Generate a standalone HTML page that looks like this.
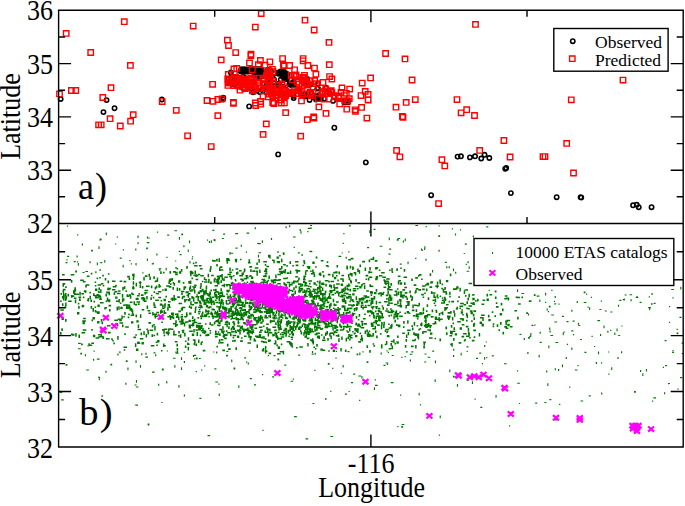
<!DOCTYPE html>
<html><head><meta charset="utf-8"><style>
html,body{margin:0;padding:0;background:#fff;width:685px;height:506px;overflow:hidden}
svg{display:block}
text{font-family:"Liberation Serif",serif;fill:#000}
</style></head><body>
<svg width="685" height="506" viewBox="0 0 685 506">
<path fill="#007800" d="M95.6 337.2h3.6v1.5h-3.6zM291.5 346.1h1.6v1.6h-1.6zM426.5 282.8h2.7v1.6h-2.7zM304 313.1h1.6v2.7h-1.6zM160.6 300h1.6v1.6h-1.6zM150.8 345.1h3.6v1.5h-3.6zM222.2 305.9h1.5v3.6h-1.5zM196.8 274.9h1.6v1.6h-1.6zM277.8 346.3h1.6v1.6h-1.6zM221.1 317.5h1.5v3.6h-1.5zM279.9 326.2h1.5v3.6h-1.5zM390.8 340.7h3.6v1.5h-3.6zM104.7 277.9h1.6v2.7h-1.6zM488.3 318.9h2.4v2.4h-2.4zM342.2 299.8h2.4v2.4h-2.4zM70.8 280.1h1.6v2.7h-1.6zM210.4 289.6h1.6v1.6h-1.6zM62.6 283.1h2.7v1.6h-2.7zM249.2 350.5h1.2v1.2h-1.2zM349 328h1.5v3.6h-1.5zM340.3 291.5h2.7v1.6h-2.7zM240.1 307.1h2.4v2.4h-2.4zM406.7 312h1.6v1.6h-1.6zM116 300.4h2.7v1.6h-2.7zM386.1 308.2h1.6v1.6h-1.6zM194 284.7h2.7v1.6h-2.7zM198.8 357.9h2v1.2h-2zM295.4 307.5h1.6v1.6h-1.6zM215.9 319.9h2.4v2.4h-2.4zM263.7 295.4h1.5v3.6h-1.5zM213.6 238.9h1.2v2h-1.2zM213.6 279h1.5v3.6h-1.5zM195.1 306.4h1.6v1.6h-1.6zM290.5 336.5h2.7v1.6h-2.7zM473 293.9h1.6v1.6h-1.6zM201.1 369.5h1.2v1.2h-1.2zM390.6 314.6h1.6v1.6h-1.6zM547.3 383.3h1.1v2.7h-1.1zM341.4 274.7h2.7v1.6h-2.7zM187.7 249.4h1.1v2.7h-1.1zM452.9 288.3h1.6v1.6h-1.6zM281 313.6h1.5v3.6h-1.5zM276.6 297h1.5v3.6h-1.5zM453.5 327.3h1.6v2.7h-1.6zM230.4 313.2h2.7v1.6h-2.7zM217.5 319.1h1.6v1.6h-1.6zM247.5 331h1.6v2.7h-1.6zM577.4 365.1h1.2v1.2h-1.2zM287.6 329.8h1.5v3.6h-1.5zM257 290.9h1.6v2.7h-1.6zM122.6 264.7h1.1v2.7h-1.1zM220.2 291.6h2.7v1.6h-2.7zM93.5 350.5h1.2v1.2h-1.2zM355.7 316.1h1.6v2.7h-1.6zM191.7 258.2h1.2v1.2h-1.2zM310.3 339.3h1.6v1.6h-1.6zM261.3 281.6h3.6v1.5h-3.6zM148.4 273.7h1.6v2.7h-1.6zM225.5 315.9h2.7v1.6h-2.7zM357 288h1.6v1.6h-1.6zM198.9 265h2.7v1.6h-2.7zM135.5 314.6h1.6v2.7h-1.6zM209.3 298.9h2.4v2.4h-2.4zM312.8 288.5h1.6v1.6h-1.6zM298.2 354.5h2v1.2h-2zM269.5 302.7h1.6v2.7h-1.6zM370.7 323.1h2.7v1.6h-2.7zM417.4 315.8h1.6v1.6h-1.6zM445.9 279.9h2.4v2.4h-2.4zM167.6 304.1h2.4v2.4h-2.4zM278.3 278.9h2.7v1.6h-2.7zM201.1 325h1.6v2.7h-1.6zM141.8 285.9h1.6v2.7h-1.6zM248.3 309h2.7v1.6h-2.7zM450.8 325h1.6v2.7h-1.6zM398.4 279.9h2.7v1.6h-2.7zM239.8 304.5h1.6v1.6h-1.6zM351.5 305.1h1.6v1.6h-1.6zM216.1 279.1h1.6v1.6h-1.6zM367.5 335.4h2.7v1.6h-2.7zM178.4 385h1.1v2.7h-1.1zM321.9 299.7h1.6v2.7h-1.6zM243.7 322.9h2.7v1.6h-2.7zM482.3 323.8h1.6v2.7h-1.6zM421.7 249.7h1.2v1.2h-1.2zM68.1 300.5h3.6v1.5h-3.6zM304.1 330.1h1.5v3.6h-1.5zM106.8 297.6h1.5v3.6h-1.5zM284.4 328.3h2.7v1.6h-2.7zM247.9 262h2.7v1.6h-2.7zM231.4 281.7h1.6v1.6h-1.6zM482.5 299.5h2.7v1.6h-2.7zM169.9 283.3h1.6v1.6h-1.6zM299.6 315.5h2.4v2.4h-2.4zM209.5 268.5h1.5v3.6h-1.5zM384.7 330.3h1.6v1.6h-1.6zM155.3 280.3h2.7v1.6h-2.7zM207.5 306.8h2.7v1.6h-2.7zM230.6 296.4h1.5v3.6h-1.5zM444.4 307h3.6v1.5h-3.6zM279 310h2.4v2.4h-2.4zM133.1 273.5h1.5v3.6h-1.5zM502.5 331.7h1.6v2.7h-1.6zM267.8 339.5h2.4v2.4h-2.4zM230.6 282.7h2.7v1.6h-2.7zM219.7 269.3h3.6v1.5h-3.6zM292.4 327.6h1.6v2.7h-1.6zM411.5 296.3h1.5v3.6h-1.5zM240.6 301.7h3.6v1.5h-3.6zM375.2 306h2.7v1.6h-2.7zM580.5 400.5h2.7v1.1h-2.7zM142.7 299.7h2.7v1.6h-2.7zM145.9 285.6h3.6v1.5h-3.6zM381.1 321.9h1.6v2.7h-1.6zM189.9 280.4h1.5v3.6h-1.5zM549.2 327.4h1.1v2.7h-1.1zM500 322.1h1.6v2.7h-1.6zM240.8 312.6h1.6v2.7h-1.6zM188.5 319.7h2.4v2.4h-2.4zM399.7 302.8h1.6v2.7h-1.6zM246.7 301.9h1.6v1.6h-1.6zM215.1 316.1h2.7v1.6h-2.7zM99.3 239.4h2v1.2h-2zM248.4 315.3h3.6v1.5h-3.6zM216.3 305.8h1.6v1.6h-1.6zM341.7 295.1h1.6v2.7h-1.6zM359.5 264.5h1.6v2.7h-1.6zM313 300.7h1.6v1.6h-1.6zM259 317.2h2.7v1.6h-2.7zM272.4 333.7h2.4v2.4h-2.4zM252.4 294.5h1.6v1.6h-1.6zM300.6 331.8h1.6v2.7h-1.6zM456.2 286.3h2.4v2.4h-2.4zM445.4 291.1h1.5v3.6h-1.5zM324.8 299.5h2.7v1.6h-2.7zM270.6 279.5h3.6v1.5h-3.6zM287.4 307.7h2.7v1.6h-2.7zM192.9 300.1h1.6v1.6h-1.6zM506.5 319.8h3.6v1.5h-3.6zM231.5 317.8h3.6v1.5h-3.6zM218.8 339.2h1.6v2.7h-1.6zM256.2 336.5h3.6v1.5h-3.6zM310.8 303.1h2.7v1.6h-2.7zM598 351.6h1.1v2.7h-1.1zM266.7 310.4h1.5v3.6h-1.5zM221.9 306.7h2.7v1.6h-2.7zM303 280.7h2.4v2.4h-2.4zM256.6 308.1h1.5v3.6h-1.5zM371.1 299.2h2.4v2.4h-2.4zM400.6 294.2h1.6v1.6h-1.6zM187.7 337.2h1.5v3.6h-1.5zM323.4 293h2.4v2.4h-2.4zM326.7 261.3h1.6v1.6h-1.6zM198.3 312.9h1.6v1.6h-1.6zM372.4 332.9h1.6v2.7h-1.6zM147.5 331.9h1.6v2.7h-1.6zM129.8 296h1.6v2.7h-1.6zM668.9 321.7h1.2v1.2h-1.2zM377.7 307.8h2.7v1.6h-2.7zM282.5 292.5h1.5v3.6h-1.5zM97.4 304.6h2.4v2.4h-2.4zM363.3 306.5h3.6v1.5h-3.6zM430.4 281.2h2.7v1.6h-2.7zM448.6 266.3h1.2v2h-1.2zM434.5 337.7h1.6v1.6h-1.6zM253.5 317h1.5v3.6h-1.5zM282.4 299h1.6v2.7h-1.6zM390.9 297.2h1.5v3.6h-1.5zM284.3 313.7h1.6v2.7h-1.6zM125.8 360.3h1.8v1.8h-1.8zM619.3 299.7h2v1.2h-2zM312.5 341h1.5v3.6h-1.5zM291 331h1.6v2.7h-1.6zM111.9 280.6h3.6v1.5h-3.6zM215.5 291.1h2.7v1.6h-2.7zM304 293.9h2.4v2.4h-2.4zM319.2 280.4h1.5v3.6h-1.5zM232.6 334.8h3.6v1.5h-3.6zM226.2 312.2h3.6v1.5h-3.6zM201.8 280.7h1.6v1.6h-1.6zM106.9 325h3.6v1.5h-3.6zM185.7 299h1.6v1.6h-1.6zM424.5 353.4h2v1.2h-2zM99.5 297.7h1.6v1.6h-1.6zM299.4 289.5h1.6v2.7h-1.6zM192.9 296.7h1.5v3.6h-1.5zM293.3 316.6h1.5v3.6h-1.5zM317.2 302.4h1.6v1.6h-1.6zM324.8 280h3.6v1.5h-3.6zM394.4 342.8h1.6v1.6h-1.6zM233.4 323.4h1.6v1.6h-1.6zM121.9 298.7h1.5v3.6h-1.5zM530.3 333.1h1.1v2.7h-1.1zM195.4 329.2h2.7v1.6h-2.7zM265.2 295.8h3.6v1.5h-3.6zM229.2 271.6h2.7v1.6h-2.7zM75.2 333.1h1.5v3.6h-1.5zM61.5 317.5h2.4v2.4h-2.4zM366.6 333.6h3.6v1.5h-3.6zM321.1 283.6h3.6v1.5h-3.6zM322 320.5h2.7v1.6h-2.7zM303.2 319.3h2.4v2.4h-2.4zM305.7 324.2h2.7v1.6h-2.7zM345.6 256.7h1.2v2h-1.2zM457.1 300.6h1.6v1.6h-1.6zM266.5 312.2h2.7v1.6h-2.7zM484.1 345.1h1.2v2h-1.2zM263.1 279.7h2.7v1.6h-2.7zM424.4 319.9h2.4v2.4h-2.4zM528.8 300.3h1.8v1.8h-1.8zM441 302.2h3.6v1.5h-3.6zM616.5 328.5h1.1v2.7h-1.1zM71 295.1h1.6v2.7h-1.6zM132.7 281.2h1.5v3.6h-1.5zM260.1 315h1.6v1.6h-1.6zM405.4 305h1.5v3.6h-1.5zM260 282.5h1.6v1.6h-1.6zM136.5 301.2h3.6v1.5h-3.6zM197.6 273.7h2.7v1.6h-2.7zM218.1 306h2.7v1.6h-2.7zM276.5 256.4h2.4v2.4h-2.4zM439.1 318.5h3.6v1.5h-3.6zM406.4 297.4h1.6v2.7h-1.6zM82.3 320.3h3.6v1.5h-3.6zM200.5 296.6h2.4v2.4h-2.4zM97.1 321h2.4v2.4h-2.4zM224.1 337.6h2.7v1.6h-2.7zM548.8 305.8h1.8v1.8h-1.8zM71.9 334.2h2.7v1.6h-2.7zM297.6 270.1h2.7v1.6h-2.7zM211.4 296.5h2.7v1.6h-2.7zM519.4 333.9h2v1.2h-2zM205.1 309.2h1.5v3.6h-1.5zM413.7 322.1h1.5v3.6h-1.5zM301.5 254.1h1.2v2h-1.2zM153.4 334.7h1.6v1.6h-1.6zM301.6 324.4h1.6v2.7h-1.6zM380.9 344.2h1.6v2.7h-1.6zM409.8 359.6h1.2v2h-1.2zM466 335.6h3.6v1.5h-3.6zM172.7 298.2h3.6v1.5h-3.6zM124.5 304.3h3.6v1.5h-3.6zM386.8 330.7h1.6v1.6h-1.6zM241.1 325.9h1.6v2.7h-1.6zM466 319.8h1.6v1.6h-1.6zM205.3 279.1h1.6v1.6h-1.6zM291.3 338.4h1.6v1.6h-1.6zM204.1 365.2h1.2v1.2h-1.2zM275.7 287.6h2.4v2.4h-2.4zM403.7 269h1.6v2.7h-1.6zM160.9 349.9h1.6v1.6h-1.6zM319.2 287.3h1.5v3.6h-1.5zM165.4 295.8h1.6v1.6h-1.6zM264.4 330.4h1.6v2.7h-1.6zM62.5 283.2h1.5v3.6h-1.5zM209.5 330h1.6v1.6h-1.6zM322.1 294.6h1.5v3.6h-1.5zM306.8 325.7h1.6v2.7h-1.6zM215 336h2.7v1.6h-2.7zM136.2 297.8h1.6v1.6h-1.6zM203.7 330.3h1.5v3.6h-1.5zM381.1 271.9h3.6v1.5h-3.6zM254.9 303.1h2.7v1.6h-2.7zM169 306.5h1.6v1.6h-1.6zM466.5 346.2h2v1.2h-2zM171.5 278.1h1.6v2.7h-1.6zM183.4 286.5h1.5v3.6h-1.5zM268.3 312h2.7v1.6h-2.7zM466.4 301.3h1.6v2.7h-1.6zM481.1 314.4h3.6v1.5h-3.6zM320.1 328.3h1.6v1.6h-1.6zM362.9 318h2.7v1.6h-2.7zM188.3 281h1.6v2.7h-1.6zM331.6 324.7h2.7v1.6h-2.7zM201.3 341.2h1.6v1.6h-1.6zM237.7 311.6h1.6v1.6h-1.6zM425.2 326.4h2.7v1.6h-2.7zM554.6 296h1.2v2h-1.2zM325.9 322.7h1.6v2.7h-1.6zM390.7 310.6h3.6v1.5h-3.6zM478.7 332.9h1.5v3.6h-1.5zM278.4 320.7h1.6v1.6h-1.6zM680.3 286.7h1.1v2.7h-1.1zM285.5 317.7h2.7v1.6h-2.7zM401.3 425.9h1.8v1.8h-1.8zM617.4 356.9h1.2v2h-1.2zM329.4 313.7h2.7v1.6h-2.7zM203.1 291.8h1.5v3.6h-1.5zM153.5 313.5h3.6v1.5h-3.6zM275.7 310.5h1.5v3.6h-1.5zM147.3 329.8h1.6v2.7h-1.6zM379.3 320h1.6v1.6h-1.6zM268.6 306.4h1.5v3.6h-1.5zM290.4 326.2h1.5v3.6h-1.5zM232.7 297.4h1.5v3.6h-1.5zM310.8 317h2.7v1.6h-2.7zM280.7 336.3h3.6v1.5h-3.6zM364.2 323.1h2.7v1.6h-2.7zM349.5 288.8h1.6v2.7h-1.6zM220 303.4h1.5v3.6h-1.5zM330.4 335.6h1.5v3.6h-1.5zM351.3 322.5h1.6v1.6h-1.6zM260 329.6h2.7v1.6h-2.7zM117.8 290.2h2.7v1.6h-2.7zM209.4 322.2h1.6v2.7h-1.6zM375.7 289.1h1.6v2.7h-1.6zM230.1 315.3h2.7v1.6h-2.7zM290.1 344.6h2.7v1.6h-2.7zM438.3 317.1h1.5v3.6h-1.5zM331.7 325.2h1.6v1.6h-1.6zM288.8 283.6h1.5v3.6h-1.5zM322.3 321.5h2.7v1.6h-2.7zM415.1 290.1h1.6v2.7h-1.6zM648.2 307.1h2.7v1.1h-2.7zM414.8 291.5h1.6v1.6h-1.6zM173.5 283h1.6v2.7h-1.6zM289.1 225.2h1.2v2h-1.2zM78 348.2h2.7v1.1h-2.7zM235.3 290.6h2.7v1.6h-2.7zM174.9 271.8h2.7v1.6h-2.7zM404.7 292.1h2.7v1.6h-2.7zM325.1 320.5h3.6v1.5h-3.6zM305.4 331.3h2.4v2.4h-2.4zM390.4 283.1h1.6v2.7h-1.6zM236.4 304.3h1.6v1.6h-1.6zM219 267.5h1.5v3.6h-1.5zM273.7 303.8h2.7v1.6h-2.7zM388.2 301.3h1.6v2.7h-1.6zM298.6 286.3h1.5v3.6h-1.5zM326 312h3.6v1.5h-3.6zM193.3 329h1.5v3.6h-1.5zM345.3 312.9h1.6v1.6h-1.6zM311.5 309.4h1.6v1.6h-1.6zM352.7 289.9h3.6v1.5h-3.6zM348.5 294h2.7v1.6h-2.7zM370.7 322.4h1.6v2.7h-1.6zM539.7 341.8h2v1.2h-2zM207.6 310.2h1.5v3.6h-1.5zM60.1 300.5h1.6v1.6h-1.6zM516.4 296.7h3.6v1.5h-3.6zM454.9 233.4h1.2v2h-1.2zM319.1 308.6h2.7v1.6h-2.7zM473 302h1.6v2.7h-1.6zM96.6 277.6h1.6v1.6h-1.6zM545.1 292.8h1.1v2.7h-1.1zM205.2 334.7h2.7v1.6h-2.7zM303.5 289.4h1.5v3.6h-1.5zM169.3 278.6h2.4v2.4h-2.4zM449.1 291.7h1.5v3.6h-1.5zM135.6 297.7h2.4v2.4h-2.4zM417.7 333.5h1.5v3.6h-1.5zM308.5 323.7h1.6v1.6h-1.6zM205.3 291.9h1.6v2.7h-1.6zM248.1 317.2h3.6v1.5h-3.6zM296.6 324.6h1.6v1.6h-1.6zM250.3 313.8h2.7v1.6h-2.7zM189 298h1.6v2.7h-1.6zM338.4 271.6h1.6v2.7h-1.6zM288.5 289.1h1.6v1.6h-1.6zM61.9 303.3h1.6v2.7h-1.6zM285 316.7h2.4v2.4h-2.4zM298 283.3h2.7v1.6h-2.7zM334.2 315.7h2.7v1.6h-2.7zM390.8 382.1h2.7v1.1h-2.7zM163.6 334.6h1.6v1.6h-1.6zM255.4 270.4h2.7v1.6h-2.7zM256.4 287.4h1.6v1.6h-1.6zM338.4 308.2h2.7v1.6h-2.7zM451.3 330.9h1.5v3.6h-1.5zM357.2 323.6h2.7v1.6h-2.7zM334.2 308.6h1.6v2.7h-1.6zM242 305.5h2.7v1.6h-2.7zM283.9 282.9h1.6v1.6h-1.6zM186.5 294.4h2.7v1.6h-2.7zM295 261.1h3.6v1.5h-3.6zM266.7 328.6h3.6v1.5h-3.6zM402.2 295.9h1.6v2.7h-1.6zM361.7 299h2.7v1.6h-2.7zM370.1 335.3h3.6v1.5h-3.6zM170.9 312.5h1.6v2.7h-1.6zM135.9 380.1h1.1v2.7h-1.1zM488.6 289.7h1.2v1.2h-1.2zM200.8 329.8h2.7v1.6h-2.7zM295.2 285.5h1.6v2.7h-1.6zM241.6 327.6h1.6v2.7h-1.6zM439.3 279.6h1.6v2.7h-1.6zM148.4 237.5h1.2v1.2h-1.2zM146.8 258.4h1.1v2.7h-1.1zM246.7 292.1h2.7v1.6h-2.7zM139.9 314.3h1.5v3.6h-1.5zM473.7 336.3h1.6v1.6h-1.6zM431.6 309.5h1.6v2.7h-1.6zM574.8 369.4h2.7v1.1h-2.7zM442.7 291.2h3.6v1.5h-3.6zM279.6 324.5h1.5v3.6h-1.5zM424.2 361.4h2v1.2h-2zM267.7 294.4h2.7v1.6h-2.7zM466.6 350.8h1.2v1.2h-1.2zM455.1 271.7h1.2v2h-1.2zM327.2 338h1.6v2.7h-1.6zM152.8 296.8h1.6v1.6h-1.6zM388.1 297.3h1.5v3.6h-1.5zM196.1 324.4h1.5v3.6h-1.5zM411.2 278.4h1.6v2.7h-1.6zM416.5 315.8h2.7v1.6h-2.7zM254.6 295.3h2.4v2.4h-2.4zM244.4 314.1h2.7v1.6h-2.7zM246.5 232.6h2.7v1.1h-2.7zM314.1 305.2h3.6v1.5h-3.6zM221.1 330h1.6v2.7h-1.6zM160.8 309.6h1.6v1.6h-1.6zM280.4 299h1.6v1.6h-1.6zM227.8 309.9h1.5v3.6h-1.5zM128.2 313.6h1.6v1.6h-1.6zM554.2 303.2h2v1.2h-2zM315.5 309h1.6v1.6h-1.6zM63.3 294.2h1.5v3.6h-1.5zM236.1 312.3h1.5v3.6h-1.5zM278.6 297.1h1.5v3.6h-1.5zM205.7 301.2h3.6v1.5h-3.6zM235.5 258.8h1.5v3.6h-1.5zM249.2 295.1h1.6v2.7h-1.6zM351.2 304.8h2.7v1.6h-2.7zM262.9 325.4h1.6v1.6h-1.6zM154.2 326h1.5v3.6h-1.5zM319.3 286.4h2.7v1.6h-2.7zM286 321.9h3.6v1.5h-3.6zM119.2 319.6h2.7v1.6h-2.7zM351 382h2v1.2h-2zM391.1 309.5h1.6v2.7h-1.6zM555.2 418.8h1.8v1.8h-1.8zM202.8 299.4h2.7v1.6h-2.7zM199.6 295.9h2.7v1.6h-2.7zM573 334.1h1.2v1.2h-1.2zM170.6 315.9h2.4v2.4h-2.4zM183.7 351.8h1.2v1.2h-1.2zM230.4 307.6h1.6v2.7h-1.6zM175.2 273.7h2.7v1.6h-2.7zM132.7 276.3h1.5v3.6h-1.5zM314.6 317.5h1.5v3.6h-1.5zM423.2 341.6h2.7v1.6h-2.7zM447.6 312.1h2.7v1.6h-2.7zM323.1 301.5h1.5v3.6h-1.5zM317 327h1.6v1.6h-1.6zM252.5 298.3h3.6v1.5h-3.6zM521.4 296.6h1.6v1.6h-1.6zM504 363.2h2.7v1.1h-2.7zM479.9 317.1h3.6v1.5h-3.6zM185.9 312.2h1.5v3.6h-1.5zM298.5 320.7h1.6v2.7h-1.6zM271.5 300.4h1.5v3.6h-1.5zM234.8 293.9h1.6v1.6h-1.6zM266.8 296.9h2.7v1.6h-2.7zM302.5 264.7h1.6v1.6h-1.6zM387.5 311.5h3.6v1.5h-3.6zM270.4 285.6h1.6v2.7h-1.6zM347.9 274h1.5v3.6h-1.5zM191.6 320h3.6v1.5h-3.6zM75.4 293.5h3.6v1.5h-3.6zM126.7 304.5h3.6v1.5h-3.6zM203.7 291.4h1.5v3.6h-1.5zM352.8 300.7h1.6v1.6h-1.6zM166.2 380.9h1.1v2.7h-1.1zM330 290.9h2.4v2.4h-2.4zM125.2 326.2h3.6v1.5h-3.6zM250.4 298.6h2.7v1.6h-2.7zM476 357.7h2v1.2h-2zM237.2 318.1h1.6v1.6h-1.6zM146.2 295.9h1.5v3.6h-1.5zM244.2 357.3h2v1.2h-2zM327.8 363h1.8v1.8h-1.8zM220 341.9h3.6v1.5h-3.6zM280.6 302.5h2.7v1.6h-2.7zM200 315.5h1.6v1.6h-1.6zM64.7 305.9h1.6v2.7h-1.6zM286.2 320.8h2.4v2.4h-2.4zM400 394.6h1.2v1.2h-1.2zM281.7 334h2.7v1.6h-2.7zM550.4 335h2.7v1.1h-2.7zM672.1 351.7h2v1.2h-2zM347.3 331.3h1.6v1.6h-1.6zM350.7 257.8h2.7v1.6h-2.7zM282.5 294.8h1.6v1.6h-1.6zM179.9 334.3h1.5v3.6h-1.5zM404.4 295.8h2.7v1.6h-2.7zM277.8 310.4h1.6v1.6h-1.6zM267.9 307.6h3.6v1.5h-3.6zM377 315.4h1.6v1.6h-1.6zM138.4 293.1h1.6v1.6h-1.6zM345.9 292.8h2.7v1.6h-2.7zM379.7 245.7h2.7v1.1h-2.7zM318.6 281.8h1.6v1.6h-1.6zM277.5 325.5h1.6v2.7h-1.6zM125.5 290.3h1.6v1.6h-1.6zM397.9 325.7h1.6v1.6h-1.6zM115.2 284.8h1.6v1.6h-1.6zM173.1 271.1h2.7v1.6h-2.7zM106.2 291.6h3.6v1.5h-3.6zM280.8 343.6h1.6v1.6h-1.6zM191.1 271.8h2.4v2.4h-2.4zM254.6 294.1h1.6v1.6h-1.6zM238.3 385.3h1.1v2.7h-1.1zM302.1 291.4h1.6v1.6h-1.6zM232.3 303.8h2.7v1.6h-2.7zM350.3 297.3h1.5v3.6h-1.5zM87.5 345.2h1.2v1.2h-1.2zM178.8 288h1.6v2.7h-1.6zM205.7 285.6h1.5v3.6h-1.5zM316 332.7h2.7v1.6h-2.7zM167.2 234.6h2v1.2h-2zM313.4 346.5h1.6v1.6h-1.6zM450.1 311h1.6v2.7h-1.6zM197.7 291.6h2.4v2.4h-2.4zM376.1 335.6h1.6v2.7h-1.6zM228.4 322.3h1.6v2.7h-1.6zM314.2 303.2h1.6v1.6h-1.6zM421 248.6h1.2v2h-1.2zM222.5 335.4h2.7v1.6h-2.7zM314.3 329h1.6v2.7h-1.6zM441.8 299.6h2.7v1.6h-2.7zM304.5 282.1h2.4v2.4h-2.4zM315.4 298.2h1.6v1.6h-1.6zM391.7 354.9h2v1.2h-2zM282.7 301.3h1.6v2.7h-1.6zM287.3 298.5h2.4v2.4h-2.4zM389.3 286.3h1.6v1.6h-1.6zM219.1 314.8h2.4v2.4h-2.4zM186.1 267.2h1.6v1.6h-1.6zM235.4 347.2h1.6v2.7h-1.6zM370.3 292.1h2.7v1.6h-2.7zM248.7 302.6h2.7v1.6h-2.7zM371.3 310.7h1.5v3.6h-1.5zM429.2 325h2.7v1.6h-2.7zM277.4 251h1.2v2h-1.2zM268 254.8h1.6v2.7h-1.6zM304.3 306.2h3.6v1.5h-3.6zM276.9 320.3h2.4v2.4h-2.4zM334.4 292.5h1.6v1.6h-1.6zM228 348.3h2.7v1.6h-2.7zM175 324.3h1.6v2.7h-1.6zM604.8 310.4h2v1.2h-2zM244.4 309.9h1.6v1.6h-1.6zM168.4 281.3h1.6v2.7h-1.6zM366.7 296.3h2.7v1.6h-2.7zM230 333.5h1.6v2.7h-1.6zM285.6 330.7h1.5v3.6h-1.5zM313.1 301.1h1.5v3.6h-1.5zM303.3 260.1h1.6v2.7h-1.6zM239.1 329h1.6v2.7h-1.6zM645.9 368.9h1.1v2.7h-1.1zM383.1 324.3h1.5v3.6h-1.5zM151.7 263.3h2v1.2h-2zM258.6 310.1h2.4v2.4h-2.4zM335.2 271.2h2.4v2.4h-2.4zM270.4 285.5h1.6v1.6h-1.6zM135.6 282.8h1.5v3.6h-1.5zM327.5 297h1.6v1.6h-1.6zM204.7 330.6h1.6v2.7h-1.6zM514.4 309.9h2.7v1.6h-2.7zM405.8 351.2h2v1.2h-2zM243.1 313.3h1.5v3.6h-1.5zM135.5 262.9h1.1v2.7h-1.1zM215 299.4h1.6v1.6h-1.6zM339.8 329.2h2.7v1.6h-2.7zM291.6 331.6h1.6v2.7h-1.6zM294.5 290.6h1.5v3.6h-1.5zM141.5 342.1h2.4v2.4h-2.4zM452.6 330.4h2.7v1.6h-2.7zM358.7 270.1h1.5v3.6h-1.5zM283.1 263.9h2.7v1.6h-2.7zM203.5 301.3h1.5v3.6h-1.5zM263.6 296.5h1.5v3.6h-1.5zM447 315.5h3.6v1.5h-3.6zM187.8 292.9h2.7v1.6h-2.7zM80.2 279.4h3.6v1.5h-3.6zM441.6 283.6h1.6v1.6h-1.6zM144.5 289.7h3.6v1.5h-3.6zM342.2 295.1h3.6v1.5h-3.6zM250.2 306.2h1.5v3.6h-1.5zM256.3 297.3h1.5v3.6h-1.5zM172.4 287.1h1.6v2.7h-1.6zM190.2 301.3h1.5v3.6h-1.5zM348.3 259h2.7v1.6h-2.7zM316.8 318.7h1.6v1.6h-1.6zM434.6 304.7h1.6v1.6h-1.6zM89.5 295.7h1.5v3.6h-1.5zM195.4 274.2h1.6v2.7h-1.6zM92.5 308.1h1.5v3.6h-1.5zM217.8 279.6h1.5v3.6h-1.5zM300.6 333h1.6v1.6h-1.6zM277.4 273.7h3.6v1.5h-3.6zM304.4 336.1h2.7v1.6h-2.7zM309.4 250.8h2.7v1.1h-2.7zM295.3 314.8h2.7v1.6h-2.7zM389.2 248.6h2v1.2h-2zM280.5 319.5h1.5v3.6h-1.5zM412 339.8h3.6v1.5h-3.6zM323.9 316.5h1.5v3.6h-1.5zM349.6 272.7h1.6v2.7h-1.6zM534.3 324.6h1.2v1.2h-1.2zM305.5 333.8h1.5v3.6h-1.5zM221.3 274h1.6v2.7h-1.6zM123.7 349.2h1.6v1.6h-1.6zM320.4 348.4h2.4v2.4h-2.4zM558.4 303.6h1.2v1.2h-1.2zM200.8 315.6h2.7v1.6h-2.7zM309.1 313.9h1.5v3.6h-1.5zM97.6 284.3h3.6v1.5h-3.6zM314.6 352.7h1.2v2h-1.2zM289.1 310.8h1.5v3.6h-1.5zM273.6 302.9h1.6v1.6h-1.6zM298.9 296.3h1.6v2.7h-1.6zM332.9 307.5h1.6v1.6h-1.6zM438.7 318.8h1.6v2.7h-1.6zM228.9 301.6h1.6v2.7h-1.6zM303.5 305.4h1.6v2.7h-1.6zM377.9 292.9h3.6v1.5h-3.6zM509.9 326h2.7v1.6h-2.7zM245.8 251.6h1.2v1.2h-1.2zM324.3 296.2h1.5v3.6h-1.5zM390.8 309.4h1.6v1.6h-1.6zM355 334.9h2.4v2.4h-2.4zM269.1 328.7h1.6v2.7h-1.6zM153.3 323.9h1.6v1.6h-1.6zM389 294.3h1.5v3.6h-1.5zM276.4 286.3h2.7v1.6h-2.7zM212.3 301h1.6v1.6h-1.6zM308.6 328.3h1.5v3.6h-1.5zM366.6 361.3h1.8v1.8h-1.8zM192.9 355.1h1.2v2h-1.2zM265.2 331.5h2.7v1.6h-2.7zM281.9 302.7h1.6v1.6h-1.6zM317.1 303.2h1.6v2.7h-1.6zM681.7 352.9h2v1.2h-2zM117.7 318.4h3.6v1.5h-3.6zM155.2 299.6h3.6v1.5h-3.6zM243.7 282.2h1.6v2.7h-1.6zM60.3 309.3h3.6v1.5h-3.6zM262.4 336.3h2.4v2.4h-2.4zM215.1 330.5h1.5v3.6h-1.5zM295.3 300.1h1.6v2.7h-1.6zM332.3 324.7h2.7v1.6h-2.7zM642.3 373.2h1.1v2.7h-1.1zM243.9 268.7h1.6v2.7h-1.6zM254.7 302.8h1.5v3.6h-1.5zM199.7 334.6h1.6v1.6h-1.6zM342.9 312.1h1.5v3.6h-1.5zM376.9 315.3h3.6v1.5h-3.6zM210.1 281.4h1.6v2.7h-1.6zM325.2 317.3h1.5v3.6h-1.5zM397.8 291.5h1.5v3.6h-1.5zM225.5 308.9h1.5v3.6h-1.5zM292.8 293.4h1.6v1.6h-1.6zM313.6 274.2h1.6v2.7h-1.6zM93 293.3h1.6v2.7h-1.6zM219.3 294.4h1.5v3.6h-1.5zM461.7 324h2.7v1.6h-2.7zM146.9 236.6h1.2v2h-1.2zM233.6 322.7h1.6v2.7h-1.6zM282.1 271h2.7v1.6h-2.7zM348.9 225.2h2v1.2h-2zM292.5 316.4h3.6v1.5h-3.6zM216.4 345.8h1.6v1.6h-1.6zM344.6 300.9h1.6v2.7h-1.6zM256.8 290.6h1.6v1.6h-1.6zM480.3 406.8h2v1.2h-2zM226.4 323.7h1.5v3.6h-1.5zM332.7 349.6h2.4v2.4h-2.4zM278.1 286.2h3.6v1.5h-3.6zM259.1 269.4h1.5v3.6h-1.5zM217.8 291.4h1.5v3.6h-1.5zM356.1 307h1.6v2.7h-1.6zM261.8 349.2h2.4v2.4h-2.4zM411.8 309.6h2.7v1.6h-2.7zM214.8 333.7h3.6v1.5h-3.6zM295 326.5h1.5v3.6h-1.5zM346.7 323.7h1.6v2.7h-1.6zM294.3 314.3h1.5v3.6h-1.5zM281.1 314.4h2.7v1.6h-2.7zM341.9 314h2.7v1.6h-2.7zM276.1 295.2h3.6v1.5h-3.6zM276.6 288.3h1.5v3.6h-1.5zM187.7 298.9h2.4v2.4h-2.4zM323.8 316h1.6v2.7h-1.6zM264.9 349.8h1.5v3.6h-1.5zM99.6 336.1h3.6v1.5h-3.6zM433.6 302.5h1.6v1.6h-1.6zM230.2 306h3.6v1.5h-3.6zM218.3 321.7h2.4v2.4h-2.4zM327.7 316h3.6v1.5h-3.6zM274.8 340.2h1.6v2.7h-1.6zM260 300.4h1.6v2.7h-1.6zM289.3 328.8h1.6v1.6h-1.6zM155.8 285.5h1.6v2.7h-1.6zM332.7 310.2h3.6v1.5h-3.6zM346.1 297.3h3.6v1.5h-3.6zM65 293.1h1.5v3.6h-1.5zM318.9 312.4h1.5v3.6h-1.5zM424.8 324h2.7v1.6h-2.7zM424 315.7h1.6v2.7h-1.6zM321.8 307.6h2.7v1.6h-2.7zM306.2 310.1h1.5v3.6h-1.5zM183.3 245.3h1.2v2h-1.2zM505.6 327.5h2.7v1.6h-2.7zM324.8 322.6h1.6v1.6h-1.6zM378.2 316.1h1.5v3.6h-1.5zM263.6 294h2.7v1.6h-2.7zM398.8 324.6h1.6v2.7h-1.6zM317.9 305.1h3.6v1.5h-3.6zM268.9 308.4h2.7v1.6h-2.7zM502 308.6h1.6v2.7h-1.6zM280.4 303.2h1.6v1.6h-1.6zM144.3 291.9h1.6v2.7h-1.6zM179.6 254h2v1.2h-2zM261.3 317.1h1.6v2.7h-1.6zM391.3 268h1.5v3.6h-1.5zM399.5 299.5h1.6v2.7h-1.6zM262.8 282.2h1.5v3.6h-1.5zM391.5 345.6h1.5v3.6h-1.5zM270.4 303.8h2.7v1.6h-2.7zM415.8 314.8h2.4v2.4h-2.4zM414.8 333.2h1.6v1.6h-1.6zM425.1 320h1.5v3.6h-1.5zM308 285.6h1.6v1.6h-1.6zM388.4 315.1h1.6v1.6h-1.6zM333.4 330.7h2.4v2.4h-2.4zM118.2 306.2h1.5v3.6h-1.5zM590.8 296.8h1.2v1.2h-1.2zM360.6 305.3h1.6v2.7h-1.6zM94.6 281.4h1.6v1.6h-1.6zM263.9 270.4h2.7v1.6h-2.7zM316.3 332.4h3.6v1.5h-3.6zM240.2 278.5h2.7v1.6h-2.7zM159.8 303.4h2.4v2.4h-2.4zM315.7 295.4h3.6v1.5h-3.6zM379.9 333.1h1.6v1.6h-1.6zM350.5 320.5h2.7v1.6h-2.7zM315.9 292.2h2.4v2.4h-2.4zM306.4 329.1h1.5v3.6h-1.5zM427.7 297.3h1.6v2.7h-1.6zM153.5 352.2h2v1.2h-2zM347.2 312.1h1.6v1.6h-1.6zM323.3 336.3h1.6v2.7h-1.6zM341.3 288.7h1.6v2.7h-1.6zM169.5 271h1.6v2.7h-1.6zM335.8 317.4h2.7v1.6h-2.7zM338 310.3h1.5v3.6h-1.5zM286.1 305.3h1.5v3.6h-1.5zM451.9 317h1.5v3.6h-1.5zM304.2 285h3.6v1.5h-3.6zM339.2 323.5h1.6v2.7h-1.6zM283.2 277.8h3.6v1.5h-3.6zM494.4 315.3h1.6v1.6h-1.6zM303 278.7h2.7v1.6h-2.7zM270.7 310.6h2.4v2.4h-2.4zM341.6 305.3h2.4v2.4h-2.4zM111.2 338.3h1.6v1.6h-1.6zM256.1 286.1h2.7v1.6h-2.7zM491.8 355.2h2v1.2h-2zM326.5 330.9h1.5v3.6h-1.5zM304.8 299.8h3.6v1.5h-3.6zM418.4 302.7h1.6v2.7h-1.6zM169.1 315.1h1.6v1.6h-1.6zM338.2 338.3h1.5v3.6h-1.5zM253.2 311.3h2.7v1.6h-2.7zM161.3 401.9h1.2v1.2h-1.2zM256.5 320.1h3.6v1.5h-3.6zM351.8 312.6h1.6v2.7h-1.6zM339.5 325.6h1.6v1.6h-1.6zM287.3 303.4h1.6v2.7h-1.6zM267.1 329.8h1.6v2.7h-1.6zM265.7 270.9h1.6v1.6h-1.6zM418.3 328.8h1.6v1.6h-1.6zM260.8 340.7h2.7v1.6h-2.7zM372.7 256.8h1.6v2.7h-1.6zM381 344.8h1.5v3.6h-1.5zM90.8 272.8h1.6v1.6h-1.6zM384 279.7h1.6v2.7h-1.6zM465.8 325.8h2.7v1.6h-2.7zM126.4 307.5h2.7v1.6h-2.7zM346.8 307.8h2.7v1.6h-2.7zM237.5 320.6h1.5v3.6h-1.5zM277.3 323.4h2.4v2.4h-2.4zM648.7 296.3h1.2v1.2h-1.2zM342.5 329h1.6v1.6h-1.6zM181.3 313.9h1.6v1.6h-1.6zM321.9 303.8h2.7v1.6h-2.7zM238.7 307.2h1.6v1.6h-1.6zM255.5 292h2.7v1.6h-2.7zM209.2 291.6h1.6v2.7h-1.6zM250.4 336.2h1.6v1.6h-1.6zM144.8 275.3h2.7v1.6h-2.7zM249.7 324.3h2.7v1.6h-2.7zM152 371.6h2.7v1.1h-2.7zM190.1 270.7h2.4v2.4h-2.4zM281.9 290.2h1.6v2.7h-1.6zM286.6 291.7h2.7v1.6h-2.7zM559.1 403.8h1.2v1.2h-1.2zM495.5 395h1.1v2.7h-1.1zM378.8 275h3.6v1.5h-3.6zM429.6 273.3h1.6v2.7h-1.6zM102.4 336.3h1.6v2.7h-1.6zM95.3 271.2h1.2v2h-1.2zM78.5 334.4h1.5v3.6h-1.5zM218.4 302.2h2.7v1.6h-2.7zM287.8 311.5h3.6v1.5h-3.6zM237.1 304.3h1.6v1.6h-1.6zM535.2 402.6h2v1.2h-2zM369.2 350.1h1.6v2.7h-1.6zM265 297.4h3.6v1.5h-3.6zM202.3 327.9h1.5v3.6h-1.5zM130.8 308.1h1.5v3.6h-1.5zM459.8 317.9h2.7v1.6h-2.7zM225.6 300.5h1.5v3.6h-1.5zM361.4 375.9h1.1v2.7h-1.1zM449.5 334.9h2.7v1.6h-2.7zM254.6 299h2.7v1.6h-2.7zM117.2 336.1h1.5v3.6h-1.5zM179.1 320.8h1.6v1.6h-1.6zM234.4 299.7h1.5v3.6h-1.5zM107.9 273.2h1.6v1.6h-1.6zM245 301.4h1.6v2.7h-1.6zM199.4 301.4h1.6v1.6h-1.6zM441.3 287.8h1.6v1.6h-1.6zM95 288.6h2.4v2.4h-2.4zM156.3 311.7h2.7v1.6h-2.7zM348.3 251.2h1.2v1.2h-1.2zM225.4 311.1h1.6v1.6h-1.6zM562.7 332.6h1.1v2.7h-1.1zM258.3 305.3h1.6v1.6h-1.6zM296.9 319h2.7v1.6h-2.7zM131 321.2h2.4v2.4h-2.4zM251.1 306.4h1.6v1.6h-1.6zM247.9 315.3h3.6v1.5h-3.6zM270.8 291.5h1.6v2.7h-1.6zM121.3 315.6h1.5v3.6h-1.5zM231.9 331h2.7v1.6h-2.7zM427.9 323h1.6v2.7h-1.6zM235.7 316.6h1.5v3.6h-1.5zM236.9 271.6h1.6v2.7h-1.6zM622.7 299h1.2v1.2h-1.2zM87.1 299.5h1.6v1.6h-1.6zM239.5 299.1h1.5v3.6h-1.5zM458.3 296.3h1.6v1.6h-1.6zM284 332.5h1.6v1.6h-1.6zM441.9 311.4h1.5v3.6h-1.5zM416.7 305h2.7v1.6h-2.7zM85.8 284.3h3.6v1.5h-3.6zM607.3 330.8h1.2v2h-1.2zM396.4 341.3h2.4v2.4h-2.4zM189.2 330.5h3.6v1.5h-3.6zM387 304.3h2.7v1.6h-2.7zM463.7 290.4h1.5v3.6h-1.5zM504.2 298h2.7v1.6h-2.7zM219.9 320.2h2.7v1.6h-2.7zM116.7 236.5h1.2v1.2h-1.2zM153.6 291.3h1.6v1.6h-1.6zM304.3 312.3h3.6v1.5h-3.6zM262.7 348.1h1.6v1.6h-1.6zM411.4 325.3h1.6v1.6h-1.6zM394.6 311.4h1.5v3.6h-1.5zM269.5 283.1h1.6v2.7h-1.6zM243.7 268.5h1.6v1.6h-1.6zM243 329h1.5v3.6h-1.5zM313.9 325.2h1.5v3.6h-1.5zM344.6 286.6h1.6v2.7h-1.6zM167.5 331.7h1.6v2.7h-1.6zM218.5 313.8h2.7v1.6h-2.7zM81 343.5h1.8v1.8h-1.8zM81.8 243.6h1.2v2h-1.2zM181.2 292.4h1.6v2.7h-1.6zM138 303.3h1.6v1.6h-1.6zM333.3 284.3h1.5v3.6h-1.5zM259.3 283.3h1.5v3.6h-1.5zM669 306.1h1.2v1.2h-1.2zM192.4 319.8h1.6v1.6h-1.6zM298.1 277.6h1.6v2.7h-1.6zM73.9 292.2h1.6v2.7h-1.6zM197.6 322.8h3.6v1.5h-3.6zM273.8 343h2.7v1.6h-2.7zM415.2 333.6h2.7v1.6h-2.7zM473.6 322.8h1.6v2.7h-1.6zM246.3 319.4h1.6v2.7h-1.6zM551.2 314.5h2.7v1.1h-2.7zM381.8 316.9h1.6v1.6h-1.6zM82.7 329.2h3.6v1.5h-3.6zM228.2 284h1.6v1.6h-1.6zM388.7 237.5h1.1v2.7h-1.1zM257.9 254.7h1.1v2.7h-1.1zM62.9 297.8h1.6v2.7h-1.6zM175.9 352.7h2.7v1.1h-2.7zM294.5 326.1h2.7v1.6h-2.7zM459.9 229.3h1.2v1.2h-1.2zM352.6 304h1.6v1.6h-1.6zM288.3 335.5h1.6v1.6h-1.6zM166.1 285.2h3.6v1.5h-3.6zM232.9 274.9h1.6v1.6h-1.6zM375.7 300.8h1.5v3.6h-1.5zM159.3 268.2h1.1v2.7h-1.1zM287.9 291.1h1.6v2.7h-1.6zM70.7 274.1h3.6v1.5h-3.6zM220.4 288.3h1.6v2.7h-1.6zM105.7 232.6h1.1v2.7h-1.1zM312.1 269.6h1.6v2.7h-1.6zM235.8 289.7h1.6v2.7h-1.6zM298.8 326.3h1.5v3.6h-1.5zM264.3 274.9h2.4v2.4h-2.4zM330.4 435.9h2.7v1.1h-2.7zM76.5 255.6h1.2v2h-1.2zM389 289h3.6v1.5h-3.6zM467.4 297.8h1.6v2.7h-1.6zM278.2 312.3h1.5v3.6h-1.5zM416.6 325h1.6v1.6h-1.6zM139.8 338h3.6v1.5h-3.6zM399.3 311.4h1.6v1.6h-1.6zM623.7 298.4h1.2v2h-1.2zM352.1 266.3h1.5v3.6h-1.5zM630.5 299.2h1.2v2h-1.2zM265.7 316.9h2.7v1.6h-2.7zM459.6 327.3h2.4v2.4h-2.4zM278.2 326.9h1.5v3.6h-1.5zM378.1 319.3h1.6v1.6h-1.6zM364.9 304.7h1.6v1.6h-1.6zM119.7 257.6h2v1.2h-2zM239.4 298.6h1.6v1.6h-1.6zM453 268.6h1.1v2.7h-1.1zM249.1 329.8h1.5v3.6h-1.5zM245 312h2.4v2.4h-2.4zM354.8 272h1.5v3.6h-1.5zM277.2 282.9h3.6v1.5h-3.6zM202.1 288.8h1.6v2.7h-1.6zM281.2 300.8h1.6v1.6h-1.6zM618.2 334.9h2v1.2h-2zM102.7 284.9h1.6v1.6h-1.6zM337.3 279.6h1.6v1.6h-1.6zM262.7 307.3h3.6v1.5h-3.6zM353.2 373.6h2v1.2h-2zM218.3 306.9h1.6v1.6h-1.6zM215.1 288.7h1.6v2.7h-1.6zM241.1 317.3h2.4v2.4h-2.4zM406.3 300.9h3.6v1.5h-3.6zM236.1 291.5h1.6v2.7h-1.6zM239.2 331.9h1.6v2.7h-1.6zM341.2 336.5h1.5v3.6h-1.5zM553.9 300.8h1.2v1.2h-1.2zM466.6 270.7h2.7v1.1h-2.7zM104.2 308h1.6v1.6h-1.6zM192.8 339.2h2.7v1.6h-2.7zM283.3 291.7h2.4v2.4h-2.4zM296.6 305.3h2.7v1.6h-2.7zM137.6 342.5h2.7v1.6h-2.7zM214.2 277.7h1.6v2.7h-1.6zM278.6 296.2h1.6v1.6h-1.6zM208.1 278.8h1.6v2.7h-1.6zM229.3 308.6h1.5v3.6h-1.5zM481.5 303.4h2.7v1.6h-2.7zM335.7 329.3h2.7v1.6h-2.7zM363.9 285.3h1.5v3.6h-1.5zM147.5 310h2.7v1.6h-2.7zM317.4 320.3h2.7v1.6h-2.7zM295.3 269.6h2.7v1.6h-2.7zM306 289.8h1.6v1.6h-1.6zM194.8 307.6h1.5v3.6h-1.5zM228.3 314.6h1.5v3.6h-1.5zM312.1 290.5h2.7v1.6h-2.7zM105.4 370.7h1.2v2h-1.2zM165.6 331.6h2.7v1.6h-2.7zM327.2 265.7h1.6v1.6h-1.6zM97.8 291h1.6v1.6h-1.6zM361.5 337.8h1.5v3.6h-1.5zM545 301.8h1.2v1.2h-1.2zM267 297.2h1.6v2.7h-1.6zM314.1 326.2h2.7v1.6h-2.7zM370.6 294.3h1.6v1.6h-1.6zM224.3 276.6h3.6v1.5h-3.6zM415.2 277.1h2.7v1.6h-2.7zM209.1 298.1h2.7v1.6h-2.7zM315.7 311.3h2.7v1.6h-2.7zM287.8 290.6h1.6v1.6h-1.6zM316.1 311.3h2.7v1.6h-2.7zM238.5 282.7h2.4v2.4h-2.4zM191.8 333.6h2.4v2.4h-2.4zM143.9 300.4h2.7v1.6h-2.7zM225.9 307.6h1.6v2.7h-1.6zM292 299.2h1.6v2.7h-1.6zM199.3 301.1h1.6v2.7h-1.6zM259 331.4h2.7v1.6h-2.7zM276.4 344.6h1.6v1.6h-1.6zM258.2 293.8h1.6v2.7h-1.6zM277.3 261.7h2.7v1.6h-2.7zM330.2 313.2h1.6v1.6h-1.6zM181 357.2h1.1v2.7h-1.1zM315.6 256.6h1.8v1.8h-1.8zM214.1 312.9h3.6v1.5h-3.6zM328.5 322.7h2.7v1.6h-2.7zM317.1 322.6h1.5v3.6h-1.5zM336 301.2h2.7v1.6h-2.7zM226.2 284.8h1.6v1.6h-1.6zM223 335h1.6v2.7h-1.6zM181.3 233.5h1.8v1.8h-1.8zM318.6 285.7h1.6v2.7h-1.6zM352.8 288h3.6v1.5h-3.6zM341.1 294.4h3.6v1.5h-3.6zM258.7 298.7h1.6v2.7h-1.6zM212.3 308.9h2.7v1.6h-2.7zM309.9 292.6h1.6v2.7h-1.6zM386.5 350.3h1.2v1.2h-1.2zM208 327.7h1.6v1.6h-1.6zM444.3 308.1h2.7v1.6h-2.7zM347.9 296.1h3.6v1.5h-3.6zM418.4 289.1h2.7v1.6h-2.7zM318.5 335.4h1.6v2.7h-1.6zM458.6 342.1h2.7v1.6h-2.7zM372.9 313.8h1.5v3.6h-1.5zM424.2 292.4h1.6v1.6h-1.6zM569.1 386.6h1.2v1.2h-1.2zM440.5 312.2h2.7v1.6h-2.7zM571.3 309.7h1.2v2h-1.2zM347.5 351h2v1.2h-2zM434.8 318.4h3.6v1.5h-3.6zM198 310.9h2.7v1.6h-2.7zM202.7 349.8h2.7v1.6h-2.7zM307.9 312.6h2.4v2.4h-2.4zM374.1 291.9h2.4v2.4h-2.4zM180.4 316.1h2.7v1.6h-2.7zM209.5 291.5h1.5v3.6h-1.5zM539.6 331.8h1.2v2h-1.2zM336.1 283.3h3.6v1.5h-3.6zM292.4 310.1h2.7v1.6h-2.7zM297.8 318.5h1.6v1.6h-1.6zM227.2 295.4h1.5v3.6h-1.5zM370.8 306.3h3.6v1.5h-3.6zM380.4 294.8h1.6v1.6h-1.6zM186.9 343.5h2.7v1.6h-2.7zM444.8 261.7h2v1.2h-2zM261.8 291.3h1.5v3.6h-1.5zM246.7 302.3h1.6v1.6h-1.6zM267.1 309.3h2.7v1.6h-2.7zM316.3 295h3.6v1.5h-3.6zM295.2 275.9h2.7v1.6h-2.7zM407.4 301.1h1.6v2.7h-1.6zM348 283.5h1.6v2.7h-1.6zM420.1 323.4h2.4v2.4h-2.4zM328.8 292.7h1.5v3.6h-1.5zM192 256.3h1.2v1.2h-1.2zM310.1 303.7h3.6v1.5h-3.6zM186.3 266.1h1.6v1.6h-1.6zM255.6 319.4h2.4v2.4h-2.4zM404.6 356h1.2v1.2h-1.2zM297.1 279.9h1.6v2.7h-1.6zM471.8 339.8h2.7v1.6h-2.7zM84.8 354.2h1.2v2h-1.2zM344.9 315.4h1.6v1.6h-1.6zM60 332.1h1.6v2.7h-1.6zM438.8 434.5h1.2v1.2h-1.2zM319 284.3h1.6v2.7h-1.6zM196.3 294.2h1.6v1.6h-1.6zM195.2 261.8h1.6v1.6h-1.6zM469.8 310.2h2.7v1.6h-2.7zM294.1 416.1h2.7v1.1h-2.7zM276.5 291.5h2.7v1.6h-2.7zM331.5 293.9h2.7v1.6h-2.7zM278.5 328.6h1.6v1.6h-1.6zM224.6 308.3h1.6v1.6h-1.6zM188.8 305.4h1.6v2.7h-1.6zM455.8 288.1h1.6v1.6h-1.6zM303.9 303.9h1.5v3.6h-1.5zM343.9 299.9h1.6v1.6h-1.6zM347.6 318.1h1.6v1.6h-1.6zM381.5 313h1.5v3.6h-1.5zM305.5 438.3h2.7v1.1h-2.7zM234.8 330h1.6v2.7h-1.6zM349.9 336.9h2.7v1.6h-2.7zM230.6 276.8h1.6v2.7h-1.6zM362.3 306.7h1.6v2.7h-1.6zM325.5 306h2.7v1.6h-2.7zM359.3 352.6h1.1v2.7h-1.1zM249.3 266.1h2.7v1.6h-2.7zM248.5 304.7h1.6v1.6h-1.6zM297.5 320.6h2.7v1.6h-2.7zM188.7 326.1h2.4v2.4h-2.4zM267.5 310.2h2.4v2.4h-2.4zM301.1 287.7h1.5v3.6h-1.5zM231.7 302.5h2.4v2.4h-2.4zM160.5 310.7h2.4v2.4h-2.4zM130.7 263.2h1.2v1.2h-1.2zM218.6 333.4h1.6v1.6h-1.6zM281.5 309.1h1.6v1.6h-1.6zM194.5 270.5h1.5v3.6h-1.5zM326.7 301.6h2.7v1.6h-2.7zM319 312.9h2.7v1.6h-2.7zM464.9 295.1h1.6v1.6h-1.6zM264.8 350.5h2.7v1.6h-2.7zM332.7 298.7h1.5v3.6h-1.5zM289.5 261.2h1.6v2.7h-1.6zM333.5 303.4h1.6v2.7h-1.6zM249 331.9h2.7v1.6h-2.7zM81.9 304.7h1.6v2.7h-1.6zM351.9 313.9h1.6v1.6h-1.6zM298.2 295.3h1.5v3.6h-1.5zM311.1 294.4h1.6v2.7h-1.6zM427.3 329.2h3.6v1.5h-3.6zM390 308.2h1.6v1.6h-1.6zM438.5 249.7h1.2v2h-1.2zM330.1 310.2h2.7v1.6h-2.7zM102.3 274.8h1.6v1.6h-1.6zM287.7 299.8h1.6v1.6h-1.6zM577.8 322.7h1.2v2h-1.2zM249.6 286.4h1.6v1.6h-1.6zM293.2 287.3h1.6v2.7h-1.6zM299.9 330.3h1.6v1.6h-1.6zM259.9 310.9h2.7v1.6h-2.7zM335.7 335h2.7v1.6h-2.7zM474.5 398.5h1.2v1.2h-1.2zM246 361.6h1.2v1.2h-1.2zM228 309.7h1.5v3.6h-1.5zM200.3 283.1h1.5v3.6h-1.5zM271.9 305.5h1.5v3.6h-1.5zM59.6 391.8h2.7v1.1h-2.7zM274 315h2.7v1.6h-2.7zM307.7 328.3h3.6v1.5h-3.6zM243.4 328.4h1.5v3.6h-1.5zM320 293.7h3.6v1.5h-3.6zM206.3 297.7h2.7v1.6h-2.7zM232.7 327.7h2.4v2.4h-2.4zM279.9 320.7h1.5v3.6h-1.5zM157.3 293h1.6v1.6h-1.6zM96.1 311.2h3.6v1.5h-3.6zM267.2 291.1h2.7v1.6h-2.7zM164.1 304.3h1.5v3.6h-1.5zM349.9 279.7h1.6v2.7h-1.6zM346.1 326.3h1.6v1.6h-1.6zM305.3 301.6h1.6v1.6h-1.6zM421.2 293.8h2.7v1.6h-2.7zM390.4 343h1.6v2.7h-1.6zM82.8 280.9h2.7v1.6h-2.7zM163.5 310.3h1.5v3.6h-1.5zM327.9 296h2.7v1.6h-2.7zM357.8 318.9h1.6v1.6h-1.6zM131.4 293.5h2.7v1.6h-2.7zM145.4 352.8h1.2v2h-1.2zM269.5 314.4h1.5v3.6h-1.5zM338.4 292h2.7v1.6h-2.7zM283.3 282.2h1.6v1.6h-1.6zM268.9 294.9h2.4v2.4h-2.4zM87.6 298h1.5v3.6h-1.5zM247.7 362.5h1.2v2h-1.2zM406.7 311h2.4v2.4h-2.4zM318.1 327.1h2.7v1.6h-2.7zM439.7 415.6h1.1v2.7h-1.1zM122.8 249.2h1.2v1.2h-1.2zM259.7 296.8h2.4v2.4h-2.4zM181 367.2h1.1v2.7h-1.1zM324.8 290.6h1.6v2.7h-1.6zM323.9 302.6h1.6v1.6h-1.6zM74.6 289.4h1.6v1.6h-1.6zM114.5 291h2.7v1.6h-2.7zM434.6 321h1.6v2.7h-1.6zM230.7 327.7h1.6v2.7h-1.6zM311.5 300.1h1.6v2.7h-1.6zM459.4 307.5h1.6v1.6h-1.6zM272.7 288.1h2.7v1.6h-2.7zM112.7 286.1h3.6v1.5h-3.6zM415.8 313.4h3.6v1.5h-3.6zM451.3 300.8h2.7v1.6h-2.7zM409.9 294.8h1.6v2.7h-1.6zM183.8 323h1.5v3.6h-1.5zM306.5 287.9h3.6v1.5h-3.6zM588.7 395.2h2v1.2h-2zM373.4 315.2h1.5v3.6h-1.5zM214.4 294.9h1.6v2.7h-1.6zM194.4 284.4h1.5v3.6h-1.5zM254.7 286.6h2.4v2.4h-2.4zM272.2 333.8h1.6v2.7h-1.6zM153.9 304.6h1.6v1.6h-1.6zM399.8 282.3h2.4v2.4h-2.4zM439.6 295.4h1.6v1.6h-1.6zM194.2 358.2h1.2v1.2h-1.2zM151.5 334.3h1.6v2.7h-1.6zM135.2 248.6h1.2v2h-1.2zM237.3 304.6h1.6v1.6h-1.6zM282.2 299.3h2.4v2.4h-2.4zM282.3 299.9h2.4v2.4h-2.4zM400.2 267.5h1.6v1.6h-1.6zM299.3 346.3h3.6v1.5h-3.6zM374.7 379.3h1.2v1.2h-1.2zM240.7 316.5h1.6v1.6h-1.6zM314.9 348h1.6v1.6h-1.6zM191.9 316.3h1.6v2.7h-1.6zM258.4 309.4h2.7v1.6h-2.7zM119.4 322.2h3.6v1.5h-3.6zM527.3 352.1h1.2v2h-1.2zM242 283.3h1.6v1.6h-1.6zM214.3 239.3h1.2v2h-1.2zM198.2 306.6h3.6v1.5h-3.6zM291.1 326.3h2.7v1.6h-2.7zM387.8 351.7h1.2v1.2h-1.2zM172.4 312.5h1.5v3.6h-1.5zM291.7 318h1.6v1.6h-1.6zM359.1 298.4h1.5v3.6h-1.5zM128.6 294.2h2.4v2.4h-2.4zM170.5 298.3h3.6v1.5h-3.6zM117 292.7h3.6v1.5h-3.6zM300.2 307.5h1.6v2.7h-1.6zM172.7 316.4h1.6v2.7h-1.6zM517.1 316.7h1.6v2.7h-1.6zM100 302h3.6v1.5h-3.6zM242.4 319h1.6v1.6h-1.6zM456.9 384h1.1v2.7h-1.1zM327.9 325.6h2.7v1.6h-2.7zM460.2 302.8h3.6v1.5h-3.6zM243.2 312h3.6v1.5h-3.6zM178.2 335h1.6v1.6h-1.6zM332.8 324.7h2.7v1.6h-2.7zM292.1 333h1.6v2.7h-1.6zM243.6 278.1h3.6v1.5h-3.6zM472.7 235.6h1.2v2h-1.2zM475.1 300.1h1.6v1.6h-1.6zM318.7 272.7h1.6v2.7h-1.6zM256.4 272.1h1.5v3.6h-1.5zM372.7 312.1h1.6v1.6h-1.6zM186.2 291.2h2.7v1.6h-2.7zM282.8 270.4h1.6v2.7h-1.6zM124.2 312h1.6v2.7h-1.6zM241.9 294.3h3.6v1.5h-3.6zM297.7 322.9h1.6v1.6h-1.6zM434.7 298.6h1.5v3.6h-1.5zM278.3 298.3h1.6v2.7h-1.6zM181.8 306.7h3.6v1.5h-3.6zM241.4 279.9h1.6v1.6h-1.6zM264.7 292h1.6v1.6h-1.6zM182.8 282.1h1.6v1.6h-1.6zM157.8 290.9h3.6v1.5h-3.6zM591.5 335.7h1.2v1.2h-1.2zM403.5 276.4h3.6v1.5h-3.6zM225.9 330.3h1.6v1.6h-1.6zM136.9 294.9h2.7v1.6h-2.7zM168.4 328.2h2.7v1.6h-2.7zM325 332.5h1.5v3.6h-1.5zM448 316.3h1.5v3.6h-1.5zM212.3 315.3h1.5v3.6h-1.5zM184.1 299h1.5v3.6h-1.5zM444.7 298.3h1.6v2.7h-1.6zM330.8 318.1h1.6v2.7h-1.6zM123.6 280.8h2.7v1.6h-2.7zM128.6 277.4h1.6v2.7h-1.6zM282.5 298.9h2.7v1.6h-2.7zM624.6 294.4h2v1.2h-2zM479.2 352.5h2v1.2h-2zM66.9 225.6h1.2v1.2h-1.2zM182.5 295.8h2.7v1.6h-2.7zM180.8 290.7h3.6v1.5h-3.6zM255.7 286.6h3.6v1.5h-3.6zM305.8 304.4h1.6v2.7h-1.6zM255.2 306.6h3.6v1.5h-3.6zM305.4 269.9h2.7v1.6h-2.7zM315.9 326.6h1.6v2.7h-1.6zM289.1 333.5h1.6v1.6h-1.6zM317.7 291h3.6v1.5h-3.6zM417.1 334.5h1.5v3.6h-1.5zM310.8 295.1h1.6v1.6h-1.6zM520.2 333.7h1.2v1.2h-1.2zM336.2 308.8h3.6v1.5h-3.6zM123.1 304.4h1.6v1.6h-1.6zM226.3 293.5h1.6v1.6h-1.6zM393.3 315.7h1.5v3.6h-1.5zM309.4 295h1.6v2.7h-1.6zM526.2 312.3h1.8v1.8h-1.8zM241.4 309.5h3.6v1.5h-3.6zM390.1 302.4h2.7v1.6h-2.7zM388.1 323.4h1.6v1.6h-1.6zM199.4 397.8h2v1.2h-2zM318.4 336.4h1.6v2.7h-1.6zM349.8 336.6h1.6v1.6h-1.6zM91.1 249.8h1.8v1.8h-1.8zM96.9 358.6h2.7v1.1h-2.7zM156.3 253.4h1.2v2h-1.2zM367.1 247h2v1.2h-2zM451.3 343.1h1.5v3.6h-1.5zM319.5 311.8h1.6v1.6h-1.6zM281.9 317.2h1.6v1.6h-1.6zM248.8 275.4h1.6v1.6h-1.6zM357.1 325.3h3.6v1.5h-3.6zM181.7 329.7h2.7v1.6h-2.7zM300.3 326.6h1.6v1.6h-1.6zM468.6 266.2h1.1v2.7h-1.1zM425.4 258.7h1.2v2h-1.2zM311.9 351.1h1.2v2h-1.2zM230.4 318.2h1.6v1.6h-1.6zM294.9 311.6h1.6v1.6h-1.6zM422.1 285.3h3.6v1.5h-3.6zM168 301h2.7v1.6h-2.7zM315.6 319.4h3.6v1.5h-3.6zM291.7 333.3h2.4v2.4h-2.4zM122.2 286.9h1.5v3.6h-1.5zM320.2 304.2h1.5v3.6h-1.5zM190.1 272.6h1.5v3.6h-1.5zM319.9 272.4h1.5v3.6h-1.5zM425.2 316h2.7v1.6h-2.7zM344.4 287.2h1.6v1.6h-1.6zM357.2 268.5h1.5v3.6h-1.5zM241.5 325.6h1.6v1.6h-1.6zM65.6 295.8h1.5v3.6h-1.5zM321.9 287.4h1.5v3.6h-1.5zM373.5 345.1h1.6v1.6h-1.6zM383.4 321.7h1.5v3.6h-1.5zM232 340.3h3.6v1.5h-3.6zM239.3 275.1h3.6v1.5h-3.6zM264.8 338.1h1.6v1.6h-1.6zM312.4 296.1h3.6v1.5h-3.6zM207.5 435.1h2.7v1.1h-2.7zM302.4 307.8h1.6v1.6h-1.6zM65 319h1.6v2.7h-1.6zM358.6 314.1h1.6v2.7h-1.6zM336.5 319.6h1.5v3.6h-1.5zM218.4 325h1.6v1.6h-1.6zM343.5 292.5h3.6v1.5h-3.6zM267.7 296.1h2.7v1.6h-2.7zM332.3 326.9h1.5v3.6h-1.5zM62 273.9h2.7v1.6h-2.7zM344.8 300.2h1.6v2.7h-1.6zM192.8 322.3h1.5v3.6h-1.5zM505.7 297.6h3.6v1.5h-3.6zM258.5 252.2h2.7v1.1h-2.7zM448.6 300.8h1.6v1.6h-1.6zM299.8 298h2.7v1.6h-2.7zM306.9 330.8h2.7v1.6h-2.7zM98.9 294.7h1.6v2.7h-1.6zM185.9 321.2h2.7v1.6h-2.7zM349.7 307.7h2.7v1.6h-2.7zM269 311.8h1.6v1.6h-1.6zM226.1 354.7h1.8v1.8h-1.8zM201.5 295h2.4v2.4h-2.4zM194.3 302.2h2.7v1.6h-2.7zM415.7 288.1h2.7v1.6h-2.7zM265.5 287.4h2.7v1.6h-2.7zM239 270h2.7v1.6h-2.7zM253.5 339.8h2.7v1.6h-2.7zM209.6 332.2h1.6v1.6h-1.6zM229 275.7h3.6v1.5h-3.6zM199.2 325.2h1.5v3.6h-1.5zM310.1 270.5h1.6v1.6h-1.6zM430.1 282h2.7v1.6h-2.7zM359.5 326h1.6v1.6h-1.6zM322.8 297.4h2.7v1.6h-2.7zM312.3 271.9h2.4v2.4h-2.4zM308.4 280.2h3.6v1.5h-3.6zM271.1 310.5h1.6v1.6h-1.6zM164.5 288.5h2.4v2.4h-2.4zM368.7 276.5h3.6v1.5h-3.6zM259.4 318.2h1.6v2.7h-1.6zM444.2 307.3h1.5v3.6h-1.5zM126.5 294.3h1.6v2.7h-1.6zM388 335.6h1.6v1.6h-1.6zM346.4 284.7h2.4v2.4h-2.4zM252.3 270.3h2.7v1.6h-2.7zM163 343.5h1.5v3.6h-1.5zM239.9 330h1.6v1.6h-1.6zM335 304.3h1.6v1.6h-1.6zM85.2 284.9h1.6v2.7h-1.6zM477 298.7h1.6v2.7h-1.6zM255.4 309.7h1.6v2.7h-1.6zM212.4 229.7h2v1.2h-2zM220.8 299.8h2.7v1.6h-2.7zM239.7 326.4h1.6v2.7h-1.6zM218.9 310.5h3.6v1.5h-3.6zM373.9 387.3h1.1v2.7h-1.1zM237.4 303.6h2.4v2.4h-2.4zM411 299.3h1.6v1.6h-1.6zM177.9 280.3h2.4v2.4h-2.4zM235.4 309h2.7v1.6h-2.7zM286.4 324.1h1.6v2.7h-1.6zM309.2 318.2h1.6v2.7h-1.6zM331.4 346.9h1.6v1.6h-1.6zM533.8 294.3h1.8v1.8h-1.8zM246.7 329.5h2.7v1.6h-2.7zM264.9 346h1.5v3.6h-1.5zM296.5 308.3h1.6v2.7h-1.6zM364.2 301.2h3.6v1.5h-3.6zM204.7 299.5h2.7v1.6h-2.7zM156.7 277.4h1.5v3.6h-1.5zM81.5 332h3.6v1.5h-3.6zM302.5 323.2h2.7v1.6h-2.7zM344.2 308h1.6v1.6h-1.6zM160.1 271.3h1.6v2.7h-1.6zM492.7 323.3h1.6v1.6h-1.6zM195.5 343.4h1.6v2.7h-1.6zM327.9 311.2h1.5v3.6h-1.5zM177.1 313.2h1.5v3.6h-1.5zM250.1 299.7h2.7v1.6h-2.7zM107.5 280.6h1.6v2.7h-1.6zM375.7 276.1h2.4v2.4h-2.4zM106 338.1h3.6v1.5h-3.6zM408.7 312.5h1.6v1.6h-1.6zM326.6 308.7h1.5v3.6h-1.5zM256.9 320.8h2.4v2.4h-2.4zM127.7 316.6h1.6v1.6h-1.6zM238.1 282.8h1.5v3.6h-1.5zM137.5 242.2h1.2v2h-1.2zM453.9 313.1h1.5v3.6h-1.5zM364.6 267.5h1.5v3.6h-1.5zM279.1 255h1.6v1.6h-1.6zM296.6 321.9h1.5v3.6h-1.5zM237.4 283.6h1.6v2.7h-1.6zM67.1 255.7h2v1.2h-2zM463.5 303.9h2.7v1.6h-2.7zM137.5 328.7h3.6v1.5h-3.6zM195.7 371.1h1.2v1.2h-1.2zM250.6 330.5h1.6v1.6h-1.6zM416.9 317.9h1.6v1.6h-1.6zM279 270.8h3.6v1.5h-3.6zM346.5 266.7h1.6v2.7h-1.6zM196 325.3h1.6v1.6h-1.6zM250.4 292.7h2.7v1.6h-2.7zM289.1 284h3.6v1.5h-3.6zM334.9 318.6h3.6v1.5h-3.6zM229 284.5h3.6v1.5h-3.6zM175.3 324.1h2.7v1.6h-2.7zM262.8 340.9h1.6v1.6h-1.6zM98.4 335.9h3.6v1.5h-3.6zM468.6 282.7h3.6v1.5h-3.6zM282.9 252.3h1.6v2.7h-1.6zM88.6 344.4h3.6v1.5h-3.6zM222.4 302h1.5v3.6h-1.5zM471.1 320.3h1.6v1.6h-1.6zM74.8 299.6h1.5v3.6h-1.5zM266.3 265.7h2.7v1.6h-2.7zM108 331.8h2.7v1.6h-2.7zM155.6 341.5h1.6v1.6h-1.6zM303.7 261.6h1.6v2.7h-1.6zM178.8 250.7h1.2v1.2h-1.2zM202.2 295.8h1.6v2.7h-1.6zM297.7 314.4h1.6v1.6h-1.6zM402.8 240.6h1.2v2h-1.2zM278.2 320.6h3.6v1.5h-3.6zM232.3 313.7h2.4v2.4h-2.4zM79.2 299.3h1.6v1.6h-1.6zM419 313.2h3.6v1.5h-3.6zM310 285.9h1.6v1.6h-1.6zM158.6 268.2h2.7v1.1h-2.7zM317.7 324.8h2.7v1.6h-2.7zM216.2 263.9h1.6v2.7h-1.6zM389.7 311.8h3.6v1.5h-3.6zM164.3 345h1.6v1.6h-1.6zM312.5 331h1.6v1.6h-1.6zM269.2 254.8h1.5v3.6h-1.5zM304.8 327.5h1.6v2.7h-1.6zM257.3 242.7h1.2v1.2h-1.2zM163 271.8h1.6v1.6h-1.6zM438.5 225.2h1.2v1.2h-1.2zM368.6 259.5h1.6v2.7h-1.6zM333.9 331.4h3.6v1.5h-3.6zM206.1 310.4h3.6v1.5h-3.6zM316.8 280.7h1.6v1.6h-1.6zM285.5 226.2h1.2v2h-1.2zM189 240.5h1.1v2.7h-1.1zM251 282.1h3.6v1.5h-3.6zM226.6 283.9h2.7v1.6h-2.7zM219.1 333.3h1.6v2.7h-1.6zM134.5 384.4h2v1.2h-2zM346.9 325.9h3.6v1.5h-3.6zM291.2 282.2h3.6v1.5h-3.6zM146.7 242.1h2.7v1.1h-2.7zM275.1 322.2h1.6v2.7h-1.6zM269.8 319.7h1.5v3.6h-1.5zM261.3 295.2h1.6v1.6h-1.6zM314.6 333.6h2.7v1.6h-2.7zM289.8 270.5h1.5v3.6h-1.5zM369.8 310h1.6v2.7h-1.6zM198.8 308.8h1.6v1.6h-1.6zM415.4 224.9h2.7v1.1h-2.7zM178 316.6h1.5v3.6h-1.5zM229.4 252h1.1v2.7h-1.1zM276.4 336.2h1.6v1.6h-1.6zM551.3 289.8h1.2v1.2h-1.2zM287.9 319.9h1.5v3.6h-1.5zM89.5 261.2h1.2v2h-1.2zM204 281.2h3.6v1.5h-3.6zM419.9 404.3h1.2v1.2h-1.2zM267 311.2h1.6v1.6h-1.6zM92.9 334.8h2.4v2.4h-2.4zM446 332.2h1.6v2.7h-1.6zM289.8 300.5h1.6v2.7h-1.6zM378.5 301.7h2.7v1.6h-2.7zM277.8 337.7h2.7v1.6h-2.7zM381.5 292.7h2.4v2.4h-2.4zM172.9 323h3.6v1.5h-3.6zM340.1 278.3h3.6v1.5h-3.6zM268.1 311.5h2.4v2.4h-2.4zM449.8 273.6h1.6v2.7h-1.6zM288.1 304.2h1.6v1.6h-1.6zM291.1 293.8h1.6v1.6h-1.6zM201.6 296.7h1.6v1.6h-1.6zM353.7 308h1.5v3.6h-1.5zM249.7 337.8h1.6v2.7h-1.6zM308.9 291.5h1.6v2.7h-1.6zM368.5 334.3h2.7v1.6h-2.7zM277.8 331.5h1.6v1.6h-1.6zM407.1 329.6h3.6v1.5h-3.6zM528.1 337h1.8v1.8h-1.8zM263.3 261h3.6v1.5h-3.6zM649.1 307.6h1.1v2.7h-1.1zM223.2 306.6h1.6v2.7h-1.6zM271.2 308.6h1.6v1.6h-1.6zM249.2 308.8h1.6v1.6h-1.6zM82.5 321.8h2.4v2.4h-2.4zM419.6 328h1.6v1.6h-1.6zM280.7 300.7h1.6v2.7h-1.6zM215.5 301.7h2.7v1.6h-2.7zM290.9 327.3h1.6v2.7h-1.6zM201.8 297.4h1.6v1.6h-1.6zM340.7 372.7h1.2v1.2h-1.2zM415.2 257.8h1.2v1.2h-1.2zM163.7 328.6h3.6v1.5h-3.6zM386.2 331.7h1.6v1.6h-1.6zM264.4 305.9h3.6v1.5h-3.6zM278.2 302.2h2.7v1.6h-2.7zM366.8 334h1.6v2.7h-1.6zM355.3 279h1.6v2.7h-1.6zM362.4 351.3h1.2v1.2h-1.2zM284.3 364.6h2v1.2h-2zM394.4 319.7h1.6v2.7h-1.6zM301 304.1h1.6v2.7h-1.6zM446.2 266.2h1.2v2h-1.2zM305.1 290.3h1.5v3.6h-1.5zM338.5 255.8h2.7v1.1h-2.7zM444.3 287h1.6v2.7h-1.6zM231.9 310.6h1.6v1.6h-1.6zM617.9 304.7h1.2v2h-1.2zM294 302.2h1.6v1.6h-1.6zM449.2 295.9h1.6v1.6h-1.6zM202.1 331.8h3.6v1.5h-3.6zM434.8 296.4h1.6v1.6h-1.6zM307.8 309.7h1.6v2.7h-1.6zM240.1 340.3h2.7v1.6h-2.7zM286.4 277.2h1.6v1.6h-1.6zM270.6 300.5h1.6v1.6h-1.6zM254 384.2h2v1.2h-2zM320.8 260h2.7v1.6h-2.7zM357.4 282h2.7v1.6h-2.7zM83.8 290.3h2.7v1.6h-2.7zM282.7 252.5h1.6v1.6h-1.6zM100.8 283h2.7v1.6h-2.7zM277 336.5h1.5v3.6h-1.5zM224.9 321.4h1.6v1.6h-1.6zM273.9 297.5h1.6v1.6h-1.6zM289.1 303.4h2.7v1.6h-2.7zM310 224.9h2v1.2h-2zM121.8 294.1h1.5v3.6h-1.5zM167.9 328.7h1.6v2.7h-1.6zM236.9 329.6h1.6v1.6h-1.6zM352.5 267.4h1.6v1.6h-1.6zM284.5 268.9h1.6v2.7h-1.6zM236.6 285.1h3.6v1.5h-3.6zM273.2 317.2h2.4v2.4h-2.4zM399.7 291.2h2.7v1.6h-2.7zM123.5 346.6h3.6v1.5h-3.6zM131.8 310.3h1.5v3.6h-1.5zM242.4 279.6h1.6v1.6h-1.6zM353.6 332.9h1.6v1.6h-1.6zM259.7 334.4h1.5v3.6h-1.5zM368.6 271.6h3.6v1.5h-3.6zM260.5 336.8h2.7v1.6h-2.7zM433.9 322.7h2.7v1.6h-2.7zM311.9 341.4h1.6v1.6h-1.6zM208.9 306.2h2.7v1.6h-2.7zM304.2 323.5h1.6v1.6h-1.6zM561.9 315.8h2v1.2h-2zM248.3 309.7h1.5v3.6h-1.5zM206.4 298.3h1.6v2.7h-1.6zM299.8 300.1h1.6v2.7h-1.6zM254.4 305h2.7v1.6h-2.7zM182.2 321.7h1.6v1.6h-1.6zM330.7 320h3.6v1.5h-3.6zM302.4 319.3h2.7v1.6h-2.7zM464.4 339h1.6v1.6h-1.6zM423.3 345.7h1.6v2.7h-1.6zM89.4 291.8h1.6v1.6h-1.6zM214.5 284.9h3.6v1.5h-3.6zM371 312.9h1.6v1.6h-1.6zM267.6 332.9h1.5v3.6h-1.5zM176.6 267.9h1.6v1.6h-1.6zM563.5 331.5h1.2v1.2h-1.2zM235.5 290.2h2.7v1.6h-2.7zM460.7 311.3h2.4v2.4h-2.4zM267.8 355.1h1.2v1.2h-1.2zM267.5 304.2h1.6v1.6h-1.6zM343 327.8h1.6v1.6h-1.6zM215.9 333.3h2.7v1.6h-2.7zM104.4 307h2.7v1.6h-2.7zM325.2 322.9h1.5v3.6h-1.5zM256.2 321.2h1.5v3.6h-1.5zM307.4 290.8h2.7v1.6h-2.7zM611.2 367.2h1.1v2.7h-1.1zM382.4 307.1h1.6v2.7h-1.6zM303.4 275.6h2.7v1.6h-2.7zM317.1 287.5h3.6v1.5h-3.6zM199.5 290h2.4v2.4h-2.4zM257.2 307.9h1.5v3.6h-1.5zM344.9 393.5h2v1.2h-2zM139.5 281.2h1.6v2.7h-1.6zM268.5 352.6h2.7v1.6h-2.7zM500.7 302.8h1.6v2.7h-1.6zM355.3 323.8h1.6v1.6h-1.6zM304.6 283.9h1.6v1.6h-1.6zM264.2 287h1.5v3.6h-1.5zM218.5 276.7h1.6v2.7h-1.6zM307.2 342.9h1.5v3.6h-1.5zM266.6 303.1h1.6v2.7h-1.6zM312.4 402.9h2v1.2h-2zM310.7 292.8h1.6v1.6h-1.6zM286.7 281.7h3.6v1.5h-3.6zM355.6 296.3h1.5v3.6h-1.5zM336.4 292h1.6v1.6h-1.6zM295.9 311.7h2.4v2.4h-2.4zM211.4 308.6h2.7v1.6h-2.7zM589.1 307.2h1.1v2.7h-1.1zM401.3 356.7h1.2v1.2h-1.2zM229.7 308.4h1.6v2.7h-1.6zM81.6 305.3h2.7v1.6h-2.7zM294.1 326h3.6v1.5h-3.6zM219.1 294.7h2.7v1.6h-2.7zM210.9 301.6h1.5v3.6h-1.5zM322.5 349.4h2.7v1.6h-2.7zM375 384.8h2.7v1.1h-2.7zM277.6 287.1h1.6v2.7h-1.6zM293.9 310.1h2.4v2.4h-2.4zM228.4 308h1.6v2.7h-1.6zM263.2 303.8h2.7v1.6h-2.7zM583.7 291.5h1.8v1.8h-1.8zM334.5 324.8h2.4v2.4h-2.4zM272 259.5h1.6v1.6h-1.6zM571.3 330.3h2v1.2h-2zM375.5 267.1h2.7v1.6h-2.7zM238.8 296.6h1.6v1.6h-1.6zM402.4 289.1h2.7v1.6h-2.7zM372.3 328h2.7v1.6h-2.7zM468.3 333h1.6v2.7h-1.6zM250.5 306h1.5v3.6h-1.5zM279.8 333.6h1.6v1.6h-1.6zM422.1 288.6h2.7v1.6h-2.7zM221.3 299.5h1.6v2.7h-1.6zM256.2 297h1.5v3.6h-1.5zM193.5 354.8h2.7v1.1h-2.7zM388.5 253.5h2v1.2h-2zM285.6 323.7h3.6v1.5h-3.6zM287.5 329.9h3.6v1.5h-3.6zM240.3 313.6h2.7v1.6h-2.7zM325.7 264.9h2.7v1.6h-2.7zM98.8 378.2h1.2v2h-1.2zM235.6 268.2h2.7v1.6h-2.7zM197.5 317.1h1.6v1.6h-1.6zM191.4 277.6h1.6v1.6h-1.6zM305.6 316.9h2.7v1.6h-2.7zM364.2 313.4h1.6v1.6h-1.6zM273.8 279.1h2.7v1.6h-2.7zM397.5 238h2.7v1.1h-2.7zM232 310.8h1.6v1.6h-1.6zM214.4 311.9h2.7v1.6h-2.7zM207.9 293.8h1.6v2.7h-1.6zM151.8 324.7h1.6v2.7h-1.6zM521.4 293h2.7v1.1h-2.7zM457.2 321h3.6v1.5h-3.6zM230.3 310.6h2.7v1.6h-2.7zM296 310.4h1.5v3.6h-1.5zM368.6 330.5h1.6v1.6h-1.6zM492.6 325.6h1.6v1.6h-1.6zM292.9 323.9h1.6v2.7h-1.6zM315.8 295.2h1.6v2.7h-1.6zM430.9 316h2.7v1.6h-2.7zM209.4 295.5h1.5v3.6h-1.5zM653.4 397.3h2.7v1.1h-2.7zM614.3 332.4h1.1v2.7h-1.1zM137.5 235.4h1.1v2.7h-1.1zM127.1 275.8h2.7v1.6h-2.7zM251.6 331.6h1.6v2.7h-1.6zM348.8 307.6h3.6v1.5h-3.6zM354.2 332.5h1.6v1.6h-1.6zM365.1 295.6h1.6v2.7h-1.6zM294.5 315h1.5v3.6h-1.5zM289.4 324.8h1.5v3.6h-1.5zM405.9 334.5h1.5v3.6h-1.5zM162.1 304.6h1.6v2.7h-1.6zM348.1 304.3h3.6v1.5h-3.6zM129.8 301.5h2.7v1.6h-2.7zM464.5 289.3h3.6v1.5h-3.6zM254.5 327.5h2.7v1.6h-2.7zM315.2 288.8h1.6v1.6h-1.6zM383.5 364.8h2v1.2h-2zM305.9 302.6h1.5v3.6h-1.5zM272.3 316.8h1.6v1.6h-1.6zM415.3 334.4h1.6v1.6h-1.6zM373.6 295.9h1.6v1.6h-1.6zM167.3 315.9h2.7v1.6h-2.7zM160 310.2h1.5v3.6h-1.5zM371.8 307.8h1.6v1.6h-1.6zM237.6 314.2h1.6v1.6h-1.6zM436.6 294.2h1.6v2.7h-1.6zM305.1 328.6h2.7v1.6h-2.7zM187.6 346.8h1.5v3.6h-1.5zM527.9 313.4h1.2v2h-1.2zM504.3 326.1h2.7v1.6h-2.7zM192.8 262.6h1.6v1.6h-1.6zM407.1 320.2h1.5v3.6h-1.5zM115.3 323h2.7v1.6h-2.7zM368.7 310.5h2.7v1.6h-2.7zM259.4 303.8h1.6v1.6h-1.6zM250 274.9h1.6v1.6h-1.6zM220.7 338.9h2.7v1.6h-2.7zM337.2 312.1h2.7v1.6h-2.7zM395 316h2.7v1.6h-2.7zM188.5 324.4h3.6v1.5h-3.6zM213.3 302.2h1.6v2.7h-1.6zM279.6 315.9h1.6v1.6h-1.6zM479.6 321.5h2.4v2.4h-2.4zM425.9 310.3h1.6v1.6h-1.6zM236.9 335.6h2.4v2.4h-2.4zM132.4 313.4h1.6v1.6h-1.6zM239.9 295.4h2.4v2.4h-2.4zM277.5 318.2h2.7v1.6h-2.7zM517.2 382.7h2.7v1.1h-2.7zM265.9 311.2h1.6v2.7h-1.6zM210.8 240.2h1.1v2.7h-1.1zM244.8 299.6h1.6v1.6h-1.6zM128.7 305h1.6v2.7h-1.6zM259 334.1h1.6v2.7h-1.6zM383.4 279.3h1.6v1.6h-1.6zM173.4 294.9h1.5v3.6h-1.5zM216.8 275.5h2.7v1.6h-2.7zM274.4 300.6h2.7v1.6h-2.7zM566.5 321.1h2v1.2h-2zM258.4 259.1h1.5v3.6h-1.5zM396.3 324.4h2.7v1.6h-2.7zM210.7 311.4h1.5v3.6h-1.5zM470.4 302.5h2.7v1.6h-2.7zM224.5 323.5h2.7v1.6h-2.7zM388.6 327.2h3.6v1.5h-3.6zM255.6 299.4h1.6v2.7h-1.6zM141.5 297h2.4v2.4h-2.4zM664.6 340.1h2v1.2h-2zM193.5 342.8h1.6v1.6h-1.6zM320.9 310.2h1.6v1.6h-1.6zM414.5 338.7h1.6v1.6h-1.6zM93.5 300.8h1.6v1.6h-1.6zM83.1 317.7h2.7v1.6h-2.7zM600.8 300.5h1.2v1.2h-1.2zM425.9 288.6h1.6v2.7h-1.6zM241.6 303.5h1.6v1.6h-1.6zM223.7 312.1h3.6v1.5h-3.6zM206.1 313.2h2.7v1.6h-2.7zM261.2 311.6h1.6v1.6h-1.6zM378 316.2h1.6v2.7h-1.6zM287.1 298.8h2.7v1.6h-2.7zM271.9 296.3h1.5v3.6h-1.5zM268.3 339.7h2.7v1.6h-2.7zM207.4 310.9h1.6v2.7h-1.6zM264.9 268.3h2.4v2.4h-2.4zM104.2 260.1h1.1v2.7h-1.1zM258.8 326.4h3.6v1.5h-3.6zM123.3 315.9h1.6v1.6h-1.6zM349.2 319h1.5v3.6h-1.5zM161.9 307.5h2.7v1.6h-2.7zM309 330.9h2.4v2.4h-2.4zM438.3 235.2h1.8v1.8h-1.8zM422.7 307.5h1.5v3.6h-1.5zM555.4 341.9h2.7v1.1h-2.7zM546.6 308.6h1.2v2h-1.2zM297.7 315.6h1.5v3.6h-1.5zM223.1 233.6h2v1.2h-2zM318.4 296.5h1.6v1.6h-1.6zM234.4 307.4h1.6v1.6h-1.6zM386.3 261.5h2.7v1.6h-2.7zM234.9 279.9h1.6v1.6h-1.6zM254.8 267.2h3.6v1.5h-3.6zM208.3 315.9h1.6v1.6h-1.6zM312.6 297.4h2.4v2.4h-2.4zM286.7 272.3h2.7v1.6h-2.7zM169.5 316h1.6v1.6h-1.6zM96.4 294h2.7v1.6h-2.7zM388.6 347.9h2.7v1.6h-2.7zM277.5 303.4h1.6v1.6h-1.6zM389.9 295.3h1.5v3.6h-1.5zM344.9 349.4h1.6v2.7h-1.6zM635.7 296.9h2.7v1.1h-2.7zM78.1 342.8h2.7v1.1h-2.7zM213.2 351.4h1.2v1.2h-1.2zM237.6 329.4h1.6v2.7h-1.6zM352.5 267.5h1.6v1.6h-1.6zM335.5 312.6h3.6v1.5h-3.6zM215.8 295.3h1.5v3.6h-1.5zM301.3 306.5h2.7v1.6h-2.7zM218 296.1h3.6v1.5h-3.6zM107.1 288.6h2.7v1.6h-2.7zM98.1 376.7h2v1.2h-2zM474 376.2h1.2v1.2h-1.2zM218.4 307.8h1.6v2.7h-1.6zM280 305.8h1.5v3.6h-1.5zM266.9 290.6h3.6v1.5h-3.6zM249 301.8h2.7v1.6h-2.7zM271.1 279.7h1.6v2.7h-1.6zM241.8 289.4h1.6v1.6h-1.6zM594 345.9h1.2v1.2h-1.2zM347.5 336.5h1.6v2.7h-1.6zM198.2 328.8h2.7v1.6h-2.7zM211.1 274.7h2.7v1.6h-2.7zM235.3 233.1h2.7v1.1h-2.7zM300.1 283.3h1.5v3.6h-1.5zM254.3 284.1h1.5v3.6h-1.5zM181.7 296.6h1.6v2.7h-1.6zM472.8 313.7h1.6v2.7h-1.6zM385.2 310.3h3.6v1.5h-3.6zM231.7 303.1h1.6v1.6h-1.6zM197.4 297.6h1.5v3.6h-1.5zM346.3 265.4h1.5v3.6h-1.5zM486.5 298.6h2.4v2.4h-2.4zM310.3 251.1h2v1.2h-2zM140.5 332.6h1.6v2.7h-1.6zM169.7 317.3h1.6v2.7h-1.6zM142.3 272.2h1.2v1.2h-1.2zM599.4 308.9h2v1.2h-2zM328.2 280.8h1.6v1.6h-1.6zM621.3 325.4h1.2v1.2h-1.2zM258.5 291.7h1.6v2.7h-1.6zM334.3 310.4h1.5v3.6h-1.5zM200.6 325.5h1.5v3.6h-1.5zM508.9 425.3h1.2v1.2h-1.2zM228.1 326.3h1.6v2.7h-1.6zM356.1 300.8h2.7v1.6h-2.7zM338 293h1.5v3.6h-1.5zM150.3 297.3h1.6v2.7h-1.6zM310.1 305.3h1.6v2.7h-1.6zM200 302.3h1.6v1.6h-1.6zM207.3 294.4h2.7v1.6h-2.7zM561.9 364.5h1.1v2.7h-1.1zM260.5 288.2h1.6v1.6h-1.6zM397.1 335.4h1.6v2.7h-1.6zM233.5 367.6h1.8v1.8h-1.8zM283.5 300.1h3.6v1.5h-3.6zM193.3 287.1h1.5v3.6h-1.5zM400.2 292.7h1.6v2.7h-1.6zM257.9 316.3h1.5v3.6h-1.5zM245.8 276.1h1.6v2.7h-1.6zM255.6 289.3h1.6v2.7h-1.6zM366.2 290.2h2.7v1.6h-2.7zM125.3 382.7h1.2v2h-1.2zM79.3 291.8h1.5v3.6h-1.5zM261.6 303.4h1.5v3.6h-1.5zM544.4 401.9h2v1.2h-2zM295.3 300.8h2.4v2.4h-2.4zM411.3 351.3h2v1.2h-2zM208.1 279.6h1.5v3.6h-1.5zM360.9 304.4h2.7v1.6h-2.7zM381.3 314.7h1.6v1.6h-1.6zM184.1 332.8h1.5v3.6h-1.5zM385.6 362.5h2.7v1.1h-2.7zM363.5 295.2h3.6v1.5h-3.6zM296 324.9h1.6v1.6h-1.6zM289.1 321.2h3.6v1.5h-3.6zM362.8 298h1.6v1.6h-1.6zM175.2 320.2h1.6v2.7h-1.6zM251.7 331.4h1.6v1.6h-1.6zM347.6 288.9h1.6v1.6h-1.6zM201.2 296.4h1.5v3.6h-1.5zM189.1 312.4h2.4v2.4h-2.4zM115.5 323.4h1.6v1.6h-1.6zM393.9 303.8h3.6v1.5h-3.6zM283.2 300h1.5v3.6h-1.5zM253.6 338.3h1.6v1.6h-1.6zM273.5 279.4h2.7v1.6h-2.7zM396.8 239h1.8v1.8h-1.8zM219.3 292.5h3.6v1.5h-3.6zM451.8 228.2h1.2v1.2h-1.2zM517 289.3h1.1v2.7h-1.1zM202.5 295.6h1.6v2.7h-1.6zM237.8 298.2h2.4v2.4h-2.4zM235.4 306h1.5v3.6h-1.5zM579.9 338.9h2v1.2h-2zM370.6 297.8h3.6v1.5h-3.6zM434.7 316.4h2.4v2.4h-2.4zM301.5 307.8h1.6v2.7h-1.6zM248.2 334.1h1.5v3.6h-1.5zM380.7 316.8h1.6v1.6h-1.6zM549.4 399.1h2v1.2h-2zM315.3 308.2h1.5v3.6h-1.5zM203.1 290.7h1.5v3.6h-1.5zM215.4 281.2h2.7v1.6h-2.7zM342.7 321.7h1.6v2.7h-1.6zM347.7 284.8h2.7v1.6h-2.7zM146.1 247.5h1.8v1.8h-1.8zM275.3 334.9h2.4v2.4h-2.4zM396.9 288.2h1.6v1.6h-1.6zM99.5 268.9h1.2v2h-1.2zM373.5 228.8h2v1.2h-2zM220.7 300.3h1.5v3.6h-1.5zM368.3 270.9h1.6v2.7h-1.6zM349 334.6h3.6v1.5h-3.6zM461.5 335.8h2.7v1.6h-2.7zM434.6 379.2h1.1v2.7h-1.1zM389.8 298.5h1.6v2.7h-1.6zM113.3 342.6h1.6v1.6h-1.6zM175.1 260.4h1.2v1.2h-1.2zM397.5 305.1h3.6v1.5h-3.6zM272.4 326.6h3.6v1.5h-3.6zM200.5 342.2h1.6v2.7h-1.6zM276.6 261h3.6v1.5h-3.6zM254.7 227.2h1.2v2h-1.2zM94.3 294.9h3.6v1.5h-3.6zM201.5 298.3h2.4v2.4h-2.4zM73.8 297.4h2.7v1.6h-2.7zM230.6 252.7h2.7v1.1h-2.7zM247.2 316.6h2.7v1.6h-2.7zM402.9 326.3h1.6v1.6h-1.6zM250.1 280.8h3.6v1.5h-3.6zM412.8 314.9h2.7v1.6h-2.7zM270.9 320.6h1.6v1.6h-1.6zM422.1 331.3h1.6v2.7h-1.6zM262.2 300.1h1.5v3.6h-1.5zM65.2 286.3h1.6v1.6h-1.6zM122.1 298.3h2.4v2.4h-2.4zM141.2 353.3h1.2v2h-1.2zM200.3 295.2h1.6v2.7h-1.6zM167.2 306.7h1.6v1.6h-1.6zM253.1 295.4h1.6v2.7h-1.6zM164.3 303.3h1.6v2.7h-1.6zM414 334h3.6v1.5h-3.6zM176.9 350.9h1.2v2h-1.2zM273.6 279.4h3.6v1.5h-3.6zM386.1 298.1h1.6v1.6h-1.6zM322.2 271.1h1.6v1.6h-1.6zM248.4 283.2h1.6v2.7h-1.6zM302.1 306.8h1.6v2.7h-1.6zM221.9 237.9h2v1.2h-2zM450 330.5h1.5v3.6h-1.5zM246.3 293.7h1.6v1.6h-1.6zM94.8 285h1.6v1.6h-1.6zM262 374h1.2v1.2h-1.2zM67.5 293.7h1.6v2.7h-1.6zM191.3 296h1.6v2.7h-1.6zM226.4 350.8h2v1.2h-2zM299.5 317.2h1.5v3.6h-1.5zM329.8 308.9h2.4v2.4h-2.4zM382.3 276.4h3.6v1.5h-3.6zM387.8 281.8h1.5v3.6h-1.5zM566.8 343.8h1.2v1.2h-1.2zM473.4 310.3h2.7v1.6h-2.7zM65.5 262.1h2v1.2h-2zM60.5 293.1h1.6v1.6h-1.6zM217 324.5h3.6v1.5h-3.6zM394.6 290.6h2.7v1.6h-2.7zM406.6 311.7h1.6v1.6h-1.6zM289.7 306.1h1.6v1.6h-1.6zM304.2 295.8h3.6v1.5h-3.6zM665.1 365h2v1.2h-2zM238.4 299.3h2.4v2.4h-2.4zM225.8 300.1h1.6v1.6h-1.6zM357.2 302.1h2.4v2.4h-2.4zM302.2 301.2h3.6v1.5h-3.6zM584.4 351.8h2v1.2h-2zM226.2 257.9h1.5v3.6h-1.5zM189.7 285.4h1.5v3.6h-1.5zM141.1 297.7h1.6v1.6h-1.6zM108.2 287.8h2.7v1.6h-2.7zM246.6 281.5h1.6v1.6h-1.6zM323.7 321.9h1.6v2.7h-1.6zM249.6 282.7h1.6v1.6h-1.6zM358.9 298h2.7v1.6h-2.7zM680.1 377h2v1.2h-2zM305.2 305.5h2.7v1.6h-2.7zM461.3 309.2h1.6v1.6h-1.6zM314.5 325.9h2.7v1.6h-2.7zM422.5 311.6h1.6v2.7h-1.6zM505.4 321.6h1.5v3.6h-1.5zM237.4 295.1h1.6v2.7h-1.6zM356.6 353.4h1.8v1.8h-1.8zM131.1 292.5h1.6v1.6h-1.6zM252.9 293.9h2.7v1.6h-2.7zM189.8 271h1.6v2.7h-1.6zM342.6 242.7h1.2v1.2h-1.2zM299.3 320.6h1.6v2.7h-1.6zM214.6 320.7h1.6v1.6h-1.6zM346.9 308.3h1.6v2.7h-1.6zM113.6 292.3h1.6v2.7h-1.6zM423.5 342h1.5v3.6h-1.5zM215.3 381.5h2.7v1.1h-2.7zM273.2 292h3.6v1.5h-3.6zM234 301.9h2.7v1.6h-2.7zM409.3 290.6h1.6v2.7h-1.6zM180.2 323.2h2.7v1.6h-2.7zM245.4 274.9h2.7v1.6h-2.7zM322 339.6h3.6v1.5h-3.6zM248 319.6h1.5v3.6h-1.5zM375 267.2h2.4v2.4h-2.4zM386.9 363.8h1.2v1.2h-1.2zM147.6 423.6h1.8v1.8h-1.8zM163.3 330.1h1.5v3.6h-1.5zM178.5 302.7h3.6v1.5h-3.6zM236.7 300.6h1.6v2.7h-1.6zM254.2 317.2h1.5v3.6h-1.5zM154.6 280.7h1.6v1.6h-1.6zM363.3 323.2h1.6v1.6h-1.6zM258.9 304.5h1.6v2.7h-1.6zM249.7 326.3h2.4v2.4h-2.4zM218.5 258.3h1.5v3.6h-1.5zM133.4 336.6h2.7v1.6h-2.7zM377.6 310.1h2.7v1.6h-2.7zM276.2 279.5h3.6v1.5h-3.6zM253.1 309h3.6v1.5h-3.6zM161.9 316.6h1.6v2.7h-1.6zM298 301h3.6v1.5h-3.6zM108.5 304.8h2.7v1.6h-2.7zM148.4 322.1h2.7v1.6h-2.7zM653.6 302.8h2v1.2h-2zM287.9 299.5h1.6v2.7h-1.6zM264.7 272.8h2.7v1.6h-2.7zM246.7 301.9h1.6v1.6h-1.6zM401.6 423.9h2.7v1.1h-2.7zM189.4 260.9h1.1v2.7h-1.1zM171.6 297.4h1.5v3.6h-1.5zM238 321.9h1.6v1.6h-1.6zM344.2 309.7h3.6v1.5h-3.6zM115.1 243.4h1.2v1.2h-1.2zM120.3 306.7h2.4v2.4h-2.4zM100.6 334.5h1.6v2.7h-1.6zM282 305.7h3.6v1.5h-3.6zM264.3 317.1h3.6v1.5h-3.6zM264.5 283.9h1.6v2.7h-1.6zM266.2 327h1.6v2.7h-1.6zM156.3 344.4h1.6v1.6h-1.6zM329.4 290h3.6v1.5h-3.6zM468.4 293.8h1.5v3.6h-1.5zM651.5 293h1.2v2h-1.2zM77 312h2.4v2.4h-2.4zM201.1 289.4h2.4v2.4h-2.4zM84.7 290.2h1.6v2.7h-1.6zM235.4 331.7h1.6v1.6h-1.6zM336.6 326.3h1.6v1.6h-1.6zM355.3 328.2h3.6v1.5h-3.6zM454.7 333.2h2.4v2.4h-2.4zM360.9 301.6h2.4v2.4h-2.4zM256 298.4h2.7v1.6h-2.7zM239.7 310h1.6v2.7h-1.6zM340.5 325.6h1.6v2.7h-1.6zM197.5 325h2.4v2.4h-2.4zM404 282.2h1.6v2.7h-1.6zM316.9 335.5h1.6v2.7h-1.6zM498.4 329.3h1.6v1.6h-1.6zM173 334.1h3.6v1.5h-3.6zM270.9 238.1h1.2v2h-1.2zM336.5 264.9h1.6v2.7h-1.6zM374.9 310.6h1.6v1.6h-1.6zM420.9 322.6h1.5v3.6h-1.5zM316.1 328.4h1.6v2.7h-1.6zM586 293.5h1.2v1.2h-1.2zM134.9 343.3h1.5v3.6h-1.5zM342.6 364.9h1.1v2.7h-1.1zM167.5 331.9h1.5v3.6h-1.5zM321.3 328.2h1.6v1.6h-1.6zM205.9 292.9h2.7v1.6h-2.7zM494.9 296.4h1.6v2.7h-1.6zM548.3 345.6h1.1v2.7h-1.1zM280.4 314.5h1.5v3.6h-1.5zM213.1 260.1h2.7v1.6h-2.7zM600 334h1.2v2h-1.2zM135.3 334.2h1.6v1.6h-1.6zM361.2 284.1h1.6v1.6h-1.6zM499.7 313h2.4v2.4h-2.4zM459.5 305.5h3.6v1.5h-3.6zM237.7 294.2h2.4v2.4h-2.4zM110.4 363.7h1.8v1.8h-1.8zM235.5 247.5h2v1.2h-2zM184.8 345.4h1.6v2.7h-1.6zM183.8 286.2h2.4v2.4h-2.4zM390.2 325h1.5v3.6h-1.5zM302.1 319h1.6v1.6h-1.6zM460.6 352.7h1.1v2.7h-1.1zM156.6 332.7h1.6v2.7h-1.6zM203.7 315.6h3.6v1.5h-3.6zM182.6 331.7h1.6v1.6h-1.6zM330.4 280.7h3.6v1.5h-3.6zM410.9 345.6h2.7v1.6h-2.7zM273.1 316.5h1.6v1.6h-1.6zM81.3 292.9h2.7v1.6h-2.7zM319.6 292.9h3.6v1.5h-3.6zM295.4 316.4h1.6v2.7h-1.6zM274.6 314.1h1.6v2.7h-1.6zM64.9 297.3h1.5v3.6h-1.5zM108.5 291.6h1.5v3.6h-1.5zM282.8 303.4h1.5v3.6h-1.5zM96.8 262.6h1.1v2.7h-1.1zM243.3 308.9h2.7v1.6h-2.7zM320.1 290.3h1.6v2.7h-1.6zM273 286.4h1.6v1.6h-1.6zM124.2 333.3h1.6v1.6h-1.6zM296.3 270.8h1.6v2.7h-1.6zM345.6 312h3.6v1.5h-3.6zM269.2 293.1h1.5v3.6h-1.5zM98.3 291.5h1.6v1.6h-1.6zM466.2 307.5h1.6v1.6h-1.6zM486.3 226.3h2v1.2h-2zM101.5 395h1.2v2h-1.2zM163.7 312.1h2.7v1.6h-2.7zM266.4 280.8h1.5v3.6h-1.5zM184.2 315.9h2.7v1.6h-2.7zM234.8 259.1h2.4v2.4h-2.4zM310.6 319.8h1.5v3.6h-1.5zM216.2 313.6h2.4v2.4h-2.4zM194.1 339.7h1.5v3.6h-1.5zM268.1 315.2h1.6v1.6h-1.6zM482.1 374.5h1.2v2h-1.2zM254.1 305.8h1.5v3.6h-1.5zM200.3 275.1h3.6v1.5h-3.6zM484.1 357.1h1.1v2.7h-1.1zM284.2 270.7h1.6v2.7h-1.6zM123.8 286.2h1.6v2.7h-1.6zM94.5 306.4h1.6v1.6h-1.6zM150.8 285.5h1.6v2.7h-1.6zM175.1 267.3h2v1.2h-2zM137.1 341.6h2.4v2.4h-2.4zM314.9 321.8h1.5v3.6h-1.5zM412.3 304.6h1.5v3.6h-1.5zM639.6 301.7h2v1.2h-2zM251.6 282.3h1.6v1.6h-1.6zM357.1 329.3h1.5v3.6h-1.5zM181.3 319h2.4v2.4h-2.4zM290 302.5h3.6v1.5h-3.6zM423.9 248.8h1.2v1.2h-1.2zM99.2 276.9h1.6v1.6h-1.6zM268.6 302.9h2.7v1.6h-2.7zM361 284.9h1.6v1.6h-1.6zM402.3 294.4h2.7v1.6h-2.7zM285.3 334.1h1.6v2.7h-1.6zM429.4 329.9h1.6v1.6h-1.6zM158.3 296.7h2.7v1.6h-2.7zM176.6 287.5h1.5v3.6h-1.5zM242.1 302h1.6v2.7h-1.6zM399.2 315.5h3.6v1.5h-3.6zM282.8 308.2h1.6v2.7h-1.6zM397.8 275.4h2.7v1.6h-2.7zM383.5 286.4h2.7v1.6h-2.7zM218.7 393.4h1.1v2.7h-1.1zM251.5 331.4h2.7v1.6h-2.7zM445.7 293.1h1.6v1.6h-1.6zM332.9 310.6h1.5v3.6h-1.5zM252.4 314.6h1.6v2.7h-1.6zM262.6 286.6h3.6v1.5h-3.6zM205.8 305h2.4v2.4h-2.4zM216.3 295.6h1.5v3.6h-1.5zM578.3 324.9h2v1.2h-2zM135.3 404.6h2.7v1.1h-2.7zM274.5 331.9h1.6v2.7h-1.6zM90.6 306.1h1.6v2.7h-1.6zM467.2 307.9h2.7v1.6h-2.7zM166.1 332.6h3.6v1.5h-3.6zM225.9 320.8h2.4v2.4h-2.4zM676.6 328.8h1.2v1.2h-1.2zM415.6 309.2h1.6v2.7h-1.6zM349 310.7h1.6v2.7h-1.6zM247.1 327.6h1.6v2.7h-1.6zM369.3 267h1.5v3.6h-1.5zM290.4 326.1h1.5v3.6h-1.5zM270.5 297h2.7v1.6h-2.7zM316.9 321.8h3.6v1.5h-3.6zM126.9 306.3h2.4v2.4h-2.4zM554.7 368.3h1.2v2h-1.2zM107.9 299.3h2.4v2.4h-2.4zM399.7 263.6h2v1.2h-2zM237 309.9h1.6v2.7h-1.6zM427.6 356.7h2.7v1.1h-2.7zM436.5 318.4h2.7v1.6h-2.7zM226.3 289.7h3.6v1.5h-3.6zM294.7 309.9h2.7v1.6h-2.7zM135.5 360.3h1.1v2.7h-1.1zM310.1 290.8h1.6v2.7h-1.6zM340.7 283.5h2.4v2.4h-2.4zM432.2 350.5h2v1.2h-2zM306.7 266h3.6v1.5h-3.6zM238.4 300.1h1.6v2.7h-1.6zM361.4 297.3h2.4v2.4h-2.4zM303.3 306.1h1.6v2.7h-1.6zM187.6 296.1h1.6v1.6h-1.6zM237.5 318.7h3.6v1.5h-3.6zM507.3 323.8h2.4v2.4h-2.4zM190.5 306.4h1.6v2.7h-1.6zM437.2 297h1.6v1.6h-1.6zM434.9 360.6h1.1v2.7h-1.1zM182.2 330.3h1.6v2.7h-1.6zM369.3 230.3h1.1v2.7h-1.1zM364.6 330.4h1.5v3.6h-1.5zM348.5 335.6h2.7v1.6h-2.7zM355.4 322.4h1.6v2.7h-1.6zM565.7 357h1.2v2h-1.2zM137.7 324.5h1.5v3.6h-1.5zM360.9 335.1h1.5v3.6h-1.5zM207.6 273.7h1.5v3.6h-1.5zM361.5 322.6h1.5v3.6h-1.5zM196.5 331.7h1.6v2.7h-1.6zM208.9 240.9h1.2v2h-1.2zM587.5 306.5h1.2v1.2h-1.2zM281.3 308.3h1.5v3.6h-1.5zM150.9 294.7h1.6v1.6h-1.6zM677.4 388.5h1.2v1.2h-1.2zM270.9 309.7h1.6v1.6h-1.6zM381.4 316.5h2.7v1.6h-2.7zM213 289.3h3.6v1.5h-3.6zM246.7 332h2.4v2.4h-2.4zM231.2 300.8h1.6v1.6h-1.6zM181.4 322.3h2.7v1.6h-2.7zM154.6 286.7h1.6v2.7h-1.6zM161.3 321.4h1.6v1.6h-1.6zM304.9 271.4h1.5v3.6h-1.5zM154.2 315.6h3.6v1.5h-3.6zM335.5 287.1h2.7v1.6h-2.7zM266 309.6h1.6v1.6h-1.6zM422.6 296.5h1.6v1.6h-1.6zM330.2 332.3h2.7v1.6h-2.7zM351.2 273h1.5v3.6h-1.5zM139.9 365h1.1v2.7h-1.1zM539.3 299.4h1.1v2.7h-1.1zM281.6 294.1h2.7v1.6h-2.7zM414 304.4h2.7v1.6h-2.7zM247.3 298.3h1.6v1.6h-1.6zM176.4 343.7h1.6v2.7h-1.6zM494.7 290.6h1.8v1.8h-1.8zM278.4 316.5h1.6v1.6h-1.6zM222.2 326.3h1.5v3.6h-1.5zM255 335.6h3.6v1.5h-3.6zM572.6 320.5h2v1.2h-2zM346.6 285.3h1.6v1.6h-1.6zM235.2 289.2h1.5v3.6h-1.5zM217.2 277.3h2.4v2.4h-2.4zM436.8 281.5h1.6v2.7h-1.6zM529.3 335.7h2v1.2h-2zM331 320.6h1.6v1.6h-1.6zM330.9 323.4h1.5v3.6h-1.5zM119.3 351.2h1.2v2h-1.2zM194.1 265.1h3.6v1.5h-3.6zM314 295h1.6v2.7h-1.6zM243.4 271h1.6v1.6h-1.6zM292.9 280.6h2.7v1.6h-2.7zM277.1 353.1h3.6v1.5h-3.6zM326.3 297.4h2.7v1.6h-2.7zM621 351.3h1.2v2h-1.2zM396 292.6h1.5v3.6h-1.5zM335.9 290.8h2.7v1.6h-2.7zM265.5 341.7h1.6v1.6h-1.6zM640 370h1.2v2h-1.2zM372.6 343.2h1.6v1.6h-1.6zM194.6 321.7h2.7v1.6h-2.7zM413.2 332.3h1.6v2.7h-1.6zM246.6 321.6h3.6v1.5h-3.6zM304.8 319.1h1.6v2.7h-1.6zM270.8 308.3h2.4v2.4h-2.4zM152.1 312h1.5v3.6h-1.5zM219.7 274.9h2.4v2.4h-2.4zM375.6 307.3h1.6v1.6h-1.6zM531.5 324.8h2v1.2h-2zM319.6 299.3h1.6v1.6h-1.6zM438.7 313.1h1.6v2.7h-1.6zM149.6 329.6h3.6v1.5h-3.6zM323.3 305.5h1.6v1.6h-1.6zM221.6 276.9h1.5v3.6h-1.5zM99.8 238.4h1.8v1.8h-1.8zM231.2 359.5h1.1v2.7h-1.1zM218.8 306.1h1.5v3.6h-1.5zM352.4 314.5h1.6v1.6h-1.6zM349.7 265.7h1.6v2.7h-1.6zM662.8 366.7h1.2v1.2h-1.2zM469.1 336.9h1.6v1.6h-1.6zM109 308.9h1.6v2.7h-1.6zM463.7 252.9h1.2v1.2h-1.2zM297.8 252.2h2v1.2h-2zM217.7 331.2h1.6v1.6h-1.6zM125.9 305.4h1.5v3.6h-1.5zM304.1 324.7h1.6v2.7h-1.6zM221.5 284.7h3.6v1.5h-3.6zM366.5 345.3h1.6v2.7h-1.6zM576.7 301h1.2v2h-1.2zM413.7 284.3h2.7v1.6h-2.7zM333.9 276.8h2.4v2.4h-2.4zM189.5 290.1h1.6v1.6h-1.6zM387.1 288.2h2.4v2.4h-2.4zM436.6 284.6h1.5v3.6h-1.5zM216.1 351.5h1.2v2h-1.2zM275.8 334.7h1.5v3.6h-1.5zM223.6 283.7h1.5v3.6h-1.5zM271.4 320.3h2.7v1.6h-2.7zM100.1 289.3h1.5v3.6h-1.5zM258.3 295.4h1.6v2.7h-1.6zM418.8 274.1h2.7v1.6h-2.7zM280.7 319.1h1.6v1.6h-1.6zM328 321.9h1.6v2.7h-1.6zM240.4 316.7h2.4v2.4h-2.4zM536.7 295.6h2.7v1.1h-2.7zM248.6 312.4h1.6v1.6h-1.6zM186.1 313.8h1.6v2.7h-1.6zM233.4 292.7h2.4v2.4h-2.4zM245.3 287.1h1.6v2.7h-1.6zM202.3 300.2h2.7v1.6h-2.7zM251.7 294.8h2.7v1.6h-2.7zM339.7 295.7h2.7v1.6h-2.7zM238.9 289h2.4v2.4h-2.4zM262.1 295.3h3.6v1.5h-3.6zM98.4 246.2h1.1v2.7h-1.1zM146.6 305.5h1.5v3.6h-1.5zM312.3 261.6h2.4v2.4h-2.4zM181.6 307.1h1.5v3.6h-1.5zM198.1 326.8h1.5v3.6h-1.5zM281 266.1h1.6v2.7h-1.6zM221.6 295.6h3.6v1.5h-3.6zM379.1 316.1h1.5v3.6h-1.5zM241 337.2h1.6v1.6h-1.6zM330.8 318.1h1.6v1.6h-1.6zM374.7 260.1h2.7v1.6h-2.7zM267.3 300h2.7v1.6h-2.7zM207.5 302h3.6v1.5h-3.6zM400 299h1.5v3.6h-1.5zM222.5 331.5h1.6v2.7h-1.6zM495.8 302.3h1.6v1.6h-1.6zM277.6 322.3h1.6v2.7h-1.6zM468.5 305.2h3.6v1.5h-3.6zM414.5 291.8h1.6v1.6h-1.6zM332.7 289.4h2.7v1.6h-2.7zM198.9 300.3h1.6v2.7h-1.6zM313.3 311.1h2.7v1.6h-2.7zM350.6 346.8h1.6v1.6h-1.6zM372.9 306h1.6v1.6h-1.6zM277.6 322.3h1.6v1.6h-1.6zM98.4 287.5h1.6v2.7h-1.6zM299.5 287.7h3.6v1.5h-3.6zM345.9 296.4h2.7v1.6h-2.7zM274.1 329.6h2.7v1.6h-2.7zM246.1 328.4h1.6v2.7h-1.6zM223.9 310.6h1.6v2.7h-1.6zM303.8 314.1h1.6v2.7h-1.6zM453 338.1h1.6v2.7h-1.6zM248.5 259.2h1.6v2.7h-1.6zM223.7 308.6h3.6v1.5h-3.6zM216.4 280.4h1.6v1.6h-1.6zM211.6 314.3h1.6v2.7h-1.6zM495.9 306.1h2.7v1.6h-2.7zM247.5 342.2h3.6v1.5h-3.6zM203.8 314.3h3.6v1.5h-3.6zM345.6 337.8h1.5v3.6h-1.5zM237.4 286.7h2.4v2.4h-2.4zM61.1 399.3h2.7v1.1h-2.7zM400 295.2h2.4v2.4h-2.4zM108.6 299.5h1.6v2.7h-1.6zM289.5 315.6h1.6v2.7h-1.6zM215 330.6h1.6v2.7h-1.6zM465.7 263.7h1.2v1.2h-1.2zM453.2 310.2h1.6v2.7h-1.6zM256 305.1h1.6v2.7h-1.6zM304.5 308.1h2.4v2.4h-2.4zM328.9 305.1h1.5v3.6h-1.5zM283.9 288.6h1.6v2.7h-1.6zM136 348.5h2.4v2.4h-2.4zM287.7 304.5h2.4v2.4h-2.4zM250.8 324.1h2.7v1.6h-2.7zM341.6 252.4h1.2v1.2h-1.2zM193.9 318.8h1.6v1.6h-1.6zM307.5 313.6h1.6v2.7h-1.6zM95.2 295.7h1.6v2.7h-1.6zM260.2 321.4h2.4v2.4h-2.4zM227.4 296.6h1.6v1.6h-1.6zM210.1 266h1.5v3.6h-1.5zM369.9 290.9h2.7v1.6h-2.7zM472.3 303.4h2.7v1.6h-2.7zM274.2 285.7h2.7v1.6h-2.7zM153.3 302.2h1.5v3.6h-1.5zM481.5 323.6h1.6v2.7h-1.6zM343.9 306.9h1.5v3.6h-1.5zM214.6 310.7h1.6v1.6h-1.6zM243.9 335.5h2.7v1.6h-2.7zM242.9 321.9h2.7v1.6h-2.7zM338.4 313.6h1.6v2.7h-1.6zM241.5 272.6h2.4v2.4h-2.4zM456.4 306.8h1.6v2.7h-1.6zM378.2 310.9h3.6v1.5h-3.6zM115.1 296.4h2.4v2.4h-2.4zM257.5 304.4h2.7v1.6h-2.7zM226.1 303.2h2.7v1.6h-2.7zM288.9 341.8h2.7v1.6h-2.7zM335.8 350.7h1.2v1.2h-1.2zM315.2 306.6h1.5v3.6h-1.5zM608.1 351.4h1.2v1.2h-1.2zM385.9 341.1h1.5v3.6h-1.5zM231.8 269.2h1.6v1.6h-1.6zM258 243.1h2.7v1.1h-2.7zM334.2 326.2h1.6v2.7h-1.6zM672.4 297.3h1.2v1.2h-1.2zM210.8 324.2h2.7v1.6h-2.7zM158.4 284.1h1.5v3.6h-1.5zM127.4 367.6h1.1v2.7h-1.1zM466 312.7h1.5v3.6h-1.5zM406.8 304.4h2.7v1.6h-2.7zM256 290.8h1.5v3.6h-1.5zM217.3 281h1.6v2.7h-1.6zM238.1 297.1h1.6v2.7h-1.6zM372.8 321.7h2.7v1.6h-2.7zM258.3 307.5h3.6v1.5h-3.6zM240.7 244.8h1.2v2h-1.2zM121.9 324.5h1.6v2.7h-1.6zM216.1 258.7h1.6v2.7h-1.6zM462.2 313.9h1.6v1.6h-1.6zM314.3 369.7h1.2v1.2h-1.2zM65.1 302.5h1.5v3.6h-1.5zM326.2 298.5h1.6v2.7h-1.6zM352.2 293.2h2.4v2.4h-2.4zM77 261.3h1.2v1.2h-1.2zM187.1 342.5h1.6v1.6h-1.6zM269.5 292.2h1.6v1.6h-1.6zM181 318h1.6v2.7h-1.6zM281.4 332h3.6v1.5h-3.6zM471.9 381.3h1.1v2.7h-1.1zM376.3 313.1h2.7v1.6h-2.7zM162 329.1h2.7v1.6h-2.7zM453.7 288.3h2.7v1.6h-2.7zM283.5 312.1h3.6v1.5h-3.6zM201.9 311.6h1.6v2.7h-1.6zM268.7 332h3.6v1.5h-3.6zM214.4 368.2h2v1.2h-2zM244.1 304h1.5v3.6h-1.5zM225.6 284.1h3.6v1.5h-3.6zM309 282.8h1.6v1.6h-1.6zM226.5 259.6h3.6v1.5h-3.6zM373.8 296h1.5v3.6h-1.5zM379.2 315.8h1.6v2.7h-1.6zM342.9 288.3h1.5v3.6h-1.5zM88.3 343.3h1.6v1.6h-1.6zM73 290.2h1.5v3.6h-1.5zM429.6 324.7h1.5v3.6h-1.5zM307.8 227.8h2.7v1.1h-2.7zM333.7 271.8h3.6v1.5h-3.6zM287.6 300.8h1.5v3.6h-1.5zM246.7 310.9h2.7v1.6h-2.7zM200.8 315.7h1.6v1.6h-1.6zM496.7 324.3h1.6v2.7h-1.6zM424.7 315h3.6v1.5h-3.6zM347.6 325.7h3.6v1.5h-3.6zM233.9 293.4h1.5v3.6h-1.5zM395.9 324.2h1.6v1.6h-1.6zM219.7 307h1.6v1.6h-1.6zM431.9 292.3h3.6v1.5h-3.6zM284.2 290h2.7v1.6h-2.7zM299.6 229.1h1.2v2h-1.2zM343.3 233.1h1.2v1.2h-1.2zM193.5 274.6h2.7v1.6h-2.7zM256.3 262.4h1.6v2.7h-1.6zM314.4 312.1h1.6v2.7h-1.6zM267.5 279.8h1.6v1.6h-1.6zM359.2 286.1h2.4v2.4h-2.4zM309.3 327.7h1.6v2.7h-1.6zM358.3 375.4h2.7v1.1h-2.7zM518.9 402.9h1.2v1.2h-1.2zM405.5 339.1h1.6v2.7h-1.6zM322.9 274.8h1.6v2.7h-1.6zM317.1 315.5h2.4v2.4h-2.4zM375.5 315.4h1.5v3.6h-1.5zM313 322.4h2.4v2.4h-2.4zM335.4 357.6h1.2v1.2h-1.2zM384.7 343.7h1.6v1.6h-1.6zM200.4 317.6h1.6v1.6h-1.6zM285.3 327.8h1.6v2.7h-1.6zM423.2 331h3.6v1.5h-3.6zM404.4 312.4h1.6v1.6h-1.6zM417.7 335.8h1.5v3.6h-1.5zM173.2 330.6h1.5v3.6h-1.5zM450.2 343.6h1.6v1.6h-1.6zM350.4 280.8h1.6v2.7h-1.6zM430 332.4h2.4v2.4h-2.4zM310.1 339.5h2.7v1.6h-2.7zM327.8 273.8h2.7v1.6h-2.7zM251 326.5h1.5v3.6h-1.5zM370.4 258.5h3.6v1.5h-3.6zM280.3 308.2h1.6v2.7h-1.6zM324.7 325.8h3.6v1.5h-3.6zM148.4 312.4h2.7v1.6h-2.7zM374.7 319.8h2.7v1.6h-2.7zM374.9 330.4h1.6v2.7h-1.6zM245.4 291.9h1.6v2.7h-1.6zM329 284.6h2.4v2.4h-2.4zM291.8 326.5h1.6v2.7h-1.6zM194.4 301.9h3.6v1.5h-3.6zM311.6 353.5h2v1.2h-2zM353.5 304.4h1.6v1.6h-1.6zM296 347h1.6v1.6h-1.6zM458.9 374.1h2v1.2h-2zM249.8 378.1h2v1.2h-2zM439.5 282.3h1.6v1.6h-1.6zM449.3 369.6h1.1v2.7h-1.1zM236.5 300.2h2.7v1.6h-2.7zM158.1 383.8h1.2v2h-1.2zM75.2 270.6h1.8v1.8h-1.8zM180.8 307.9h1.6v2.7h-1.6zM294.6 312.3h3.6v1.5h-3.6zM79 298.3h1.6v2.7h-1.6zM342.3 279.4h1.6v2.7h-1.6zM362.6 283h2.7v1.6h-2.7zM250.1 269.3h1.6v2.7h-1.6zM417.9 275.1h1.6v1.6h-1.6zM321.8 293.4h2.7v1.6h-2.7zM445.9 304h2.7v1.6h-2.7zM382.9 291.7h1.6v1.6h-1.6zM332.9 332.9h1.6v2.7h-1.6zM251.8 303.1h1.6v2.7h-1.6zM504.8 295.2h2.7v1.6h-2.7zM316.2 344.1h1.6v2.7h-1.6zM209.5 312.7h3.6v1.5h-3.6zM183.8 394.6h1.2v2h-1.2zM262.2 319.3h1.6v2.7h-1.6zM336.6 309.7h2.7v1.6h-2.7zM97.9 295h1.6v2.7h-1.6zM240.8 304.3h2.7v1.6h-2.7zM395.7 310.3h1.5v3.6h-1.5zM289.4 326.1h2.4v2.4h-2.4zM407.5 261.6h1.1v2.7h-1.1zM463.8 339.8h1.6v1.6h-1.6zM419.4 311.9h2.4v2.4h-2.4zM407.7 331.7h1.5v3.6h-1.5zM194.3 311.3h1.6v1.6h-1.6zM453 355.1h1.2v2h-1.2zM218.8 314.4h1.5v3.6h-1.5zM283.6 283.9h2.7v1.6h-2.7zM360.3 297.9h1.6v2.7h-1.6zM404.3 286.7h2.7v1.6h-2.7zM107.6 287.6h1.6v1.6h-1.6zM205.3 289.6h1.6v2.7h-1.6zM240.5 314.3h1.6v2.7h-1.6zM466.5 379.6h2.7v1.1h-2.7zM216 295.9h1.6v2.7h-1.6zM98.1 333.9h3.6v1.5h-3.6zM681.6 342.5h2v1.2h-2zM94.7 309.9h1.6v2.7h-1.6zM264.5 315.3h1.6v1.6h-1.6zM163.5 298.8h2.4v2.4h-2.4zM311.9 338.3h1.6v1.6h-1.6zM280 300.5h1.6v2.7h-1.6zM237.4 290.1h1.6v1.6h-1.6zM429 337.2h3.6v1.5h-3.6zM127.4 295.5h1.6v1.6h-1.6zM86.2 369.4h2.7v1.1h-2.7zM218.5 317.6h2.7v1.6h-2.7zM129.4 306.8h1.5v3.6h-1.5zM310.3 322.3h2.7v1.6h-2.7zM261.6 304.6h1.5v3.6h-1.5zM165.6 267.7h1.1v2.7h-1.1zM229.3 267.5h1.5v3.6h-1.5zM668.7 382.9h1.2v1.2h-1.2zM218 281.7h1.6v2.7h-1.6zM222.3 349.6h2.7v1.6h-2.7zM93 358.8h1.2v2h-1.2zM97 312.3h2.7v1.6h-2.7zM226.6 290.5h2.7v1.6h-2.7zM397.8 280.9h1.5v3.6h-1.5zM204.3 301.7h1.6v1.6h-1.6zM85.3 271h2.7v1.1h-2.7zM389.1 269.4h1.6v1.6h-1.6zM252.8 304h1.6v1.6h-1.6zM395.5 314.6h2.7v1.6h-2.7zM266.4 304.7h2.7v1.6h-2.7zM258.6 289.7h2.7v1.6h-2.7zM448.9 316.2h1.6v1.6h-1.6zM132.5 285.8h1.5v3.6h-1.5zM233.2 311.2h1.5v3.6h-1.5zM309.9 227.6h2v1.2h-2zM367.6 332h1.6v1.6h-1.6zM66.4 259.3h1.2v1.2h-1.2zM324.3 299.4h1.6v2.7h-1.6zM289 306.9h2.7v1.6h-2.7zM184.9 340.5h1.6v1.6h-1.6zM523.7 338h1.2v2h-1.2zM309.4 289.4h1.5v3.6h-1.5zM90.4 299.4h1.6v2.7h-1.6zM348.6 277.6h1.6v2.7h-1.6zM314.7 304.6h1.6v1.6h-1.6zM427 314.1h3.6v1.5h-3.6zM360 338.8h2.7v1.6h-2.7zM393.1 339.2h1.5v3.6h-1.5zM348.1 333.9h1.6v1.6h-1.6zM554.4 321.4h2.7v1.1h-2.7zM251.1 326h2.4v2.4h-2.4zM293 301.9h1.6v2.7h-1.6zM232.4 285.7h1.5v3.6h-1.5zM149.4 276.5h1.5v3.6h-1.5zM135.8 386.5h2.7v1.1h-2.7zM318.8 315.6h1.6v2.7h-1.6zM302.8 311.6h1.5v3.6h-1.5zM342.7 325.8h2.7v1.6h-2.7zM300.4 231h1.1v2.7h-1.1zM233.6 299.6h1.6v1.6h-1.6zM232.6 336.8h1.6v1.6h-1.6zM223.5 333.9h1.6v2.7h-1.6zM282.8 303.6h1.6v2.7h-1.6zM132 287.2h2.7v1.6h-2.7zM193.6 343.6h1.6v1.6h-1.6zM558 369.1h1.2v2h-1.2zM303.4 276.7h1.6v1.6h-1.6zM176 315.5h2.4v2.4h-2.4zM143.3 331.3h1.5v3.6h-1.5zM322.7 313.6h1.6v2.7h-1.6zM396.9 317.8h1.6v1.6h-1.6zM385.3 328.7h3.6v1.5h-3.6zM547.8 311h1.2v1.2h-1.2zM291 300.7h3.6v1.5h-3.6zM219.7 266.3h2.7v1.6h-2.7zM374.6 320.6h3.6v1.5h-3.6zM243.2 284.4h1.5v3.6h-1.5zM234.2 339.7h1.6v1.6h-1.6zM278.8 268.3h2.7v1.6h-2.7zM180.5 320.4h2.4v2.4h-2.4zM313.4 282.3h2.4v2.4h-2.4zM172.6 282.1h1.6v1.6h-1.6zM129.3 260.1h1.2v1.2h-1.2zM86.8 275.5h2.7v1.6h-2.7zM482.3 317.3h1.5v3.6h-1.5zM309.6 330.1h1.6v2.7h-1.6zM320.2 321.1h1.6v1.6h-1.6zM273.5 320.3h1.6v1.6h-1.6zM445.4 326.5h1.6v2.7h-1.6zM73.7 261.1h2v1.2h-2zM236.3 318.6h2.7v1.6h-2.7zM232.8 325.7h1.6v2.7h-1.6zM294.5 305.5h3.6v1.5h-3.6zM333.9 287h1.5v3.6h-1.5zM325.3 283.8h1.6v2.7h-1.6zM264.4 290.9h2.7v1.6h-2.7zM651.2 302.9h1.2v2h-1.2zM235 309.3h1.5v3.6h-1.5zM111.9 288.9h3.6v1.5h-3.6zM486.5 293.8h1.6v2.7h-1.6zM231.6 312.6h1.6v1.6h-1.6zM236 272h1.6v2.7h-1.6zM155.7 292.7h1.6v1.6h-1.6zM144.8 291.9h2.7v1.6h-2.7zM515.6 296.4h2.7v1.6h-2.7zM263 275.5h1.6v1.6h-1.6zM369.4 284.3h1.6v2.7h-1.6zM366.9 310.3h2.4v2.4h-2.4zM78.1 306.1h1.6v2.7h-1.6zM311 299.7h2.7v1.6h-2.7zM270 283.8h2.4v2.4h-2.4zM273.4 316.7h1.6v1.6h-1.6zM117.4 353.6h1.2v2h-1.2zM251.3 302.2h2.7v1.6h-2.7zM315.7 284.2h1.6v1.6h-1.6zM667.9 383h1.2v1.2h-1.2zM311.3 293.9h1.6v1.6h-1.6zM367.5 304.7h2.7v1.6h-2.7zM305.3 291h1.6v1.6h-1.6zM452.5 322.6h1.6v1.6h-1.6zM78.5 296.4h2.7v1.6h-2.7zM232.9 321h1.6v2.7h-1.6zM380.4 312.4h1.6v1.6h-1.6zM62.9 292.4h1.5v3.6h-1.5zM286.3 322.3h2.7v1.6h-2.7zM203.8 277.2h1.6v2.7h-1.6zM385.2 282.2h1.6v2.7h-1.6zM404.7 238.5h1.1v2.7h-1.1zM244.6 328.7h2.4v2.4h-2.4zM138.8 281.7h2.7v1.6h-2.7zM292.7 378.6h1.2v1.2h-1.2zM300.8 313.7h1.5v3.6h-1.5zM226.7 289.8h1.6v2.7h-1.6zM671.2 288.9h2.7v1.1h-2.7zM220.4 280.2h1.6v2.7h-1.6zM166.8 350.4h1.2v1.2h-1.2zM248.7 305h1.6v2.7h-1.6zM234.3 297.7h2.7v1.6h-2.7zM306.7 337.6h2.7v1.6h-2.7zM231.9 283.3h1.6v1.6h-1.6zM249.5 307.1h1.6v1.6h-1.6zM329.3 290.4h2.7v1.6h-2.7zM305.6 313.2h2.7v1.6h-2.7zM239 313.4h1.6v2.7h-1.6zM216.9 310.6h1.5v3.6h-1.5zM250.5 306.1h1.6v1.6h-1.6zM356 303.5h2.4v2.4h-2.4zM119.8 302.4h1.6v1.6h-1.6zM145.3 356.6h2.7v1.1h-2.7zM442.7 288.8h1.6v2.7h-1.6zM264.7 308.7h3.6v1.5h-3.6zM375.6 321.7h1.6v2.7h-1.6zM395.7 310.5h1.5v3.6h-1.5zM359.6 332.6h1.6v1.6h-1.6zM100.3 262h2v1.2h-2zM91.5 319.6h1.6v1.6h-1.6zM270.7 302.8h1.5v3.6h-1.5zM316.1 312.5h1.6v2.7h-1.6zM366 299.8h2.4v2.4h-2.4zM397.2 300.5h1.5v3.6h-1.5zM327.7 323.7h1.6v2.7h-1.6zM353.6 272.1h1.6v1.6h-1.6zM188.9 287.2h1.6v2.7h-1.6zM529 300.6h2.7v1.1h-2.7zM116.5 306.8h1.5v3.6h-1.5zM295.7 264.6h2.7v1.6h-2.7zM467.9 331.7h1.6v2.7h-1.6zM238.9 300.2h2.7v1.6h-2.7zM271.4 297.3h1.6v2.7h-1.6zM311.7 301.3h1.6v1.6h-1.6zM237.7 294.8h2.4v2.4h-2.4zM423.9 325.1h2.7v1.6h-2.7zM505.2 320.6h2.7v1.6h-2.7zM307.3 231.1h1.2v1.2h-1.2zM269.2 305.2h1.6v2.7h-1.6zM282.9 289.1h1.5v3.6h-1.5zM610.2 329.8h1.2v1.2h-1.2zM243.9 283.7h1.5v3.6h-1.5zM178.9 271.3h2.4v2.4h-2.4zM362.6 297.5h2.7v1.6h-2.7zM360.7 320.7h2.7v1.6h-2.7zM425.3 284h3.6v1.5h-3.6zM313.6 288.9h1.6v1.6h-1.6zM369 314.9h1.6v1.6h-1.6zM180.8 269.1h1.6v2.7h-1.6zM227.4 273.7h3.6v1.5h-3.6zM279 270.8h2.7v1.6h-2.7zM105.7 300.4h1.6v1.6h-1.6zM305 305.9h2.7v1.6h-2.7zM467.7 328h1.5v3.6h-1.5zM294.4 312.7h1.5v3.6h-1.5zM268.3 284.3h1.6v1.6h-1.6zM223.2 278.2h1.6v2.7h-1.6zM491.7 311.3h1.6v1.6h-1.6zM155.1 354.2h1.2v2h-1.2zM393.6 313.8h2.7v1.6h-2.7zM330.2 302.7h1.5v3.6h-1.5zM379.2 292.2h2.7v1.6h-2.7zM250.9 324.8h2.7v1.6h-2.7zM415.1 345h1.5v3.6h-1.5zM320.9 299h2.4v2.4h-2.4zM227.7 258h1.6v1.6h-1.6zM425.8 323.7h3.6v1.5h-3.6zM291.9 290.3h1.6v1.6h-1.6zM610.4 311.4h2v1.2h-2zM74.1 289.2h1.6v2.7h-1.6zM199.8 286.2h1.6v2.7h-1.6zM306.5 325.9h2.7v1.6h-2.7zM317.1 290.8h1.6v2.7h-1.6zM226.6 260.2h1.5v3.6h-1.5zM664 392.3h1.2v2h-1.2zM324.5 326.8h3.6v1.5h-3.6zM227.3 290.8h1.6v1.6h-1.6zM232.3 321.4h1.6v1.6h-1.6zM380.6 352.5h1.2v2h-1.2zM354.6 307.7h2.7v1.6h-2.7zM280.3 272.3h2.7v1.6h-2.7zM243.8 295.1h2.7v1.6h-2.7zM273.3 259.7h1.5v3.6h-1.5zM249.7 335.7h1.5v3.6h-1.5zM200.1 305.9h1.6v2.7h-1.6zM384.3 282.4h3.6v1.5h-3.6zM99.2 298.5h2.7v1.6h-2.7zM91.3 342.4h2.7v1.6h-2.7zM280.2 289.9h1.6v2.7h-1.6zM371 301.5h2.4v2.4h-2.4zM470.5 311.8h2.4v2.4h-2.4zM367.5 332.3h1.6v1.6h-1.6zM310.8 307.1h3.6v1.5h-3.6zM290.2 310.5h2.7v1.6h-2.7zM310.5 295.8h2.7v1.6h-2.7zM269.9 293.4h2.7v1.6h-2.7zM213.8 321.9h1.6v2.7h-1.6zM362.3 261h2.7v1.6h-2.7zM352 299h1.6v2.7h-1.6zM145.6 333.9h1.5v3.6h-1.5zM166.4 256.8h1.2v1.2h-1.2zM292.2 329.7h2.7v1.6h-2.7zM250.8 290.3h3.6v1.5h-3.6zM308.2 303.2h2.7v1.6h-2.7zM430.8 291.2h1.6v2.7h-1.6zM65.6 364h1.8v1.8h-1.8zM396.7 312.9h2.7v1.6h-2.7zM272.9 293.4h2.7v1.6h-2.7zM212 259.8h1.6v1.6h-1.6zM168.7 286.1h2.7v1.6h-2.7zM82.5 271.9h2v1.2h-2zM387.8 284.7h1.5v3.6h-1.5zM301.7 301.8h3.6v1.5h-3.6zM399.7 305h2.4v2.4h-2.4zM325.2 310h2.7v1.6h-2.7zM489.5 294h2.7v1.6h-2.7zM370.3 301.8h1.5v3.6h-1.5zM173.4 299.1h1.6v1.6h-1.6zM293.3 321.7h1.5v3.6h-1.5zM256.5 344.4h1.5v3.6h-1.5zM272.7 281h1.6v2.7h-1.6zM218.5 312.9h3.6v1.5h-3.6zM380.9 324.5h1.6v1.6h-1.6zM154.6 314.9h1.5v3.6h-1.5zM391.1 323.7h1.5v3.6h-1.5zM116.8 323.7h1.6v2.7h-1.6zM426.7 325.6h2.7v1.6h-2.7zM583.7 302h2.7v1.1h-2.7zM264.7 264.1h1.6v1.6h-1.6zM204.9 323.2h1.6v1.6h-1.6zM275.6 333.3h1.6v1.6h-1.6zM184.7 321.6h1.6v1.6h-1.6zM224.6 306.7h1.5v3.6h-1.5zM310.8 273h3.6v1.5h-3.6zM354.9 285.4h3.6v1.5h-3.6zM425.6 226.1h1.2v1.2h-1.2zM249.4 325.2h1.5v3.6h-1.5zM359.1 399.7h1.2v1.2h-1.2zM207 239.5h1.2v1.2h-1.2zM385.2 280.6h3.6v1.5h-3.6zM118.4 298.9h1.5v3.6h-1.5zM287.4 322.5h3.6v1.5h-3.6zM352.1 330.9h1.6v1.6h-1.6zM305.6 311.8h1.6v1.6h-1.6zM371.1 323.3h1.5v3.6h-1.5zM203.6 302.1h1.6v1.6h-1.6zM676.6 332.5h1.8v1.8h-1.8zM174.3 365.1h1.1v2.7h-1.1zM221.7 293.8h1.6v1.6h-1.6zM473.3 329.6h2.7v1.6h-2.7zM461.6 318.3h2.4v2.4h-2.4zM463.1 333.1h3.6v1.5h-3.6zM369.7 285.5h3.6v1.5h-3.6zM280 308h1.6v1.6h-1.6zM288.5 298.9h1.6v1.6h-1.6zM239.9 258.7h1.6v1.6h-1.6zM158.6 317.9h2.7v1.6h-2.7zM162.1 289.2h1.6v1.6h-1.6zM203.9 290.6h1.6v1.6h-1.6zM305.9 306h1.5v3.6h-1.5zM100.7 318.9h1.6v2.7h-1.6zM253 305.4h1.6v1.6h-1.6zM137.3 298.2h1.6v1.6h-1.6zM571.3 347.4h1.1v2.7h-1.1zM236.2 313.2h1.6v1.6h-1.6zM216.9 320h2.4v2.4h-2.4zM178.2 330.9h1.6v2.7h-1.6zM209.7 300.6h3.6v1.5h-3.6zM282.7 350.8h1.5v3.6h-1.5zM237.8 312.7h2.4v2.4h-2.4zM194 290h1.5v3.6h-1.5zM198 339.4h1.5v3.6h-1.5zM146.4 328.5h1.6v1.6h-1.6zM330.2 390.7h1.2v1.2h-1.2zM317.7 317.4h1.6v1.6h-1.6zM232.3 295.5h1.6v1.6h-1.6zM349.1 338.8h1.6v1.6h-1.6zM546.1 370.4h1.2v2h-1.2zM321.7 327.7h1.6v1.6h-1.6zM485.7 341.4h1.2v1.2h-1.2zM304.7 304.9h1.6v2.7h-1.6zM166.6 332h2.7v1.6h-2.7zM195.6 278.7h2.7v1.6h-2.7zM201.3 313.2h1.5v3.6h-1.5zM636.4 296h1.2v2h-1.2zM398.9 298.9h2.7v1.6h-2.7zM303.2 332.2h1.5v3.6h-1.5zM106.4 292h3.6v1.5h-3.6zM384.1 300.9h3.6v1.5h-3.6zM212.1 300.4h2.4v2.4h-2.4zM439.4 338.6h1.6v2.7h-1.6zM374.5 325.8h1.5v3.6h-1.5zM352.1 313.6h1.6v2.7h-1.6zM378.8 269.4h1.6v1.6h-1.6zM220.7 298.7h1.6v2.7h-1.6zM425.1 317.8h1.5v3.6h-1.5zM307.6 267.3h2.7v1.6h-2.7zM386.2 278.2h3.6v1.5h-3.6zM91.2 329.1h1.6v1.6h-1.6zM308.3 294.2h3.6v1.5h-3.6zM316.8 314.1h2.4v2.4h-2.4zM330.6 284.9h1.5v3.6h-1.5zM298.2 290.2h2.4v2.4h-2.4zM265.3 314.7h1.6v2.7h-1.6zM176.6 348h1.6v2.7h-1.6zM161.9 368.6h1.8v1.8h-1.8zM538.6 354.7h1.1v2.7h-1.1zM61.9 296.1h2.4v2.4h-2.4zM344.6 326h1.6v1.6h-1.6zM286.3 265.1h1.6v1.6h-1.6zM367.8 277.9h1.6v2.7h-1.6zM344.7 287.4h1.6v2.7h-1.6zM355.6 309.2h1.6v1.6h-1.6zM154.1 328.9h1.6v1.6h-1.6zM62.5 289.9h1.6v2.7h-1.6zM375.2 277.9h2.4v2.4h-2.4zM317 287h1.5v3.6h-1.5zM231.8 325.9h2.4v2.4h-2.4zM349.3 300.7h1.6v1.6h-1.6zM253.3 317.9h2.7v1.6h-2.7zM101.5 321.6h1.6v2.7h-1.6zM466.6 314.5h1.5v3.6h-1.5zM459.4 287.8h1.5v3.6h-1.5zM256.8 291.7h1.6v2.7h-1.6zM328.2 350.2h1.6v1.6h-1.6zM407.3 302.1h2.4v2.4h-2.4zM325.2 398h1.2v2h-1.2zM269.2 309.1h1.5v3.6h-1.5zM247 277h1.6v1.6h-1.6zM306.1 304.4h1.6v2.7h-1.6zM273.8 308.4h1.6v1.6h-1.6zM262.9 341.6h3.6v1.5h-3.6zM275.7 317.2h1.6v1.6h-1.6zM516.9 370.3h1.2v1.2h-1.2zM629.5 294.2h2.7v1.1h-2.7zM227.8 299.5h2.7v1.6h-2.7zM153.6 306.4h2.7v1.6h-2.7zM601.1 392.5h1.2v2h-1.2zM300.8 295.7h1.6v2.7h-1.6zM132.1 273.7h2.4v2.4h-2.4zM272.2 311.7h2.4v2.4h-2.4zM201.2 306.3h1.6v1.6h-1.6zM167.1 308.1h1.6v2.7h-1.6zM259.6 316.6h3.6v1.5h-3.6zM341.9 305.6h3.6v1.5h-3.6zM252.6 295.6h1.6v2.7h-1.6zM334.9 326.4h1.6v2.7h-1.6zM471.9 294.2h1.6v1.6h-1.6zM330.2 321.2h1.6v1.6h-1.6zM99.8 295.8h1.5v3.6h-1.5zM217 281.8h1.6v2.7h-1.6zM232.5 302.8h1.5v3.6h-1.5zM152.7 262.7h1.2v1.2h-1.2zM313.1 310.4h3.6v1.5h-3.6zM344.9 302.3h1.6v1.6h-1.6zM299.1 319.5h1.6v1.6h-1.6zM365.5 274.8h2.7v1.6h-2.7zM652 400.5h1.2v1.2h-1.2zM409.7 353.7h2.7v1.1h-2.7zM61.3 328.2h1.6v2.7h-1.6zM404.8 345h1.6v2.7h-1.6zM191.2 289h1.6v2.7h-1.6zM369 299.7h1.6v1.6h-1.6zM195.5 295.9h3.6v1.5h-3.6zM354.3 328h1.6v2.7h-1.6zM452.9 375.7h1.8v1.8h-1.8zM205.4 334.2h2.7v1.6h-2.7zM429.5 286.3h2.7v1.6h-2.7zM595.8 361.9h1.2v2h-1.2zM278.5 328.4h3.6v1.5h-3.6zM92.5 317.1h2.4v2.4h-2.4zM175.4 351.4h1.2v2h-1.2zM601 362.2h1.2v1.2h-1.2zM247.5 297.9h1.6v1.6h-1.6zM140.9 294.3h2.7v1.6h-2.7zM289.1 343h3.6v1.5h-3.6zM311.2 340.1h2.7v1.6h-2.7zM337.3 307h1.6v1.6h-1.6zM418.6 392.8h1.1v2.7h-1.1zM301.7 283.7h1.6v2.7h-1.6zM411.9 327.6h1.6v2.7h-1.6zM597.4 320.1h2.7v1.1h-2.7zM396.3 268.3h1.6v2.7h-1.6zM603.5 325.5h1.1v2.7h-1.1zM435.7 310.2h1.6v2.7h-1.6zM80.3 352.8h1.8v1.8h-1.8zM319.4 306.7h1.5v3.6h-1.5zM259.5 311.6h1.6v1.6h-1.6zM315.1 266.2h1.6v1.6h-1.6zM397.3 426.1h1.2v1.2h-1.2zM141.6 309h2.7v1.6h-2.7zM295.4 280.8h1.6v1.6h-1.6zM172.9 357.7h2.7v1.1h-2.7zM370 291.1h1.6v2.7h-1.6zM315.9 316.1h3.6v1.5h-3.6zM289.9 305.1h1.5v3.6h-1.5zM365.5 278.5h1.6v1.6h-1.6zM77.8 263h1.1v2.7h-1.1zM214 291.7h1.6v2.7h-1.6zM385.7 294.6h2.7v1.6h-2.7zM218.6 301.4h2.4v2.4h-2.4zM134.6 303.8h2.7v1.6h-2.7zM263.6 281.4h2.7v1.6h-2.7zM366.3 329.6h1.6v2.7h-1.6zM291.7 294.6h1.5v3.6h-1.5zM158.3 285.6h2.7v1.6h-2.7zM455.8 308.2h1.6v1.6h-1.6zM634 390.9h1.8v1.8h-1.8zM62.9 288.8h2.7v1.6h-2.7zM321.1 304.8h1.5v3.6h-1.5zM377.1 324.3h2.7v1.6h-2.7zM262.4 429.7h1.2v1.2h-1.2zM136.3 320.2h2.4v2.4h-2.4zM432.5 299.4h2.7v1.6h-2.7zM133.5 301.2h1.5v3.6h-1.5zM249 323.8h1.6v1.6h-1.6zM250.9 276.6h2.4v2.4h-2.4zM327.9 297.4h3.6v1.5h-3.6zM219.3 328.7h2.7v1.6h-2.7zM231.8 303.8h2.7v1.6h-2.7zM293.1 321.3h2.4v2.4h-2.4zM351.8 312.9h3.6v1.5h-3.6zM227.2 296.3h3.6v1.5h-3.6zM444 296.7h1.6v2.7h-1.6zM343.5 297.6h1.6v2.7h-1.6zM308.8 303.3h1.6v1.6h-1.6zM174.8 341h2.7v1.6h-2.7zM192.3 285.9h1.6v1.6h-1.6zM112.2 339.9h1.6v1.6h-1.6zM318.3 297.6h2.7v1.6h-2.7zM608.3 373.5h1.2v1.2h-1.2zM298 327.2h2.4v2.4h-2.4zM216.3 314.8h2.4v2.4h-2.4zM266.1 323.5h2.7v1.6h-2.7zM218.5 297.5h1.5v3.6h-1.5zM170.7 328.5h2.7v1.6h-2.7zM185.4 291.6h2.7v1.6h-2.7zM473 323.5h1.5v3.6h-1.5zM196.4 357.4h1.2v2h-1.2zM252.3 329.3h1.6v2.7h-1.6zM303.4 277.4h1.6v2.7h-1.6zM74.4 287.3h1.6v2.7h-1.6zM481.9 363.1h1.2v1.2h-1.2zM95 297.1h3.6v1.5h-3.6zM329.2 332.9h1.5v3.6h-1.5zM174.9 298.4h1.6v1.6h-1.6zM236.9 325.3h3.6v1.5h-3.6zM346.2 330.2h1.6v1.6h-1.6zM235.6 297.7h1.5v3.6h-1.5zM299.4 315.3h1.6v1.6h-1.6zM238 290.8h1.6v1.6h-1.6zM252.6 294.3h3.6v1.5h-3.6zM298.6 306.6h3.6v1.5h-3.6zM269.2 305.8h2.4v2.4h-2.4zM129.4 307.1h1.5v3.6h-1.5zM344.4 320.7h1.6v2.7h-1.6zM245.5 311h3.6v1.5h-3.6zM253.5 324h2.7v1.6h-2.7zM326.9 315.3h2.7v1.6h-2.7zM464.8 243.5h2v1.2h-2zM231.5 315.1h1.5v3.6h-1.5zM348.1 325.9h3.6v1.5h-3.6zM308.5 319.8h2.7v1.6h-2.7zM307.3 301.6h1.6v2.7h-1.6zM275.2 274.6h1.5v3.6h-1.5zM261.8 240.2h1.1v2.7h-1.1zM281 258.7h1.5v3.6h-1.5zM77.8 302.8h1.6v1.6h-1.6zM348.6 390.9h1.2v1.2h-1.2zM298.5 290.1h1.6v2.7h-1.6zM229.6 294.3h1.6v2.7h-1.6zM130.6 314.5h3.6v1.5h-3.6zM443.5 300.9h1.6v2.7h-1.6zM234.6 278.9h1.6v1.6h-1.6zM199.9 268h2.7v1.6h-2.7zM321.3 282.6h2.7v1.6h-2.7zM207.5 300.5h1.6v2.7h-1.6zM157 231.6h1.2v1.2h-1.2zM114.3 319.5h3.6v1.5h-3.6zM549.5 330.4h1.2v2h-1.2zM310.9 317.6h1.5v3.6h-1.5zM218.2 342.2h1.6v1.6h-1.6zM249.5 326.2h3.6v1.5h-3.6zM393.7 294.3h3.6v1.5h-3.6zM341.8 298.7h1.6v2.7h-1.6zM71.6 295.3h2.7v1.6h-2.7zM244.5 293.8h1.5v3.6h-1.5zM518 303.2h2.7v1.6h-2.7zM310.4 311.9h3.6v1.5h-3.6zM191.3 303.9h2.7v1.6h-2.7zM142.9 297.5h2.4v2.4h-2.4zM473.5 317.2h1.6v2.7h-1.6zM202.3 331.7h1.6v1.6h-1.6zM386.8 334.9h2.4v2.4h-2.4zM360.7 327.1h3.6v1.5h-3.6zM196.5 334.5h1.6v1.6h-1.6zM119.6 280.5h2.7v1.6h-2.7zM426.6 304.2h1.6v2.7h-1.6zM157.1 340h2.4v2.4h-2.4zM261.4 278.7h3.6v1.5h-3.6zM139.6 284.3h1.5v3.6h-1.5zM283.1 329.8h2.7v1.6h-2.7zM192 322.8h1.5v3.6h-1.5zM344.1 289.9h1.6v1.6h-1.6zM285.5 283.9h1.5v3.6h-1.5zM273.5 355h2v1.2h-2zM334.7 308.6h1.6v2.7h-1.6zM396.9 315.5h1.6v1.6h-1.6zM333.2 272h1.6v1.6h-1.6zM195.9 357.4h1.8v1.8h-1.8zM82.8 296.6h1.6v1.6h-1.6zM336 274.9h1.6v1.6h-1.6zM289.8 289.7h2.7v1.6h-2.7zM227.2 331.9h3.6v1.5h-3.6zM467.5 261.2h1.2v2h-1.2zM421.1 278.5h1.6v1.6h-1.6zM263.7 311.1h2.7v1.6h-2.7zM672.4 350h1.2v1.2h-1.2zM292.5 294.2h1.5v3.6h-1.5zM358.6 297.9h2.4v2.4h-2.4zM486.1 357h1.2v1.2h-1.2zM340.5 315.2h1.6v1.6h-1.6zM70.8 333.6h2.7v1.6h-2.7zM279.4 338h2.7v1.6h-2.7zM178.3 310.6h2.7v1.6h-2.7zM293.6 246.7h1.2v1.2h-1.2zM207 333.7h2.4v2.4h-2.4zM177.2 296.3h2.7v1.6h-2.7zM205 302.3h1.6v2.7h-1.6zM231 331.2h1.6v1.6h-1.6zM222.1 330.6h2.7v1.6h-2.7zM193.8 321.6h1.6v1.6h-1.6zM199.2 304.5h2.7v1.6h-2.7zM441.8 297.2h1.6v1.6h-1.6zM77.1 234.3h1.2v1.2h-1.2zM507.6 298.9h1.6v1.6h-1.6zM153.3 276.3h1.6v2.7h-1.6zM320.3 298.2h3.6v1.5h-3.6zM277.4 358.6h1.8v1.8h-1.8zM280.2 305.8h1.5v3.6h-1.5zM435.2 285.6h3.6v1.5h-3.6zM210.6 297.9h1.6v2.7h-1.6zM307.7 325h1.6v2.7h-1.6zM424.3 246.2h1.1v2.7h-1.1zM276.6 308.3h2.4v2.4h-2.4zM212.9 315.8h2.7v1.6h-2.7zM105.4 293.7h1.6v2.7h-1.6zM272.1 376.2h2v1.2h-2zM391.6 271.5h1.6v1.6h-1.6zM226.9 343.7h1.6v2.7h-1.6zM168.7 279.6h2.4v2.4h-2.4zM269 286.3h2.7v1.6h-2.7zM432 269.9h1.1v2.7h-1.1zM279.6 351h3.6v1.5h-3.6zM234 301.5h1.6v2.7h-1.6zM346.7 287.5h1.6v2.7h-1.6zM332.2 367.8h1.2v1.2h-1.2zM178.9 237h1.1v2.7h-1.1zM402.2 332.5h2.7v1.6h-2.7zM339.5 314.2h2.7v1.6h-2.7zM281.7 310.2h1.6v1.6h-1.6zM218.3 383.6h1.2v1.2h-1.2zM174.4 230.2h2.7v1.1h-2.7zM225.2 333.7h2.4v2.4h-2.4zM277.7 346.6h2.4v2.4h-2.4zM433.3 294.3h1.5v3.6h-1.5zM254 317h3.6v1.5h-3.6zM294 304.4h1.6v2.7h-1.6zM432.5 323h2.7v1.6h-2.7zM337.8 334.3h1.6v2.7h-1.6zM290.6 380.7h2.7v1.1h-2.7zM214.3 293.7h2.7v1.6h-2.7zM307.4 332.5h2.4v2.4h-2.4zM329.3 303.9h1.5v3.6h-1.5zM447.3 317.1h2.7v1.6h-2.7zM297.9 307.4h1.5v3.6h-1.5zM430.7 316.1h1.6v1.6h-1.6zM487.9 314.7h1.6v2.7h-1.6zM355.6 329.2h1.6v2.7h-1.6zM340.3 348h1.5v3.6h-1.5zM310.6 323.2h3.6v1.5h-3.6zM184.6 300h1.6v1.6h-1.6zM299.6 306.2h1.5v3.6h-1.5zM362.1 260.7h2.7v1.6h-2.7zM311.4 328.6h1.5v3.6h-1.5zM320.9 334.2h1.6v1.6h-1.6zM234.6 312.7h2.4v2.4h-2.4zM297.9 328.3h2.7v1.6h-2.7zM143.3 277h1.5v3.6h-1.5zM288.6 313.6h1.5v3.6h-1.5zM304.3 326.4h2.7v1.6h-2.7zM292.3 264.9h1.6v1.6h-1.6zM294.9 300.6h1.6v1.6h-1.6zM472.3 297.8h2.4v2.4h-2.4zM358.3 341.1h2.7v1.6h-2.7zM299.5 312.6h1.5v3.6h-1.5zM280.4 290.8h2.7v1.6h-2.7zM314.2 291.2h1.6v2.7h-1.6zM403.1 321h1.6v2.7h-1.6zM381.6 305.2h1.6v1.6h-1.6zM241.3 315h1.6v1.6h-1.6zM234.4 297.4h1.6v1.6h-1.6zM272.4 314.1h1.6v1.6h-1.6zM131.5 309.4h1.6v1.6h-1.6zM254 285.5h1.6v2.7h-1.6zM380.8 325.6h1.5v3.6h-1.5zM301.3 288.3h1.6v1.6h-1.6zM235.3 316.9h1.6v2.7h-1.6zM325.4 308.9h3.6v1.5h-3.6zM387.4 291h1.5v3.6h-1.5zM263.9 299.3h1.6v1.6h-1.6zM258.8 334.2h2.4v2.4h-2.4zM308.1 322.7h3.6v1.5h-3.6zM337.6 316h1.6v2.7h-1.6zM311.4 315h2.7v1.6h-2.7zM274.4 281.6h1.6v1.6h-1.6zM453.1 348.8h1.2v2h-1.2zM274.9 332.4h2.7v1.6h-2.7zM327.5 301.7h1.6v1.6h-1.6zM297.8 316.1h1.6v1.6h-1.6zM679.5 316.8h2v1.2h-2zM229.4 285.6h1.5v3.6h-1.5zM286.6 341.1h3.6v1.5h-3.6zM372.1 324.3h1.6v2.7h-1.6zM268.4 275.5h1.5v3.6h-1.5zM257.2 321.6h1.6v1.6h-1.6zM332.1 273.7h1.5v3.6h-1.5zM435.4 309.7h1.6v1.6h-1.6zM174.8 313.4h2.7v1.6h-2.7zM183.8 360.9h1.2v2h-1.2zM247.7 286.7h2.7v1.6h-2.7zM293 236.5h2.7v1.1h-2.7zM311.6 319.3h1.5v3.6h-1.5z"/>
<path fill="#ff00ff" d="M235.6 286.1L256.6 285.5L269.7 286.7L279.6 288.5L284.8 289.2L284.8 299L301.3 299L301.3 304.4L307.6 305.9L311.7 307L315.2 310.6L315.2 313.8L312.3 314.6L303.6 316.7L295.8 313.9L287.7 310.7L278.5 307.9L266.9 303.5L257.4 298.9L249.5 297.4L243.7 295.5L239.1 292.1L235.6 290.7ZM323.2 313.2L333.8 313.2L333.8 317.8L323.2 317.8ZM344.4 318L348.8 318L348.8 320L344.4 320Z"/>M221.2 311.6L225.6 311.6L225.6 318.4L221.2 318.4Z
<path fill="none" stroke="#ff00ff" stroke-width="2.2" d="M220.4 311L226.4 316.2M226.4 311L220.4 316.2M220.4 313.8L226.4 319M226.4 313.8L220.4 319M57.4 313.1L63.4 318.3M63.4 313.1L57.4 318.3M102.9 315.2L108.9 320.4M108.9 315.2L102.9 320.4M100 326.9L106 332.1M106 326.9L100 332.1M100.5 327.9L106.5 333.1M106.5 327.9L100.5 333.1M111.3 323.4L117.3 328.6M117.3 323.4L111.3 328.6M157.8 314.3L163.8 319.5M163.8 314.3L157.8 319.5M229.7 297.7L235.7 302.9M235.7 297.7L229.7 302.9M253.9 301.6L259.9 306.8M259.9 301.6L253.9 306.8M246.2 320.4L252.2 325.6M252.2 320.4L246.2 325.6M274.4 370.4L280.4 375.6M280.4 370.4L274.4 375.6M330.9 343.6L336.9 348.8M336.9 343.6L330.9 348.8M362.5 379.1L368.5 384.3M368.5 379.1L362.5 384.3M343.3 315.8L349.3 321M349.3 315.8L343.3 321M341 315.4L347 320.6M347 315.4L341 320.6M426.4 413.3L432.4 418.5M432.4 413.3L426.4 418.5M455.7 373.2L461.7 378.4M461.7 373.2L455.7 378.4M455 372.7L461 377.9M461 372.7L455 377.9M466.9 374.6L472.9 379.8M472.9 374.6L466.9 379.8M471.3 373.5L477.3 378.7M477.3 373.5L471.3 378.7M475.7 374.6L481.7 379.8M481.7 374.6L475.7 379.8M480.5 372L486.5 377.2M486.5 372L480.5 377.2M485.9 375.6L491.9 380.8M491.9 375.6L485.9 380.8M502 385.9L508 391.1M508 385.9L502 391.1M501.5 385.2L507.5 390.4M507.5 385.2L501.5 390.4M507.8 411.4L513.8 416.6M513.8 411.4L507.8 416.6M553 415.1L559 420.3M559 415.1L553 420.3M576.8 415.4L582.8 420.6M582.8 415.4L576.8 420.6M576.8 417.3L582.8 422.5M582.8 417.3L576.8 422.5M629.5 423.2L635.5 428.4M635.5 423.2L629.5 428.4M632.5 423.2L638.5 428.4M638.5 423.2L632.5 428.4M635.5 423.2L641.5 428.4M641.5 423.2L635.5 428.4M630 425.9L636 431.1M636 425.9L630 431.1M633.5 425.9L639.5 431.1M639.5 425.9L633.5 431.1M634 428.4L640 433.6M640 428.4L634 433.6M648.1 426.5L654.1 431.7M654.1 426.5L648.1 431.7M231.9 284L237.9 289.2M237.9 284L231.9 289.2M235.3 284L241.3 289.2M241.3 284L235.3 289.2M238.9 283.3L244.9 288.5M244.9 283.3L238.9 288.5M241.6 284L247.6 289.2M247.6 284L241.6 289.2M245.2 283.3L251.2 288.5M251.2 283.3L245.2 288.5M249.3 283.4L255.3 288.6M255.3 283.4L249.3 288.6M252.5 283.3L258.5 288.5M258.5 283.3L252.5 288.5M255.3 283.1L261.3 288.3M261.3 283.1L255.3 288.3M258.6 284.1L264.6 289.3M264.6 284.1L258.6 289.3M261.8 284.3L267.8 289.5M267.8 284.3L261.8 289.5M265.3 283.9L271.3 289.1M271.3 283.9L265.3 289.1M268.5 284.8L274.5 290M274.5 284.8L268.5 290M271.3 284.9L277.3 290.1M277.3 284.9L271.3 290.1M275.2 285.9L281.2 291.1M281.2 285.9L275.2 291.1M278.6 286.9L284.6 292.1M284.6 286.9L278.6 292.1M282.1 287.4L288.1 292.6M288.1 287.4L282.1 292.6M281.3 286.6L287.3 291.8M287.3 286.6L281.3 291.8M281.3 289.9L287.3 295.1M287.3 289.9L281.3 295.1M281.8 292.2L287.8 297.4M287.8 292.2L281.8 297.4M285.3 296.5L291.3 301.7M291.3 296.5L285.3 301.7M289.4 296.7L295.4 301.9M295.4 296.7L289.4 301.9M292.4 296.6L298.4 301.8M298.4 296.6L292.4 301.8M295.6 296.7L301.6 301.9M301.6 296.7L295.6 301.9M298.7 296.9L304.7 302.1M304.7 296.9L298.7 302.1M298 296.1L304 301.3M304 296.1L298 301.3M298.1 299.1L304.1 304.3M304.1 299.1L298.1 304.3M302.6 303.7L308.6 308.9M308.6 303.7L302.6 308.9M307 304L313 309.2M313 304L307 309.2M309.5 305.9L315.5 311.1M315.5 305.9L309.5 311.1M311.8 307.8L317.8 313M317.8 307.8L311.8 313M312 308.3L318 313.5M318 308.3L312 313.5M312.1 311.5L318.1 316.7M318.1 311.5L312.1 316.7M311.2 310.5L317.2 315.7M317.2 310.5L311.2 315.7M308 312.4L314 317.6M314 312.4L308 317.6M304.1 313L310.1 318.2M310.1 313L304.1 318.2M301.3 313.1L307.3 318.3M307.3 313.1L301.3 318.3M299.7 313.7L305.7 318.9M305.7 313.7L299.7 318.9M297.5 312L303.5 317.2M303.5 312L297.5 317.2M294.4 311L300.4 316.2M300.4 311L294.4 316.2M291.2 310L297.2 315.2M297.2 310L291.2 315.2M287.3 309.1L293.3 314.3M293.3 309.1L287.3 314.3M283.2 307.7L289.2 312.9M289.2 307.7L283.2 312.9M280 305.9L286 311.1M286 305.9L280 311.1M277.2 304.9L283.2 310.1M283.2 304.9L277.2 310.1M273.9 304.3L279.9 309.5M279.9 304.3L273.9 309.5M271.4 302.9L277.4 308.1M277.4 302.9L271.4 308.1M267.9 302.5L273.9 307.7M273.9 302.5L267.9 307.7M265.2 301.5L271.2 306.7M271.2 301.5L265.2 306.7M263 299.7L269 304.9M269 299.7L263 304.9M259.4 298.3L265.4 303.5M265.4 298.3L259.4 303.5M256.5 296.9L262.5 302.1M262.5 296.9L256.5 302.1M252.3 295.6L258.3 300.8M258.3 295.6L252.3 300.8M248.9 294.7L254.9 299.9M254.9 294.7L248.9 299.9M245.1 294.1L251.1 299.3M251.1 294.1L245.1 299.3M241.8 292.7L247.8 297.9M247.8 292.7L241.8 297.9M240.6 292L246.6 297.2M246.6 292L240.6 297.2M237.8 289.7L243.8 294.9M243.8 289.7L237.8 294.9M233.6 288.2L239.6 293.4M239.6 288.2L233.6 293.4M232.5 287.7L238.5 292.9M238.5 287.7L232.5 292.9M233.1 283L239.1 288.2M239.1 283L233.1 288.2M320 311L326 316.2M326 311L320 316.2M323.8 310.9L329.8 316.1M329.8 310.9L323.8 316.1M327.6 311.2L333.6 316.4M333.6 311.2L327.6 316.4M330.6 310.6L336.6 315.8M336.6 310.6L330.6 315.8M330.6 310.4L336.6 315.6M336.6 310.4L330.6 315.6M330.2 312.9L336.2 318.1M336.2 312.9L330.2 318.1M330.5 315.7L336.5 320.9M336.5 315.7L330.5 320.9M331 314.6L337 319.8M337 314.6L331 319.8M327.2 314.9L333.2 320.1M333.2 314.9L327.2 320.1M323.4 314.7L329.4 319.9M329.4 314.7L323.4 319.9M320.1 314.3L326.1 319.5M326.1 314.3L320.1 319.5M320.7 316.1L326.7 321.3M326.7 316.1L320.7 321.3M320.4 312.6L326.4 317.8M326.4 312.6L320.4 317.8M320.9 309.6L326.9 314.8M326.9 309.6L320.9 314.8M340.4 315.7L346.4 320.9M346.4 315.7L340.4 320.9M343.8 315.4L349.8 320.6M349.8 315.4L343.8 320.6M346.4 315.6L352.4 320.8M352.4 315.6L346.4 320.8M345.7 314.7L351.7 319.9M351.7 314.7L345.7 319.9M345.8 317.7L351.8 322.9M351.8 317.7L345.8 322.9M346.4 317.2L352.4 322.4M352.4 317.2L346.4 322.4M344 317L350 322.2M350 317L344 322.2M340.4 316.6L346.4 321.8M346.4 316.6L340.4 321.8M341.8 317.7L347.8 322.9M347.8 317.7L341.8 322.9M342.1 315.1L348.1 320.3M348.1 315.1L342.1 320.3"/>
<path fill="#000" d="M238 68.5L250 66.8L262.5 66.8L263 77.5L257 77.5L252 73.5L242 75L237.5 73ZM283 70L287.5 70.5L288.5 80L295 82L295.5 87L290 87.5L287 82L283.5 79ZM278 70.5L281.5 70.5L281.5 74.5L278 74.5ZM287.5 93L292 92.5L292 97L287.5 97ZM311 94.5L323 94L323.5 99.5L311 100ZM342.5 100L350.5 100L350.5 103.5L342.5 103.5ZM265 71L269 71L269 79L265 79Z"/>
<path fill="none" stroke="#000" stroke-width="1.6" d="M58.5 99a2.1 2.1 0 1 0 4.3 0a2.1 2.1 0 1 0 -4.3 0M104.4 100.1a2.1 2.1 0 1 0 4.3 0a2.1 2.1 0 1 0 -4.3 0M112.4 108.2a2.1 2.1 0 1 0 4.3 0a2.1 2.1 0 1 0 -4.3 0M101.3 112.1a2.1 2.1 0 1 0 4.3 0a2.1 2.1 0 1 0 -4.3 0M159.7 99.5a2.1 2.1 0 1 0 4.3 0a2.1 2.1 0 1 0 -4.3 0M221.2 97.7a2.1 2.1 0 1 0 4.3 0a2.1 2.1 0 1 0 -4.3 0M220.9 99.5a2.1 2.1 0 1 0 4.3 0a2.1 2.1 0 1 0 -4.3 0M247 106.4a2.1 2.1 0 1 0 4.3 0a2.1 2.1 0 1 0 -4.3 0M276 154.4a2.1 2.1 0 1 0 4.3 0a2.1 2.1 0 1 0 -4.3 0M332.2 127.7a2.1 2.1 0 1 0 4.3 0a2.1 2.1 0 1 0 -4.3 0M363.7 162.4a2.1 2.1 0 1 0 4.3 0a2.1 2.1 0 1 0 -4.3 0M429 195.2a2.1 2.1 0 1 0 4.3 0a2.1 2.1 0 1 0 -4.3 0M455.4 156.6a2.1 2.1 0 1 0 4.3 0a2.1 2.1 0 1 0 -4.3 0M458.8 156.3a2.1 2.1 0 1 0 4.3 0a2.1 2.1 0 1 0 -4.3 0M467.8 157.4a2.1 2.1 0 1 0 4.3 0a2.1 2.1 0 1 0 -4.3 0M472.9 156.3a2.1 2.1 0 1 0 4.3 0a2.1 2.1 0 1 0 -4.3 0M479.1 158.5a2.1 2.1 0 1 0 4.3 0a2.1 2.1 0 1 0 -4.3 0M482.4 154.8a2.1 2.1 0 1 0 4.3 0a2.1 2.1 0 1 0 -4.3 0M487.2 158a2.1 2.1 0 1 0 4.3 0a2.1 2.1 0 1 0 -4.3 0M503.6 168.4a2.1 2.1 0 1 0 4.3 0a2.1 2.1 0 1 0 -4.3 0M503.1 168.8a2.1 2.1 0 1 0 4.3 0a2.1 2.1 0 1 0 -4.3 0M504.1 168a2.1 2.1 0 1 0 4.3 0a2.1 2.1 0 1 0 -4.3 0M508.7 193.1a2.1 2.1 0 1 0 4.3 0a2.1 2.1 0 1 0 -4.3 0M554.5 197.2a2.1 2.1 0 1 0 4.3 0a2.1 2.1 0 1 0 -4.3 0M578.5 197.2a2.1 2.1 0 1 0 4.3 0a2.1 2.1 0 1 0 -4.3 0M579.1 197.5a2.1 2.1 0 1 0 4.3 0a2.1 2.1 0 1 0 -4.3 0M630.9 205.3a2.1 2.1 0 1 0 4.3 0a2.1 2.1 0 1 0 -4.3 0M634.6 204.8a2.1 2.1 0 1 0 4.3 0a2.1 2.1 0 1 0 -4.3 0M636.6 207.2a2.1 2.1 0 1 0 4.3 0a2.1 2.1 0 1 0 -4.3 0M649.4 207.2a2.1 2.1 0 1 0 4.3 0a2.1 2.1 0 1 0 -4.3 0M346.1 102.2a2.1 2.1 0 1 0 4.3 0a2.1 2.1 0 1 0 -4.3 0M331 100.9a2.1 2.1 0 1 0 4.3 0a2.1 2.1 0 1 0 -4.3 0M291.5 95.7a2.1 2.1 0 1 0 4.3 0a2.1 2.1 0 1 0 -4.3 0M277.2 93.3a2.1 2.1 0 1 0 4.3 0a2.1 2.1 0 1 0 -4.3 0M231.2 84.1a2.1 2.1 0 1 0 4.3 0a2.1 2.1 0 1 0 -4.3 0M243.4 80.5a2.1 2.1 0 1 0 4.3 0a2.1 2.1 0 1 0 -4.3 0M255.2 90.2a2.1 2.1 0 1 0 4.3 0a2.1 2.1 0 1 0 -4.3 0M241.2 69.9a2.1 2.1 0 1 0 4.3 0a2.1 2.1 0 1 0 -4.3 0M283.4 75a2.1 2.1 0 1 0 4.3 0a2.1 2.1 0 1 0 -4.3 0M283.9 78a2.1 2.1 0 1 0 4.3 0a2.1 2.1 0 1 0 -4.3 0M289.9 84a2.1 2.1 0 1 0 4.3 0a2.1 2.1 0 1 0 -4.3 0M276.7 92.5a2.1 2.1 0 1 0 4.3 0a2.1 2.1 0 1 0 -4.3 0M307.4 100a2.1 2.1 0 1 0 4.3 0a2.1 2.1 0 1 0 -4.3 0M312.6 96.8a2.1 2.1 0 1 0 4.3 0a2.1 2.1 0 1 0 -4.3 0M322.1 98.6a2.1 2.1 0 1 0 4.3 0a2.1 2.1 0 1 0 -4.3 0M251.8 70.9a2.1 2.1 0 1 0 4.3 0a2.1 2.1 0 1 0 -4.3 0M255.3 71.4a2.1 2.1 0 1 0 4.3 0a2.1 2.1 0 1 0 -4.3 0M254.1 71.3a2.1 2.1 0 1 0 4.3 0a2.1 2.1 0 1 0 -4.3 0M239.9 70.2a2.1 2.1 0 1 0 4.3 0a2.1 2.1 0 1 0 -4.3 0M258.2 70.6a2.1 2.1 0 1 0 4.3 0a2.1 2.1 0 1 0 -4.3 0M257.4 69.3a2.1 2.1 0 1 0 4.3 0a2.1 2.1 0 1 0 -4.3 0M248.7 69.6a2.1 2.1 0 1 0 4.3 0a2.1 2.1 0 1 0 -4.3 0M250.2 70.4a2.1 2.1 0 1 0 4.3 0a2.1 2.1 0 1 0 -4.3 0M239.6 69.5a2.1 2.1 0 1 0 4.3 0a2.1 2.1 0 1 0 -4.3 0M244.9 71.3a2.1 2.1 0 1 0 4.3 0a2.1 2.1 0 1 0 -4.3 0M254.7 69.4a2.1 2.1 0 1 0 4.3 0a2.1 2.1 0 1 0 -4.3 0M255.3 69.3a2.1 2.1 0 1 0 4.3 0a2.1 2.1 0 1 0 -4.3 0M251.7 69.3a2.1 2.1 0 1 0 4.3 0a2.1 2.1 0 1 0 -4.3 0M239.4 71.2a2.1 2.1 0 1 0 4.3 0a2.1 2.1 0 1 0 -4.3 0M243.5 69.5a2.1 2.1 0 1 0 4.3 0a2.1 2.1 0 1 0 -4.3 0M259 71.2a2.1 2.1 0 1 0 4.3 0a2.1 2.1 0 1 0 -4.3 0M245.1 71.4a2.1 2.1 0 1 0 4.3 0a2.1 2.1 0 1 0 -4.3 0M250.1 70.7a2.1 2.1 0 1 0 4.3 0a2.1 2.1 0 1 0 -4.3 0M243.4 71.4a2.1 2.1 0 1 0 4.3 0a2.1 2.1 0 1 0 -4.3 0M253.2 71.4a2.1 2.1 0 1 0 4.3 0a2.1 2.1 0 1 0 -4.3 0M257.2 69.7a2.1 2.1 0 1 0 4.3 0a2.1 2.1 0 1 0 -4.3 0M246.6 69.4a2.1 2.1 0 1 0 4.3 0a2.1 2.1 0 1 0 -4.3 0M242.3 69.2a2.1 2.1 0 1 0 4.3 0a2.1 2.1 0 1 0 -4.3 0M245.4 70.5a2.1 2.1 0 1 0 4.3 0a2.1 2.1 0 1 0 -4.3 0M239.4 70.7a2.1 2.1 0 1 0 4.3 0a2.1 2.1 0 1 0 -4.3 0M246.1 69.8a2.1 2.1 0 1 0 4.3 0a2.1 2.1 0 1 0 -4.3 0M255.7 70.2a2.1 2.1 0 1 0 4.3 0a2.1 2.1 0 1 0 -4.3 0M245.7 70.2a2.1 2.1 0 1 0 4.3 0a2.1 2.1 0 1 0 -4.3 0M253.4 69.1a2.1 2.1 0 1 0 4.3 0a2.1 2.1 0 1 0 -4.3 0M258.9 69.1a2.1 2.1 0 1 0 4.3 0a2.1 2.1 0 1 0 -4.3 0M254.3 71.1a2.1 2.1 0 1 0 4.3 0a2.1 2.1 0 1 0 -4.3 0M239.7 71a2.1 2.1 0 1 0 4.3 0a2.1 2.1 0 1 0 -4.3 0M246.7 70.4a2.1 2.1 0 1 0 4.3 0a2.1 2.1 0 1 0 -4.3 0M239.5 69.1a2.1 2.1 0 1 0 4.3 0a2.1 2.1 0 1 0 -4.3 0M256.1 76.3a2.1 2.1 0 1 0 4.3 0a2.1 2.1 0 1 0 -4.3 0M256.1 75.2a2.1 2.1 0 1 0 4.3 0a2.1 2.1 0 1 0 -4.3 0M259.1 76.2a2.1 2.1 0 1 0 4.3 0a2.1 2.1 0 1 0 -4.3 0M256.7 73a2.1 2.1 0 1 0 4.3 0a2.1 2.1 0 1 0 -4.3 0M257.4 75.3a2.1 2.1 0 1 0 4.3 0a2.1 2.1 0 1 0 -4.3 0M255.8 75.1a2.1 2.1 0 1 0 4.3 0a2.1 2.1 0 1 0 -4.3 0M258.5 75.7a2.1 2.1 0 1 0 4.3 0a2.1 2.1 0 1 0 -4.3 0M255.5 76.2a2.1 2.1 0 1 0 4.3 0a2.1 2.1 0 1 0 -4.3 0M255.7 72.9a2.1 2.1 0 1 0 4.3 0a2.1 2.1 0 1 0 -4.3 0M257.8 76a2.1 2.1 0 1 0 4.3 0a2.1 2.1 0 1 0 -4.3 0M256.7 76.1a2.1 2.1 0 1 0 4.3 0a2.1 2.1 0 1 0 -4.3 0M257.5 72.7a2.1 2.1 0 1 0 4.3 0a2.1 2.1 0 1 0 -4.3 0M282.1 72.4a2.1 2.1 0 1 0 4.3 0a2.1 2.1 0 1 0 -4.3 0M281.2 72.2a2.1 2.1 0 1 0 4.3 0a2.1 2.1 0 1 0 -4.3 0M283.6 79a2.1 2.1 0 1 0 4.3 0a2.1 2.1 0 1 0 -4.3 0M281.5 71.4a2.1 2.1 0 1 0 4.3 0a2.1 2.1 0 1 0 -4.3 0M284.8 75.3a2.1 2.1 0 1 0 4.3 0a2.1 2.1 0 1 0 -4.3 0M282.5 72.9a2.1 2.1 0 1 0 4.3 0a2.1 2.1 0 1 0 -4.3 0M283.2 77.6a2.1 2.1 0 1 0 4.3 0a2.1 2.1 0 1 0 -4.3 0M282.7 74.4a2.1 2.1 0 1 0 4.3 0a2.1 2.1 0 1 0 -4.3 0M276.5 73.7a2.1 2.1 0 1 0 4.3 0a2.1 2.1 0 1 0 -4.3 0M276.4 72.5a2.1 2.1 0 1 0 4.3 0a2.1 2.1 0 1 0 -4.3 0M278.4 71.4a2.1 2.1 0 1 0 4.3 0a2.1 2.1 0 1 0 -4.3 0M278.2 73.8a2.1 2.1 0 1 0 4.3 0a2.1 2.1 0 1 0 -4.3 0M242.8 79.2a2.1 2.1 0 1 0 4.3 0a2.1 2.1 0 1 0 -4.3 0M242 77.7a2.1 2.1 0 1 0 4.3 0a2.1 2.1 0 1 0 -4.3 0M242.1 79.4a2.1 2.1 0 1 0 4.3 0a2.1 2.1 0 1 0 -4.3 0M242.3 77.8a2.1 2.1 0 1 0 4.3 0a2.1 2.1 0 1 0 -4.3 0M291.8 85.6a2.1 2.1 0 1 0 4.3 0a2.1 2.1 0 1 0 -4.3 0M291.7 84.4a2.1 2.1 0 1 0 4.3 0a2.1 2.1 0 1 0 -4.3 0M289.3 85.2a2.1 2.1 0 1 0 4.3 0a2.1 2.1 0 1 0 -4.3 0M289.2 83.9a2.1 2.1 0 1 0 4.3 0a2.1 2.1 0 1 0 -4.3 0M288.9 83.4a2.1 2.1 0 1 0 4.3 0a2.1 2.1 0 1 0 -4.3 0M313.9 99.5a2.1 2.1 0 1 0 4.3 0a2.1 2.1 0 1 0 -4.3 0M318.5 98.2a2.1 2.1 0 1 0 4.3 0a2.1 2.1 0 1 0 -4.3 0M314.8 97.2a2.1 2.1 0 1 0 4.3 0a2.1 2.1 0 1 0 -4.3 0M311.6 97a2.1 2.1 0 1 0 4.3 0a2.1 2.1 0 1 0 -4.3 0M317.1 99a2.1 2.1 0 1 0 4.3 0a2.1 2.1 0 1 0 -4.3 0M313.7 98.8a2.1 2.1 0 1 0 4.3 0a2.1 2.1 0 1 0 -4.3 0M317 98.4a2.1 2.1 0 1 0 4.3 0a2.1 2.1 0 1 0 -4.3 0M316.2 98.7a2.1 2.1 0 1 0 4.3 0a2.1 2.1 0 1 0 -4.3 0M342.7 101.9a2.1 2.1 0 1 0 4.3 0a2.1 2.1 0 1 0 -4.3 0M342.3 101.5a2.1 2.1 0 1 0 4.3 0a2.1 2.1 0 1 0 -4.3 0M344.7 101.9a2.1 2.1 0 1 0 4.3 0a2.1 2.1 0 1 0 -4.3 0M342.3 102.4a2.1 2.1 0 1 0 4.3 0a2.1 2.1 0 1 0 -4.3 0M303.7 95.7a2.1 2.1 0 1 0 4.3 0a2.1 2.1 0 1 0 -4.3 0M299.9 95.6a2.1 2.1 0 1 0 4.3 0a2.1 2.1 0 1 0 -4.3 0M301.4 96a2.1 2.1 0 1 0 4.3 0a2.1 2.1 0 1 0 -4.3 0M302.6 96.5a2.1 2.1 0 1 0 4.3 0a2.1 2.1 0 1 0 -4.3 0M284.1 78.8a2.1 2.1 0 1 0 4.3 0a2.1 2.1 0 1 0 -4.3 0M283.5 77.9a2.1 2.1 0 1 0 4.3 0a2.1 2.1 0 1 0 -4.3 0M284.3 79a2.1 2.1 0 1 0 4.3 0a2.1 2.1 0 1 0 -4.3 0M283.6 79.1a2.1 2.1 0 1 0 4.3 0a2.1 2.1 0 1 0 -4.3 0M290.6 83.2a2.1 2.1 0 1 0 4.3 0a2.1 2.1 0 1 0 -4.3 0M308.3 84.5a2.1 2.1 0 1 0 4.3 0a2.1 2.1 0 1 0 -4.3 0M277.4 73.4a2.1 2.1 0 1 0 4.3 0a2.1 2.1 0 1 0 -4.3 0M226.2 78.8a2.1 2.1 0 1 0 4.3 0a2.1 2.1 0 1 0 -4.3 0M327.6 93.5a2.1 2.1 0 1 0 4.3 0a2.1 2.1 0 1 0 -4.3 0M315.1 88.6a2.1 2.1 0 1 0 4.3 0a2.1 2.1 0 1 0 -4.3 0M229.3 77.2a2.1 2.1 0 1 0 4.3 0a2.1 2.1 0 1 0 -4.3 0M272.1 86.1a2.1 2.1 0 1 0 4.3 0a2.1 2.1 0 1 0 -4.3 0M260.8 83.4a2.1 2.1 0 1 0 4.3 0a2.1 2.1 0 1 0 -4.3 0M302.8 94.5a2.1 2.1 0 1 0 4.3 0a2.1 2.1 0 1 0 -4.3 0M285.1 93.2a2.1 2.1 0 1 0 4.3 0a2.1 2.1 0 1 0 -4.3 0M238.3 83.1a2.1 2.1 0 1 0 4.3 0a2.1 2.1 0 1 0 -4.3 0M267.6 78.6a2.1 2.1 0 1 0 4.3 0a2.1 2.1 0 1 0 -4.3 0M271.9 79.4a2.1 2.1 0 1 0 4.3 0a2.1 2.1 0 1 0 -4.3 0M276.4 83.7a2.1 2.1 0 1 0 4.3 0a2.1 2.1 0 1 0 -4.3 0M282 93.9a2.1 2.1 0 1 0 4.3 0a2.1 2.1 0 1 0 -4.3 0M248.5 88.4a2.1 2.1 0 1 0 4.3 0a2.1 2.1 0 1 0 -4.3 0M282.6 88.9a2.1 2.1 0 1 0 4.3 0a2.1 2.1 0 1 0 -4.3 0M244.3 70.8a2.1 2.1 0 1 0 4.3 0a2.1 2.1 0 1 0 -4.3 0M261.2 87.9a2.1 2.1 0 1 0 4.3 0a2.1 2.1 0 1 0 -4.3 0M305.1 79a2.1 2.1 0 1 0 4.3 0a2.1 2.1 0 1 0 -4.3 0M295.6 91a2.1 2.1 0 1 0 4.3 0a2.1 2.1 0 1 0 -4.3 0M323.9 87.6a2.1 2.1 0 1 0 4.3 0a2.1 2.1 0 1 0 -4.3 0M315.9 83.6a2.1 2.1 0 1 0 4.3 0a2.1 2.1 0 1 0 -4.3 0M264.2 73.9a2.1 2.1 0 1 0 4.3 0a2.1 2.1 0 1 0 -4.3 0M304.8 83.3a2.1 2.1 0 1 0 4.3 0a2.1 2.1 0 1 0 -4.3 0M252.2 75.6a2.1 2.1 0 1 0 4.3 0a2.1 2.1 0 1 0 -4.3 0M268.6 70.8a2.1 2.1 0 1 0 4.3 0a2.1 2.1 0 1 0 -4.3 0M232.9 77.5a2.1 2.1 0 1 0 4.3 0a2.1 2.1 0 1 0 -4.3 0M301.9 83.2a2.1 2.1 0 1 0 4.3 0a2.1 2.1 0 1 0 -4.3 0M279.5 93.1a2.1 2.1 0 1 0 4.3 0a2.1 2.1 0 1 0 -4.3 0M228.7 72.5a2.1 2.1 0 1 0 4.3 0a2.1 2.1 0 1 0 -4.3 0M311.4 95.8a2.1 2.1 0 1 0 4.3 0a2.1 2.1 0 1 0 -4.3 0M315.8 88.1a2.1 2.1 0 1 0 4.3 0a2.1 2.1 0 1 0 -4.3 0M269.3 87.2a2.1 2.1 0 1 0 4.3 0a2.1 2.1 0 1 0 -4.3 0M280.4 75a2.1 2.1 0 1 0 4.3 0a2.1 2.1 0 1 0 -4.3 0M291.5 98.1a2.1 2.1 0 1 0 4.3 0a2.1 2.1 0 1 0 -4.3 0M285.5 74.3a2.1 2.1 0 1 0 4.3 0a2.1 2.1 0 1 0 -4.3 0M228.4 81.9a2.1 2.1 0 1 0 4.3 0a2.1 2.1 0 1 0 -4.3 0M280.8 77a2.1 2.1 0 1 0 4.3 0a2.1 2.1 0 1 0 -4.3 0M276.2 72.8a2.1 2.1 0 1 0 4.3 0a2.1 2.1 0 1 0 -4.3 0M242.8 71.4a2.1 2.1 0 1 0 4.3 0a2.1 2.1 0 1 0 -4.3 0M264.4 92.4a2.1 2.1 0 1 0 4.3 0a2.1 2.1 0 1 0 -4.3 0M304.8 95.6a2.1 2.1 0 1 0 4.3 0a2.1 2.1 0 1 0 -4.3 0M226.6 82.6a2.1 2.1 0 1 0 4.3 0a2.1 2.1 0 1 0 -4.3 0M251.6 91.9a2.1 2.1 0 1 0 4.3 0a2.1 2.1 0 1 0 -4.3 0M265.5 76.4a2.1 2.1 0 1 0 4.3 0a2.1 2.1 0 1 0 -4.3 0M277.2 86a2.1 2.1 0 1 0 4.3 0a2.1 2.1 0 1 0 -4.3 0M287.2 84.3a2.1 2.1 0 1 0 4.3 0a2.1 2.1 0 1 0 -4.3 0M257.5 92a2.1 2.1 0 1 0 4.3 0a2.1 2.1 0 1 0 -4.3 0M279.5 86.4a2.1 2.1 0 1 0 4.3 0a2.1 2.1 0 1 0 -4.3 0M303.4 81.9a2.1 2.1 0 1 0 4.3 0a2.1 2.1 0 1 0 -4.3 0M291.6 81.7a2.1 2.1 0 1 0 4.3 0a2.1 2.1 0 1 0 -4.3 0M278.6 79.6a2.1 2.1 0 1 0 4.3 0a2.1 2.1 0 1 0 -4.3 0M266.8 73a2.1 2.1 0 1 0 4.3 0a2.1 2.1 0 1 0 -4.3 0M230.8 81.4a2.1 2.1 0 1 0 4.3 0a2.1 2.1 0 1 0 -4.3 0M251 92.2a2.1 2.1 0 1 0 4.3 0a2.1 2.1 0 1 0 -4.3 0M309.2 93a2.1 2.1 0 1 0 4.3 0a2.1 2.1 0 1 0 -4.3 0M272.4 73.5a2.1 2.1 0 1 0 4.3 0a2.1 2.1 0 1 0 -4.3 0M265.2 83.5a2.1 2.1 0 1 0 4.3 0a2.1 2.1 0 1 0 -4.3 0M234.6 83.2a2.1 2.1 0 1 0 4.3 0a2.1 2.1 0 1 0 -4.3 0M276 92.7a2.1 2.1 0 1 0 4.3 0a2.1 2.1 0 1 0 -4.3 0M316.7 95.2a2.1 2.1 0 1 0 4.3 0a2.1 2.1 0 1 0 -4.3 0M289.8 94.3a2.1 2.1 0 1 0 4.3 0a2.1 2.1 0 1 0 -4.3 0M297.2 91.3a2.1 2.1 0 1 0 4.3 0a2.1 2.1 0 1 0 -4.3 0M265.2 88.6a2.1 2.1 0 1 0 4.3 0a2.1 2.1 0 1 0 -4.3 0M257.7 76.5a2.1 2.1 0 1 0 4.3 0a2.1 2.1 0 1 0 -4.3 0M265.8 69.8a2.1 2.1 0 1 0 4.3 0a2.1 2.1 0 1 0 -4.3 0M301.6 82.5a2.1 2.1 0 1 0 4.3 0a2.1 2.1 0 1 0 -4.3 0M260 89.7a2.1 2.1 0 1 0 4.3 0a2.1 2.1 0 1 0 -4.3 0"/>
<path fill="none" stroke="#f00" stroke-width="1.4" d="M63.5 30.7h5.4v5.4h-5.4zM121.6 19h5.4v5.4h-5.4zM190.5 23.4h5.4v5.4h-5.4zM88 49.8h5.4v5.4h-5.4zM127.7 62.7h5.4v5.4h-5.4zM209.9 81.6h5.4v5.4h-5.4zM108.3 85h5.4v5.4h-5.4zM68.7 87.8h5.4v5.4h-5.4zM73.1 87.8h5.4v5.4h-5.4zM56.8 91.2h5.4v5.4h-5.4zM100.1 94.8h5.4v5.4h-5.4zM159.5 98.9h5.4v5.4h-5.4zM204.3 97.8h5.4v5.4h-5.4zM210.3 98.6h5.4v5.4h-5.4zM215.1 96.8h5.4v5.4h-5.4zM219.3 96.1h5.4v5.4h-5.4zM173.6 107.6h5.4v5.4h-5.4zM130.5 112h5.4v5.4h-5.4zM127.9 118.5h5.4v5.4h-5.4zM107.4 116h5.4v5.4h-5.4zM117.6 123.3h5.4v5.4h-5.4zM95.9 122.1h5.4v5.4h-5.4zM98.5 122.1h5.4v5.4h-5.4zM215.1 113h5.4v5.4h-5.4zM184.9 133.1h5.4v5.4h-5.4zM208.5 143.9h5.4v5.4h-5.4zM472.8 21.7h5.4v5.4h-5.4zM224.7 37.5h5.4v5.4h-5.4zM225.8 42.8h5.4v5.4h-5.4zM233 49.9h5.4v5.4h-5.4zM218.5 57.2h5.4v5.4h-5.4zM234 65.7h5.4v5.4h-5.4zM258.5 10.9h5.4v5.4h-5.4zM252.6 24.4h5.4v5.4h-5.4zM302.3 17.5h5.4v5.4h-5.4zM311.5 27.3h5.4v5.4h-5.4zM326.3 39.7h5.4v5.4h-5.4zM248.3 51.5h5.4v5.4h-5.4zM246.8 60.3h5.4v5.4h-5.4zM257.7 57.7h5.4v5.4h-5.4zM267.2 59.1h5.4v5.4h-5.4zM279.9 55.9h5.4v5.4h-5.4zM300.4 55.9h5.4v5.4h-5.4zM300.4 58.1h5.4v5.4h-5.4zM326.6 62h5.4v5.4h-5.4zM286.9 62.8h5.4v5.4h-5.4zM305.2 62.8h5.4v5.4h-5.4zM311.8 65.4h5.4v5.4h-5.4zM382.9 50.8h5.4v5.4h-5.4zM402.3 56.2h5.4v5.4h-5.4zM367.9 75.2h5.4v5.4h-5.4zM409.4 77.3h5.4v5.4h-5.4zM412.6 96.9h5.4v5.4h-5.4zM403.5 99.7h5.4v5.4h-5.4zM393.3 104.5h5.4v5.4h-5.4zM399.7 113.7h5.4v5.4h-5.4zM400.3 114.6h5.4v5.4h-5.4zM454.3 96.9h5.4v5.4h-5.4zM458.4 110.1h5.4v5.4h-5.4zM464 107h5.4v5.4h-5.4zM471.8 112.8h5.4v5.4h-5.4zM501.2 137.8h5.4v5.4h-5.4zM507.4 154.3h5.4v5.4h-5.4zM477 147.7h5.4v5.4h-5.4zM439.2 157h5.4v5.4h-5.4zM442.1 163.2h5.4v5.4h-5.4zM393.9 147.7h5.4v5.4h-5.4zM397.2 154.1h5.4v5.4h-5.4zM435.9 200.9h5.4v5.4h-5.4zM564 140.7h5.4v5.4h-5.4zM540.3 153.9h5.4v5.4h-5.4zM542.3 153.9h5.4v5.4h-5.4zM570.8 170.3h5.4v5.4h-5.4zM620.3 77.4h5.4v5.4h-5.4zM568.6 97.1h5.4v5.4h-5.4zM313.2 71.5h5.4v5.4h-5.4zM326.9 73.9h5.4v5.4h-5.4zM329.2 76.3h5.4v5.4h-5.4zM312 78.1h5.4v5.4h-5.4zM320.3 79.8h5.4v5.4h-5.4zM359.5 80.4h5.4v5.4h-5.4zM339.3 85.2h5.4v5.4h-5.4zM347 86.4h5.4v5.4h-5.4zM362.5 88.7h5.4v5.4h-5.4zM365.4 91.7h5.4v5.4h-5.4zM358.3 92.9h5.4v5.4h-5.4zM365.4 97h5.4v5.4h-5.4zM329.2 89.9h5.4v5.4h-5.4zM319.2 91.1h5.4v5.4h-5.4zM316.2 104.2h5.4v5.4h-5.4zM323.3 110.7h5.4v5.4h-5.4zM310.9 114.2h5.4v5.4h-5.4zM337 101.2h5.4v5.4h-5.4zM344.1 106.5h5.4v5.4h-5.4zM352.4 107.1h5.4v5.4h-5.4zM358.9 104.7h5.4v5.4h-5.4zM364.2 115.4h5.4v5.4h-5.4zM341.7 92.9h5.4v5.4h-5.4zM335.8 95.3h5.4v5.4h-5.4zM321.5 96.4h5.4v5.4h-5.4zM326.3 96.4h5.4v5.4h-5.4zM308.5 92.9h5.4v5.4h-5.4zM304.6 117h5.4v5.4h-5.4zM311.2 115.5h5.4v5.4h-5.4zM298 133.5h5.4v5.4h-5.4zM352.8 108.7h5.4v5.4h-5.4zM365.5 97.3h5.4v5.4h-5.4zM230.8 100.6h5.4v5.4h-5.4zM253 102.8h5.4v5.4h-5.4zM258 101.5h5.4v5.4h-5.4zM258 98.9h5.4v5.4h-5.4zM271.2 100.8h5.4v5.4h-5.4zM281.7 100.2h5.4v5.4h-5.4zM283 110h5.4v5.4h-5.4zM298.8 98.2h5.4v5.4h-5.4zM263.6 121.2h5.4v5.4h-5.4zM260.4 131.7h5.4v5.4h-5.4zM281.6 63.2h5.4v5.4h-5.4zM291.9 67.1h5.4v5.4h-5.4zM269.7 66.6h5.4v5.4h-5.4zM301.8 72.6h5.4v5.4h-5.4zM288.5 72.6h5.4v5.4h-5.4zM320.6 90.3h5.4v5.4h-5.4zM315.7 95.8h5.4v5.4h-5.4zM248.1 52.8h5.4v5.4h-5.4zM255.7 62h5.4v5.4h-5.4zM262.3 62.5h5.4v5.4h-5.4zM280.7 62.5h5.4v5.4h-5.4zM249.6 67.1h5.4v5.4h-5.4zM225.6 71.7h5.4v5.4h-5.4zM226.1 79.9h5.4v5.4h-5.4zM237.3 87.5h5.4v5.4h-5.4zM250.6 88.1h5.4v5.4h-5.4zM230.7 99.8h5.4v5.4h-5.4zM252.6 100.3h5.4v5.4h-5.4zM257.8 98.8h5.4v5.4h-5.4zM265.4 94.2h5.4v5.4h-5.4zM270 93.2h5.4v5.4h-5.4zM273.6 95.2h5.4v5.4h-5.4zM277.7 97.2h5.4v5.4h-5.4zM270 99.8h5.4v5.4h-5.4zM278.7 100.3h5.4v5.4h-5.4zM260.3 93.7h5.4v5.4h-5.4zM325.3 90.6h5.4v5.4h-5.4zM225.2 82.7h5.4v5.4h-5.4zM344 98h5.4v5.4h-5.4zM264.7 71.5h5.4v5.4h-5.4zM299.3 77.5h5.4v5.4h-5.4zM296.7 86.5h5.4v5.4h-5.4zM240.4 79.1h5.4v5.4h-5.4zM274.1 90.2h5.4v5.4h-5.4zM244.1 81.9h5.4v5.4h-5.4zM274.4 92h5.4v5.4h-5.4zM266.4 79.8h5.4v5.4h-5.4zM247.9 75.3h5.4v5.4h-5.4zM236.2 83.3h5.4v5.4h-5.4zM268.6 90.3h5.4v5.4h-5.4zM327.8 88.7h5.4v5.4h-5.4zM294.4 79.3h5.4v5.4h-5.4zM238.9 76.8h5.4v5.4h-5.4zM265.1 77.1h5.4v5.4h-5.4zM246.7 83.6h5.4v5.4h-5.4zM261.7 85.8h5.4v5.4h-5.4zM268.2 85.4h5.4v5.4h-5.4zM296.4 81.3h5.4v5.4h-5.4zM256.7 85.6h5.4v5.4h-5.4zM274.1 88.5h5.4v5.4h-5.4zM249.1 75.7h5.4v5.4h-5.4zM242.3 85.9h5.4v5.4h-5.4zM293 90.9h5.4v5.4h-5.4zM264.3 69.5h5.4v5.4h-5.4zM262.4 82h5.4v5.4h-5.4zM267.4 78h5.4v5.4h-5.4zM307.5 78h5.4v5.4h-5.4zM273 92.9h5.4v5.4h-5.4zM238.4 79.8h5.4v5.4h-5.4zM229.1 77.3h5.4v5.4h-5.4zM322.6 88.1h5.4v5.4h-5.4zM265.6 73.9h5.4v5.4h-5.4zM302.9 79.5h5.4v5.4h-5.4zM230.2 80h5.4v5.4h-5.4zM266.4 91.5h5.4v5.4h-5.4zM284.9 90.7h5.4v5.4h-5.4zM296.1 87.6h5.4v5.4h-5.4zM313.7 81h5.4v5.4h-5.4zM293.4 73.6h5.4v5.4h-5.4zM303 79.8h5.4v5.4h-5.4zM229.1 76.5h5.4v5.4h-5.4zM335.5 93.3h5.4v5.4h-5.4zM279.5 86.3h5.4v5.4h-5.4zM249.6 88.2h5.4v5.4h-5.4zM323.1 86.2h5.4v5.4h-5.4zM266.2 68.2h5.4v5.4h-5.4zM227 80.4h5.4v5.4h-5.4zM279.2 82.5h5.4v5.4h-5.4zM269.6 88h5.4v5.4h-5.4zM338.3 89.8h5.4v5.4h-5.4zM300.4 74.7h5.4v5.4h-5.4zM256.8 83h5.4v5.4h-5.4zM332.5 92.9h5.4v5.4h-5.4zM231.7 71.5h5.4v5.4h-5.4zM235.5 83h5.4v5.4h-5.4zM241.6 79.3h5.4v5.4h-5.4zM301.6 75.8h5.4v5.4h-5.4zM270.2 80.3h5.4v5.4h-5.4zM257.7 85.5h5.4v5.4h-5.4zM275.4 85.8h5.4v5.4h-5.4zM310.4 89.7h5.4v5.4h-5.4zM287.2 90.5h5.4v5.4h-5.4zM292.9 72.7h5.4v5.4h-5.4zM225.1 79h5.4v5.4h-5.4zM299.5 83.3h5.4v5.4h-5.4zM266.2 72.7h5.4v5.4h-5.4zM282.9 88.4h5.4v5.4h-5.4zM248.1 79.3h5.4v5.4h-5.4zM251.2 77h5.4v5.4h-5.4zM274.9 92.1h5.4v5.4h-5.4zM265.7 77.9h5.4v5.4h-5.4zM267.3 72.7h5.4v5.4h-5.4zM270.3 69h5.4v5.4h-5.4zM298.8 88.8h5.4v5.4h-5.4zM249.3 81.8h5.4v5.4h-5.4zM319.9 89h5.4v5.4h-5.4zM260.5 82.2h5.4v5.4h-5.4zM233 74.8h5.4v5.4h-5.4zM256.3 75.4h5.4v5.4h-5.4zM225 76.3h5.4v5.4h-5.4zM266.4 86.7h5.4v5.4h-5.4zM260.1 75.6h5.4v5.4h-5.4zM283 93.2h5.4v5.4h-5.4zM282.2 85.2h5.4v5.4h-5.4zM263.7 73.1h5.4v5.4h-5.4zM246.1 81.4h5.4v5.4h-5.4zM279.4 81.3h5.4v5.4h-5.4zM328.5 88h5.4v5.4h-5.4zM237.4 78.3h5.4v5.4h-5.4zM275.7 82.9h5.4v5.4h-5.4zM307.5 89.7h5.4v5.4h-5.4zM291.8 87.4h5.4v5.4h-5.4zM346.6 96h5.4v5.4h-5.4zM262.2 82h5.4v5.4h-5.4zM238.3 75.5h5.4v5.4h-5.4zM289 89.5h5.4v5.4h-5.4zM260.9 77.2h5.4v5.4h-5.4zM272.5 88.5h5.4v5.4h-5.4zM233.9 81.6h5.4v5.4h-5.4zM343.6 90.6h5.4v5.4h-5.4zM289.6 77h5.4v5.4h-5.4zM264.2 85.8h5.4v5.4h-5.4zM291.4 72.8h5.4v5.4h-5.4zM235.5 76.8h5.4v5.4h-5.4zM307.4 90.8h5.4v5.4h-5.4zM345.1 98.4h5.4v5.4h-5.4zM304.7 81h5.4v5.4h-5.4zM286.4 89.5h5.4v5.4h-5.4zM265.4 71.5h5.4v5.4h-5.4zM245.7 76.7h5.4v5.4h-5.4zM305.2 91.3h5.4v5.4h-5.4zM267.1 71.6h5.4v5.4h-5.4zM270.2 86.1h5.4v5.4h-5.4zM241.7 85.2h5.4v5.4h-5.4zM281.6 93.6h5.4v5.4h-5.4zM230.2 76.7h5.4v5.4h-5.4zM240 83.9h5.4v5.4h-5.4zM255.7 79.6h5.4v5.4h-5.4zM299.6 91.1h5.4v5.4h-5.4zM310.5 84.6h5.4v5.4h-5.4zM295.4 88.2h5.4v5.4h-5.4zM231.2 82.9h5.4v5.4h-5.4zM241.8 78.6h5.4v5.4h-5.4zM282 91.1h5.4v5.4h-5.4zM237 79.8h5.4v5.4h-5.4zM248.7 81.4h5.4v5.4h-5.4zM270.3 78.1h5.4v5.4h-5.4zM280.5 92.5h5.4v5.4h-5.4zM336.3 94.5h5.4v5.4h-5.4zM251 77.1h5.4v5.4h-5.4zM250 87.4h5.4v5.4h-5.4zM266.7 69.3h5.4v5.4h-5.4zM231.2 66.2h5.4v5.4h-5.4zM293.3 72.3h5.4v5.4h-5.4zM303.9 82.3h5.4v5.4h-5.4zM244.7 79.3h5.4v5.4h-5.4zM253 85.9h5.4v5.4h-5.4z"/>
<path fill="none" stroke="#000" stroke-width="1.4" d="M58.6 10.3H683.2V447H58.6ZM58.6 223.5H683.2M58.6 10.3h12.5M683.2 10.3h-12.5M58.6 63.6h12.5M683.2 63.6h-12.5M58.6 116.9h12.5M683.2 116.9h-12.5M58.6 170.2h12.5M683.2 170.2h-12.5M58.6 223.5h12.5M683.2 223.5h-12.5M58.6 37h6.5M683.2 37h-6.5M58.6 90.2h6.5M683.2 90.2h-6.5M58.6 143.6h6.5M683.2 143.6h-6.5M58.6 196.8h6.5M683.2 196.8h-6.5M58.6 279.8h12.5M683.2 279.8h-12.5M58.6 335.6h12.5M683.2 335.6h-12.5M58.6 391.5h12.5M683.2 391.5h-12.5M58.6 447h12.5M683.2 447h-12.5M58.6 251.8h6.5M683.2 251.8h-6.5M58.6 307.7h6.5M683.2 307.7h-6.5M58.6 363.6h6.5M683.2 363.6h-6.5M58.6 419.5h6.5M683.2 419.5h-6.5M370.9 10.3v12M370.9 223.5v-12M214.7 10.3v6.5M214.7 223.5v-6.5M527 10.3v6.5M527 223.5v-6.5M370.9 223.5v13M370.9 447v-12.5"/>
<rect x="553.8" y="28.5" width="114.3" height="42.7" fill="#fff" stroke="#000" stroke-width="1.4"/>
<path fill="none" stroke="#000" stroke-width="1.6" d="M570.6 41.2a2.1 2.1 0 1 0 4.3 0a2.1 2.1 0 1 0 -4.3 0"/>
<path fill="none" stroke="#f00" stroke-width="1.4" d="M569.6 56h5.4v5.4h-5.4z"/>
<text x="595" y="47.5" font-size="17.5">Observed</text>
<text x="595" y="65.5" font-size="17.5">Predicted</text>
<rect x="474" y="238.5" width="199.8" height="47" fill="#fff" stroke="#000" stroke-width="1.4"/>
<path fill="#008000" d="M492 252h1v2h-1z"/>
<path fill="none" stroke="#ff00ff" stroke-width="2" d="M489.4 270.3L495.4 275.5M495.4 270.3L489.4 275.5"/>
<text x="515.5" y="258" font-size="17.5">10000 ETAS catalogs</text>
<text x="515.5" y="279.9" font-size="17.5">Observed</text>
<text x="53" y="0" font-size="26" text-anchor="end" transform="translate(0 20.2) scale(1 1.1)">36</text>
<text x="53" y="0" font-size="26" text-anchor="end" transform="translate(0 73.5) scale(1 1.1)">35</text>
<text x="53" y="0" font-size="26" text-anchor="end" transform="translate(0 126.8) scale(1 1.1)">34</text>
<text x="53" y="0" font-size="26" text-anchor="end" transform="translate(0 180.1) scale(1 1.1)">33</text>
<text x="53" y="0" font-size="26" text-anchor="end" transform="translate(0 233.4) scale(1 1.1)">32</text>
<text x="53" y="0" font-size="26" text-anchor="end" transform="translate(0 290.1) scale(1 1.1)">35</text>
<text x="53" y="0" font-size="26" text-anchor="end" transform="translate(0 346) scale(1 1.1)">34</text>
<text x="53" y="0" font-size="26" text-anchor="end" transform="translate(0 401.9) scale(1 1.1)">33</text>
<text x="53" y="0" font-size="26" text-anchor="end" transform="translate(0 457.7) scale(1 1.1)">32</text>
<text x="371.2" y="0" font-size="26" text-anchor="middle" transform="translate(0 473.3) scale(1 1.1)">-116</text>
<text x="371.6" y="0" font-size="26" text-anchor="middle" transform="translate(0 497) scale(1 1.1)">Longitude</text>
<text x="0" y="0" font-size="26" text-anchor="middle" transform="translate(19.5 116.5) rotate(-90) scale(1 1.1)">Latitude</text>
<text x="0" y="0" font-size="26" text-anchor="middle" transform="translate(19.5 335) rotate(-90) scale(1 1.1)">Latitude</text>
<text x="78" y="0" font-size="36" transform="translate(0 198.5) scale(1 1.03)">a<tspan dx="1">)</tspan></text>
<text x="0" y="0" font-size="37" transform="translate(79.3 424.6) scale(1.04 1.03)">b<tspan dx="1.2">)</tspan></text>
</svg>
</body></html>
